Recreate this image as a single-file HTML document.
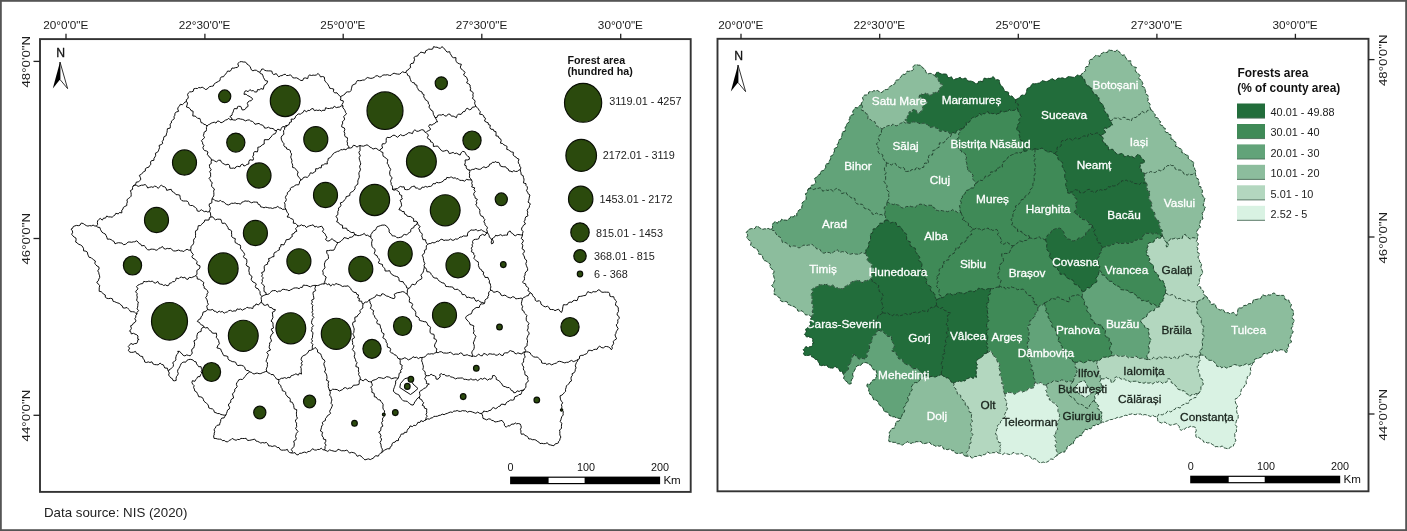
<!DOCTYPE html>
<html lang="en"><head><meta charset="utf-8"><title>Forest area in Romania by county</title>
<style>html,body{margin:0;padding:0;background:#fff}body{width:1407px;height:531px;overflow:hidden}svg{display:block;filter:blur(.45px)}text{font-family:"Liberation Sans",Arial,sans-serif}.t{font-size:11.75px;fill:#1c1c1c}.lb{font-size:11.8px;text-anchor:middle;stroke-width:.3px}.w{fill:#fff;stroke:#fff}.d{fill:#18221b;stroke:#18221b}.lg{font-size:10.85px;fill:#1c1c1c}.lt{font-size:10.7px;font-weight:bold;fill:#111}</style></head><body>
<svg width="1407" height="531" viewBox="0 0 1407 531">
<rect x="0" y="0" width="1407" height="531" fill="#fff"/>
<rect x="0.9" y="0.9" width="1405.2" height="529.2" fill="none" stroke="#555" stroke-width="1.8"/>
<rect x="40" y="39.1" width="650.7" height="452.8" fill="#fff" stroke="#333" stroke-width="1.9"/>
<rect x="717.5" y="38.8" width="651" height="452.5" fill="#fff" stroke="#333" stroke-width="1.9"/>
<line x1="66" y1="33.8" x2="66" y2="39" stroke="#222" stroke-width="1.3"/>
<text class="t" x="65.7" y="29.2" text-anchor="middle">20°0'0&quot;E</text>
<line x1="204.9" y1="33.8" x2="204.9" y2="39" stroke="#222" stroke-width="1.3"/>
<text class="t" x="204.6" y="29.2" text-anchor="middle">22°30'0&quot;E</text>
<line x1="343.2" y1="33.8" x2="343.2" y2="39" stroke="#222" stroke-width="1.3"/>
<text class="t" x="342.9" y="29.2" text-anchor="middle">25°0'0&quot;E</text>
<line x1="481.8" y1="33.8" x2="481.8" y2="39" stroke="#222" stroke-width="1.3"/>
<text class="t" x="481.5" y="29.2" text-anchor="middle">27°30'0&quot;E</text>
<line x1="620.7" y1="33.8" x2="620.7" y2="39" stroke="#222" stroke-width="1.3"/>
<text class="t" x="620.4000000000001" y="29.2" text-anchor="middle">30°0'0&quot;E</text>
<line x1="741" y1="33.8" x2="741" y2="39" stroke="#222" stroke-width="1.3"/>
<text class="t" x="740.7" y="29.2" text-anchor="middle">20°0'0&quot;E</text>
<line x1="879.7" y1="33.8" x2="879.7" y2="39" stroke="#222" stroke-width="1.3"/>
<text class="t" x="879.4000000000001" y="29.2" text-anchor="middle">22°30'0&quot;E</text>
<line x1="1018.3" y1="33.8" x2="1018.3" y2="39" stroke="#222" stroke-width="1.3"/>
<text class="t" x="1018.0" y="29.2" text-anchor="middle">25°0'0&quot;E</text>
<line x1="1156.9" y1="33.8" x2="1156.9" y2="39" stroke="#222" stroke-width="1.3"/>
<text class="t" x="1156.6000000000001" y="29.2" text-anchor="middle">27°30'0&quot;E</text>
<line x1="1295.4" y1="33.8" x2="1295.4" y2="39" stroke="#222" stroke-width="1.3"/>
<text class="t" x="1295.1000000000001" y="29.2" text-anchor="middle">30°0'0&quot;E</text>
<line x1="33.5" y1="61.4" x2="40" y2="61.4" stroke="#222" stroke-width="1.3"/>
<text class="t" transform="translate(29.8,61.699999999999996) rotate(-90) scale(1.13,1)" text-anchor="middle">48°0'0&quot;N</text>
<line x1="33.5" y1="238.5" x2="40" y2="238.5" stroke="#222" stroke-width="1.3"/>
<text class="t" transform="translate(29.8,238.8) rotate(-90) scale(1.13,1)" text-anchor="middle">46°0'0&quot;N</text>
<line x1="33.5" y1="415.3" x2="40" y2="415.3" stroke="#222" stroke-width="1.3"/>
<text class="t" transform="translate(29.8,415.6) rotate(-90) scale(1.13,1)" text-anchor="middle">44°0'0&quot;N</text>
<line x1="1368.5" y1="59.6" x2="1374.5" y2="59.6" stroke="#222" stroke-width="1.3"/>
<text class="t" transform="translate(1386.6,60.300000000000004) rotate(-90) scale(1.13,1)" text-anchor="middle">48°0'0&quot;N</text>
<line x1="1368.5" y1="237" x2="1374.5" y2="237" stroke="#222" stroke-width="1.3"/>
<text class="t" transform="translate(1386.6,237.7) rotate(-90) scale(1.13,1)" text-anchor="middle">46°0'0&quot;N</text>
<line x1="1368.5" y1="414" x2="1374.5" y2="414" stroke="#222" stroke-width="1.3"/>
<text class="t" transform="translate(1386.6,414.7) rotate(-90) scale(1.13,1)" text-anchor="middle">44°0'0&quot;N</text>
<text x="60.6" y="56.9" text-anchor="middle" style="font-size:12.2px;fill:#111;stroke:#111;stroke-width:.3px">N</text><path d="M60,62 L52.8,88.6 L60,79.5 Z" fill="#000"/><path d="M60,62 L67.6,88.6 L60,79.5 Z" fill="#fff" stroke="#000" stroke-width="0.8" stroke-linejoin="miter"/>
<text x="738.6" y="59.9" text-anchor="middle" style="font-size:12.2px;fill:#111;stroke:#111;stroke-width:.3px">N</text><path d="M738,65 L730.8,91.6 L738,82.5 Z" fill="#000"/><path d="M738,65 L745.6,91.6 L738,82.5 Z" fill="#fff" stroke="#000" stroke-width="0.8" stroke-linejoin="miter"/>
<g fill="none" stroke="#000" stroke-width="0.95" stroke-linejoin="round">
<path d="M186.5,101.5 L186.3,99.7 L188.1,98.4 L188.3,96.7 L187.5,94.7 L188.3,93.1 L189.6,91.9 L191.5,91.8 L193.2,91.3 L193.8,88.8 L195.6,88.4 L197.5,88.5 L198.7,87.5 L200.4,87.8 L202.2,87.2 L203.8,88.0 L205.3,89.5 L207.2,89.1 L208.3,87.7 L209.7,86.6 L211.5,86.3 L213.3,86.0 L214.2,84.1 L215.4,82.9 L217.0,82.2 L218.5,81.3 L220.0,80.5 L220.3,78.3 L221.3,76.9 L223.6,76.7 L224.5,75.2 L225.7,74.0 L226.7,72.6 L227.6,71.0 L230.1,71.3 L231.2,69.9 L232.0,68.0 L233.9,68.2 L235.6,67.6 L237.3,67.5 L238.6,66.0 L237.7,63.7 L239.1,62.5 L239.8,61.8 L241.6,61.6 L243.3,62.0 L245.1,62.0 L246.6,63.0 L247.2,64.3 L248.8,65.3 L250.2,66.6 L250.7,68.2 L251.4,69.9 L252.9,70.8 L254.9,70.1 L256.6,70.4 L258.0,71.6 L259.7,72.0"/>
<path d="M259.7,72.0 L261.0,70.8 L261.8,69.0 L263.4,69.1 L264.9,70.4 L266.6,70.8 L268.3,70.9 L270.1,70.9 L271.9,71.2 L272.4,73.5 L273.8,74.6 L276.3,73.6 L277.3,75.2 L278.8,76.9 L280.3,75.8 L282.0,75.6 L283.5,74.7 L285.2,74.2 L286.5,75.5 L288.3,75.5 L290.5,74.8 L291.7,76.2 L292.9,77.8 L294.7,78.0 L296.5,77.8 L298.0,78.6 L299.5,79.6 L300.9,80.5 L302.8,80.4 L303.6,78.3 L305.3,77.9 L307.7,78.6 L308.3,76.4 L309.4,74.9 L311.5,75.5 L313.1,75.1 L314.8,75.3 L316.5,74.9 L318.1,73.4 L319.6,75.2 L320.5,76.9 L322.7,76.5 L324.4,77.2 L324.6,79.4 L324.9,81.1 L326.2,82.3 L327.4,83.6 L328.2,84.9 L329.1,86.5 L329.7,88.2 L331.7,88.6 L333.7,89.0 L333.5,91.7 L334.7,92.9 L337.0,92.8 L338.0,94.3 L339.2,95.4 L340.5,96.5"/>
<path d="M340.5,96.5 L342.1,95.9 L343.6,95.0 L345.0,94.0 L346.0,92.4 L347.6,91.8 L349.6,92.0 L351.0,90.6 L351.4,88.8 L351.8,87.1 L352.2,85.4 L354.0,84.4 L355.9,83.6 L356.2,82.3 L357.4,80.5 L359.3,80.7 L361.0,80.6 L362.6,80.1 L364.4,80.0 L365.8,78.8 L367.3,77.5 L369.1,78.0 L370.9,78.4 L372.6,78.1 L374.2,77.4 L375.6,76.1 L377.3,75.6 L379.3,76.9 L380.9,76.9 L382.4,75.3 L384.1,74.9 L385.8,75.0 L387.5,74.7 L389.3,75.4 L391.0,75.4 L392.5,73.8 L394.1,73.2 L395.9,73.8 L397.7,74.1 L399.4,74.2 L401.0,73.2 L402.5,71.7 L404.3,72.5 L406.0,72.5"/>
<path d="M406.0,72.5 L406.5,70.7 L408.2,69.9 L409.2,68.5 L410.7,67.5 L410.1,65.0 L411.0,63.6 L413.5,63.1 L413.9,61.4 L414.6,59.8 L413.9,57.5 L415.4,56.4 L417.9,55.8 L418.2,54.5 L419.6,53.5 L420.8,52.1 L422.9,52.6 L425.0,53.2 L425.8,50.7 L427.3,50.0 L428.7,49.1 L430.8,49.3 L432.6,49.1 L433.6,46.6 L435.3,47.2 L437.0,47.2 L438.7,48.0 L440.4,48.4 L442.1,46.5 L443.6,48.3 L445.0,49.3 L445.9,50.9 L447.1,52.1 L449.7,51.7 L450.2,53.7 L451.2,55.1 L451.9,56.7 L453.4,57.7 L456.0,57.7 L455.8,60.1 L456.4,61.7 L457.5,63.0 L459.3,63.8 L461.4,64.3 L460.3,67.1 L460.9,68.7 L462.4,69.8 L463.8,71.0 L465.0,72.4 L463.5,75.0 L464.9,76.1 L466.6,77.3 L467.2,78.9 L467.8,80.5 L466.6,82.8 L468.6,83.8 L470.1,85.0 L470.1,86.9 L470.7,88.4 L470.1,90.5 L472.2,91.5 L473.3,93.1 L472.8,94.9 L473.2,96.6 L472.4,98.4 L474.3,99.8 L475.1,101.3 L474.6,103.2 L475.2,104.8 L475.8,106.4"/>
<path d="M475.8,106.4 L477.2,107.5 L478.3,108.8 L479.1,110.3 L480.3,111.6 L479.6,114.2 L482.1,114.5 L483.6,115.6 L484.0,117.3 L485.6,118.4 L484.5,121.0 L486.1,122.0 L488.2,122.8 L488.4,124.6 L490.3,125.2 L489.9,127.8 L490.9,129.2 L493.3,129.4 L493.9,131.1 L495.9,131.6 L496.1,133.8 L495.9,135.8 L498.4,136.3 L498.9,138.0 L500.6,138.9 L501.2,140.6 L500.4,143.1 L502.7,143.6 L503.9,144.9 L505.6,145.6 L507.1,146.5 L506.7,149.3 L508.5,149.9 L509.9,150.9 L511.4,151.9 L513.4,152.3 L513.1,155.0 L514.3,156.2 L515.9,157.0 L516.9,158.3 L519.0,159.2 L518.3,161.4 L518.4,163.2 L519.6,164.5 L519.7,166.1 L520.9,167.8 L520.3,169.5"/>
<path d="M520.3,169.5 L520.5,171.2 L521.0,172.8 L521.1,174.6 L523.2,175.7 L523.4,177.4 L524.0,179.0 L523.9,180.8 L523.4,182.9 L526.0,183.7 L526.0,185.5 L527.3,186.8 L527.4,188.7 L526.5,190.7 L527.6,192.1 L528.1,193.7 L530.0,195.0 L529.3,197.0 L529.1,198.7 L528.7,200.4 L528.0,202.1 L530.4,203.8 L529.5,205.5 L529.3,207.2 L528.2,208.7 L527.1,210.2 L527.8,212.1 L527.4,213.8 L528.0,215.8 L525.8,216.8 L525.2,218.4 L525.0,220.1 L524.1,221.6 L525.5,224.0 L523.6,225.1 L522.7,226.6 L521.7,228.0 L521.6,229.9 L523.1,231.6 L522.6,233.3 L522.5,235.0"/>
<path d="M522.5,235.0 L522.1,236.7 L521.2,238.4 L523.3,240.2 L523.0,241.9 L521.7,243.6 L522.8,245.2 L522.5,247.0 L522.0,248.7 L524.2,250.2 L524.4,251.9 L522.8,253.8 L523.7,255.4 L524.5,257.0 L524.7,258.7 L526.4,260.0 L526.6,261.7 L525.8,263.6 L526.3,265.3 L526.9,266.9 L527.6,268.5 L527.6,270.5 L526.0,271.7 L525.1,273.2 L525.1,275.0 L524.2,276.5 L524.5,278.4 L524.3,280.2 L522.4,282.0 L523.7,283.2 L525.7,283.9 L525.9,285.8 L527.3,287.0 L528.7,288.1 L527.9,290.7 L529.4,291.6 L530.5,293.0"/>
<path d="M530.5,293.0 L532.1,293.9 L532.7,295.6 L533.7,297.0 L535.1,298.1 L535.2,300.2 L536.7,301.3 L539.4,300.7 L540.6,301.9 L541.0,304.2 L542.3,305.2 L543.7,306.2 L545.4,306.9 L547.4,306.2 L548.9,307.3 L549.9,309.4 L551.7,309.5 L553.5,309.6 L555.0,310.7 L556.8,309.8 L558.6,309.2 L560.0,311.4 L561.6,312.4 L562.5,309.8 L562.7,308.0 L563.0,306.3 L563.4,304.7 L565.5,304.8 L567.3,304.7 L568.5,302.6 L570.1,302.1 L571.9,302.3 L573.0,300.8 L574.7,300.3 L577.0,300.7 L577.8,298.8 L578.5,296.5 L580.3,296.4 L582.1,296.1 L583.8,295.6 L585.6,295.5 L586.6,293.6 L587.8,291.6 L589.8,292.5 L591.6,292.8 L593.1,291.6 L594.9,291.9 L596.6,291.6 L598.2,289.8 L599.9,290.2 L601.4,292.1 L603.1,292.3 L604.8,292.1 L606.5,292.2 L608.6,292.2 L609.6,293.6 L609.9,296.2 L611.6,296.7 L613.7,296.7 L614.2,298.5 L615.2,300.0 L616.5,301.3 L615.6,303.5 L615.5,305.3 L617.5,306.4 L618.3,308.0 L618.3,309.8 L618.5,311.4 L617.3,313.3 L617.1,315.0 L619.1,316.7 L619.2,318.4 L617.7,319.9 L617.9,321.7 L617.6,323.4 L616.2,324.9 L617.0,326.7 L618.2,328.6 L617.2,330.2 L616.2,331.8 L615.9,333.4 L615.0,334.9 L615.7,336.9 L616.6,338.8 L614.7,340.1 L613.1,341.5 L613.7,343.3 L612.9,344.9 L611.8,346.2 L612.3,348.3 L611.4,349.8 L609.9,347.8 L608.4,346.9 L606.6,346.5 L605.1,346.5 L603.6,347.8 L601.9,347.8 L599.7,346.2 L598.2,347.2 L597.1,349.3 L595.3,349.3 L593.6,349.6 L592.2,350.8 L590.2,350.3 L588.4,350.3 L587.5,352.5 L586.4,353.9 L584.7,354.4 L583.2,355.3 L581.2,355.4 L579.5,356.2 L579.5,358.7 L577.9,359.5"/>
<path d="M577.9,359.5 L577.5,361.2 L576.4,362.6 L575.8,364.2 L575.3,365.8 L576.1,367.9 L575.3,369.4 L575.1,371.2 L574.2,372.7 L572.1,373.7 L572.3,375.6 L571.2,376.9 L571.0,378.7 L571.5,380.9 L569.8,381.9 L569.2,383.5 L567.6,384.7 L566.4,385.9 L566.1,387.7 L565.5,389.3 L565.6,391.3 L564.3,392.6 L563.3,393.9 L561.9,395.1 L560.0,395.9 L560.3,398.1 L560.6,399.8 L561.5,401.3 L562.7,402.8 L561.4,404.8 L561.9,406.5 L561.7,408.3 L562.0,409.9 L563.3,411.5 L563.1,413.2 L563.2,415.0 L561.9,416.5 L561.3,418.1 L560.9,419.8 L560.2,421.5 L561.8,423.3 L561.5,425.0 L561.4,426.7 L561.5,428.4 L559.5,430.0 L559.9,431.7 L559.8,433.4 L559.9,435.1 L560.9,437.0 L560.1,438.6 L559.7,440.3 L558.4,441.8 L558.6,442.7 L557.0,443.5 L555.3,443.8 L553.9,445.7 L552.1,445.4 L550.3,444.9 L548.7,444.6 L547.3,442.7 L545.4,443.6 L543.6,443.7 L541.9,443.3 L540.0,443.6 L538.8,442.0 L537.2,441.2 L535.9,440.1 L534.3,439.6 L532.3,439.7 L530.8,438.9 L528.8,439.0 L527.9,437.2 L526.6,435.9 L524.9,435.5 L523.7,433.9 L521.4,434.3 L520.8,432.6 L521.0,430.9 L520.4,429.4 L521.3,427.3 L520.9,425.7 L520.3,424.1 L518.3,423.5 L516.4,423.8 L515.3,422.8 L514.2,424.1 L512.0,424.1 L510.5,424.9 L509.6,426.1 L507.9,425.6 L506.2,427.3 L504.4,425.4 L504.3,423.4 L503.2,422.1 L502.0,420.4 L500.2,420.8 L498.5,421.4 L496.7,421.7 L495.0,422.0 L493.4,420.7 L491.7,420.3 L490.2,419.0 L488.5,418.9 L486.6,419.9 L485.0,419.1 L483.0,418.4 L482.7,416.5 L482.4,414.6 L481.0,413.5"/>
<path d="M481.0,413.5 L479.3,413.2 L477.8,412.0 L475.8,413.3 L474.2,412.7 L472.6,412.1 L470.9,411.5 L469.2,411.4 L467.4,412.2 L465.8,410.8 L464.1,410.9 L462.4,410.6 L460.7,411.4 L458.9,411.3 L457.2,410.5 L455.5,411.1 L453.8,411.1 L452.4,412.4 L450.5,412.0 L448.9,412.6 L447.3,413.4 L445.7,413.8 L444.1,414.7 L442.2,414.1 L440.7,415.2 L439.0,415.4 L437.5,416.2 L435.7,416.4 L433.9,416.3 L432.6,417.8 L430.9,418.0 L429.5,419.1 L427.5,418.8 L426.1,419.8 L424.5,420.5"/>
<path d="M424.5,420.5 L423.1,421.6 L420.9,420.6 L419.9,422.5 L417.9,422.3 L417.0,424.3 L415.7,425.5 L413.7,425.3 L412.5,426.6 L410.0,425.9 L409.4,427.9 L408.1,428.8 L407.2,430.4 L406.7,432.4 L404.4,432.3 L403.7,434.0 L401.3,434.0 L400.5,435.6 L399.8,437.3 L398.6,438.4 L398.4,440.6 L396.1,440.7 L395.1,442.1 L393.2,442.6 L392.0,443.7 L391.8,445.9 L390.3,446.8 L389.7,448.9 L387.6,448.7 L386.0,449.4 L384.5,450.2 L383.1,451.1 L382.0,452.5"/>
<path d="M382.0,452.5 L380.4,453.2 L379.2,454.5 L378.3,456.2 L375.9,455.7 L374.4,456.6 L373.4,458.2 L371.8,458.8 L370.3,459.6 L368.2,458.8 L367.2,459.2 L364.9,459.9 L363.6,458.6 L362.3,457.5 L361.1,456.1 L359.5,455.4 L357.2,456.3 L356.1,454.6 L354.9,453.1 L353.2,452.6 L351.5,452.3 L349.5,453.1 L348.2,451.5 L346.8,450.0 L344.8,450.8 L343.1,450.7 L341.6,450.8 L339.8,449.9 L338.0,449.2 L336.5,451.2 L334.8,451.4 L333.0,450.9 L331.3,450.5 L329.7,449.8 L327.8,451.4 L326.1,450.6 L324.5,450.0"/>
<path d="M324.5,450.0 L322.8,449.7 L321.3,448.2 L319.4,449.5 L317.7,449.4 L316.4,450.1 L314.6,450.0 L312.5,448.7 L311.2,450.4 L309.7,451.4 L308.0,451.5 L306.6,452.8 L304.7,452.1 L303.0,452.5 L301.5,453.3 L299.7,453.2 L298.1,454.9 L296.4,454.6 L295.0,452.6 L293.2,453.0 L291.5,453.0"/>
<path d="M291.5,453.0 L289.8,452.6 L288.4,451.6 L287.4,449.4 L285.3,450.1 L283.5,450.1 L281.7,450.2 L280.1,449.5 L279.0,447.5 L277.2,447.5 L275.8,446.2 L274.2,445.8 L272.2,446.5 L270.6,445.9 L268.7,445.9 L267.7,443.7 L266.3,442.4 L264.3,443.0 L262.7,442.5 L260.8,443.1 L259.3,442.2 L257.7,441.4 L256.1,441.1 L254.7,439.1 L252.9,439.6 L251.1,440.0 L249.3,440.4 L247.5,440.4 L246.1,438.3 L244.4,438.5 L242.7,438.5 L241.0,438.4 L239.3,439.6 L237.6,439.4 L236.1,440.3 L234.2,439.6 L232.2,438.4 L230.8,439.8 L229.2,440.4 L227.7,441.9 L225.8,441.6 L224.2,440.4 L222.4,440.7 L220.9,439.1 L219.5,439.2 L217.6,439.0 L215.9,438.5 L214.0,438.4 L213.6,435.8 L214.2,435.0 L214.2,433.2 L214.7,431.6 L214.0,429.4 L215.3,428.2 L215.9,426.6 L217.1,425.3 L219.6,424.9 L219.9,423.1 L220.6,421.6 L220.8,419.5 L221.8,418.1 L224.1,417.9 L224.9,416.3 L226.0,415.0"/>
<path d="M226.0,415.0 L224.2,415.2 L222.6,414.8 L220.9,414.5 L219.3,413.5 L217.7,413.6 L216.1,412.8 L214.4,412.3 L213.8,410.2 L212.6,409.0 L210.7,408.6 L208.8,407.9 L208.5,406.0 L207.8,404.4 L206.5,403.3 L205.1,402.2 L203.8,401.0 L203.3,399.2 L202.4,397.6 L200.8,396.9 L198.7,396.7 L198.0,394.8 L197.3,393.4 L196.5,391.9 L194.7,390.9 L194.4,389.1 L193.6,387.6 L194.1,385.6 L192.8,384.3 L191.9,382.7 L192.4,380.7 L194.9,381.3 L195.8,379.6 L196.9,378.3 L197.8,376.7 L200.0,376.6 L200.5,374.8 L201.8,373.5 L201.1,371.3 L202.2,370.0 L201.4,368.8 L201.1,366.7 L198.6,366.7 L197.7,365.3 L196.6,363.9 L196.1,361.9 L194.2,361.4 L193.1,360.1 L192.1,359.7 L190.2,359.3 L188.5,359.6 L186.9,360.4 L185.7,362.2 L183.9,362.0 L182.2,362.6 L181.0,363.9 L180.4,365.4 L179.7,366.9 L178.8,368.5 L177.8,369.9 L177.6,371.7 L178.3,373.6 L177.6,375.2 L176.4,376.7 L176.1,378.4 L176.2,380.4 L174.5,380.8 L173.0,380.5 L172.4,378.7 L170.8,377.9 L169.7,376.5 L168.6,375.0 L169.3,373.0 L168.5,371.5"/>
<path d="M168.5,371.5 L167.8,369.9 L167.4,368.2 L164.8,368.0 L164.1,366.4 L163.3,364.8 L161.6,364.4 L160.1,363.1 L158.1,364.9 L156.4,364.7 L154.7,364.6 L153.1,364.0 L151.9,361.8 L149.9,362.5 L148.3,361.9 L146.3,362.5 L144.7,362.0 L144.3,359.7 L142.9,358.5 L142.7,356.6 L140.4,356.1 L139.0,355.0 L138.4,353.8 L136.7,353.6 L135.5,351.4 L133.5,352.2 L131.7,352.4 L130.0,352.2 L128.3,350.6 L129.6,348.1 L128.4,346.8 L128.3,346.4 L129.6,345.1 L130.9,343.4 L133.0,344.5 L134.5,343.6 L136.6,343.5 L137.5,341.9 L137.9,339.6 L139.1,339.5 L137.6,338.6 L138.0,336.0 L136.8,334.8 L135.0,334.1 L133.5,333.3 L131.3,333.9 L130.6,331.5 L129.5,331.2 L130.6,329.8 L131.4,328.4 L130.6,325.8 L132.4,325.0 L133.2,323.4 L135.0,322.4 L136.0,320.9 L134.8,318.7 L135.8,317.2 L135.8,315.4 L137.0,314.0"/>
<path d="M137.0,314.0 L135.6,313.1 L134.3,311.9 L132.5,311.7 L130.5,311.7 L129.5,310.0 L128.2,308.8 L127.0,307.5 L124.7,308.1 L122.9,307.8 L122.2,305.8 L120.7,304.9 L119.6,303.5 L117.9,303.0 L116.2,302.4 L114.7,301.7 L113.1,301.3 L112.4,298.8 L110.7,298.3 L108.7,298.6 L106.9,298.3 L105.3,297.2 L105.3,295.0 L103.6,294.2 L102.5,292.8 L101.2,291.7 L99.2,291.3 L99.2,289.1 L99.3,287.3 L99.8,285.5 L98.2,284.1 L96.7,282.1 L98.4,280.7 L98.8,279.1 L99.7,277.5 L99.6,275.8 L99.0,274.1 L98.7,272.4 L97.7,270.9 L99.1,268.9 L98.8,266.9 L97.0,266.0 L95.7,264.7 L94.8,263.3 L95.4,261.0 L93.8,259.9 L92.4,258.9 L91.2,257.7 L89.2,257.4 L88.4,255.8 L87.7,254.1 L87.4,252.2 L85.9,251.2 L83.5,250.8 L83.6,248.7 L82.8,247.1 L81.8,245.7 L80.3,244.8 L78.5,244.3 L77.4,243.0 L75.6,242.0 L76.1,239.8 L75.9,238.0 L74.1,237.0 L72.8,235.8 L71.7,234.3 L72.7,232.2 L72.2,230.5 L71.0,229.1 L72.5,228.4 L73.3,226.5 L74.9,225.9 L76.6,225.4 L78.3,225.7 L80.0,225.2 L81.3,223.0 L83.3,223.6 L84.8,224.7 L86.3,225.6 L87.9,226.1 L89.7,225.6 L91.4,225.9 L93.1,225.1 L94.8,226.0 L96.5,226.0"/>
<path d="M96.5,226.0 L97.6,224.5 L97.4,222.7 L97.6,220.9 L98.7,219.6 L100.2,218.4 L102.3,220.1 L103.6,218.1 L105.4,218.2 L106.7,216.0 L108.6,216.9 L110.3,216.9 L112.2,217.2 L113.6,215.9 L115.1,214.9 L115.8,213.3 L118.3,213.9 L119.4,212.5 L121.8,212.9 L121.8,210.1 L122.9,209.2 L123.3,207.5 L124.9,206.4 L126.8,205.5 L126.8,203.5 L127.4,201.9 L126.9,199.8 L128.3,198.6 L129.8,197.5 L131.1,196.2 L131.2,194.4 L131.0,192.5 L130.4,190.6 L132.6,189.4 L132.5,187.6 L133.0,186.0"/>
<path d="M133.0,186.0 L134.7,185.4 L135.7,183.9 L136.4,182.0 L138.5,181.9 L139.7,180.7 L140.8,179.2 L140.3,177.3 L139.3,175.4 L141.3,174.3 L142.5,173.0 L143.5,171.7 L145.3,171.0 L145.4,168.7 L146.9,167.7 L148.8,167.2 L149.6,165.6 L150.9,164.4 L150.5,162.1 L151.4,160.7 L153.9,160.3 L154.0,158.3 L155.0,156.9 L155.7,155.3 L155.4,153.2 L157.4,152.3 L158.4,150.9 L158.9,149.3 L159.6,147.7 L159.0,145.5 L161.1,144.6 L162.7,143.5 L162.2,141.4 L163.4,140.0 L163.6,138.2 L164.1,136.6 L166.2,135.7 L166.4,133.9 L167.0,132.3 L167.2,130.5 L167.4,128.7 L170.1,128.1 L170.4,126.3 L170.0,124.2 L171.4,123.0 L171.4,121.1 L172.8,119.9 L174.3,118.7 L174.0,116.7 L174.9,115.2 L174.9,113.3 L176.2,112.1 L178.6,111.3 L177.7,109.0 L178.1,107.3 L179.5,106.1 L180.3,104.3 L182.4,104.7 L183.7,103.5 L184.9,102.1 L186.5,101.5"/>
<path d="M186.5,101.5 L187.5,103.0 L187.1,104.9 L186.4,107.0 L189.0,107.8 L190.3,109.0 L191.0,110.6 L193.1,111.2 L193.0,113.4 L192.8,116.0 L195.1,116.1 L196.5,117.2 L197.7,118.4 L199.8,118.4 L200.5,120.3 L201.0,122.6 L202.7,123.1 L204.0,124.3 L205.8,124.8 L207.0,126.0"/>
<path d="M207.0,126.0 L208.3,124.8 L209.8,124.2 L211.2,123.2 L212.8,122.6 L214.3,122.2 L216.0,123.1 L217.7,120.9 L219.3,121.4 L221.0,122.8 L222.8,122.1 L224.1,121.1 L225.5,120.1 L227.2,119.6 L228.8,118.3 L230.2,119.9 L232.0,119.5"/>
<path d="M259.7,72.0 L260.4,73.6 L262.4,74.2 L263.0,75.9 L263.5,77.6 L264.4,79.1 L265.2,80.6 L267.7,81.1 L267.0,83.0 L266.0,84.4 L264.3,85.2 L263.8,87.0 L263.2,89.3 L260.8,88.5 L259.7,89.9 L257.6,89.5 L256.9,91.9 L254.8,92.0 L253.3,90.6 L251.5,90.8 L249.9,89.6 L248.1,91.7 L246.4,90.8 L245.0,91.1 L244.3,92.7 L244.0,94.4 L246.0,94.1 L247.4,95.5 L249.0,96.1 L250.5,97.1 L251.6,97.6 L252.6,99.1 L251.2,100.7 L249.4,101.0 L248.0,102.0 L247.3,103.4 L248.0,105.0 L247.9,106.7 L246.5,107.1 L245.5,108.9 L244.1,109.8 L242.1,109.9 L241.5,108.0 L240.7,106.4 L238.5,106.3 L237.5,106.7 L237.1,108.8 L234.4,108.5 L233.6,110.2 L233.2,111.9 L232.3,113.4 L232.0,115.2 L229.8,116.6 L231.6,117.8 L232.0,119.5"/>
<path d="M232.0,119.5 L233.7,120.0 L235.5,120.1 L237.2,118.9 L238.9,118.6 L240.6,119.1 L242.3,119.3 L244.0,120.0 L245.4,120.9 L247.4,120.1 L249.3,119.9 L250.7,121.0 L252.4,121.4 L253.8,122.6 L255.0,124.3 L257.0,123.8 L259.0,123.4 L260.4,124.6 L262.1,125.0 L263.6,125.9 L264.6,128.1 L266.5,128.0 L268.6,127.2 L270.0,128.3 L271.8,128.4 L273.5,128.7 L274.8,130.6 L276.6,130.4"/>
<path d="M276.6,130.4 L277.9,129.1 L280.5,130.4 L281.3,128.3 L282.5,126.7 L284.4,126.6 L285.8,125.6 L287.6,125.3"/>
<path d="M287.6,125.3 L289.2,124.4 L289.5,122.4 L291.5,121.9 L291.1,119.1 L293.6,119.2 L295.0,118.2 L295.6,116.3 L296.9,115.2 L298.2,113.9 L300.3,114.2 L301.7,113.2 L303.2,112.3 L304.3,110.2 L306.6,111.9 L307.9,110.3 L309.8,110.6 L311.1,109.0 L313.1,108.5 L314.4,110.7 L316.3,110.1 L317.9,110.5 L319.8,110.0 L321.4,111.1 L322.9,110.2 L324.8,110.5 L325.6,107.7 L327.7,108.5 L329.5,108.5 L331.1,108.0 L332.9,108.2 L334.3,106.2 L336.3,107.6 L338.0,107.2 L339.7,107.0 L341.2,105.8 L343.0,106.0"/>
<path d="M340.5,96.5 L340.9,98.1 L340.3,100.0 L343.3,100.9 L343.2,102.6 L342.0,104.5 L343.0,106.0"/>
<path d="M207.0,126.0 L206.4,127.6 L206.5,129.4 L206.1,131.1 L204.1,132.2 L203.9,133.9 L203.4,135.5 L204.6,137.7 L203.1,139.0 L201.4,140.7 L202.5,142.3 L202.7,144.0 L204.0,145.6 L202.9,147.4 L203.4,149.2 L204.5,150.5 L206.5,151.0 L208.0,152.0 L207.2,154.6 L208.7,155.8 L209.4,157.3 L211.0,158.3 L211.5,160.0"/>
<path d="M276.6,130.4 L276.1,132.1 L275.3,133.7 L273.2,134.3 L272.0,135.6 L271.2,136.9 L269.9,138.0 L268.8,139.6 L266.9,139.7 L264.4,139.7 L264.2,141.8 L264.2,144.0 L262.4,144.7 L261.2,146.0 L259.7,146.9 L257.8,147.3 L257.9,149.9 L257.4,151.9 L254.6,151.5 L253.5,153.1 L253.7,155.0 L252.7,156.5 L253.5,158.6 L253.1,160.2 L249.8,159.8 L248.9,161.4 L248.8,164.0 L246.9,164.4 L245.6,165.5 L243.9,166.0 L242.6,164.0 L240.6,165.2 L240.1,166.8 L237.6,166.3 L235.9,166.9 L234.9,168.5 L233.8,168.0 L231.7,168.3 L229.9,168.1 L229.5,165.3 L228.1,164.2 L225.8,164.9 L224.2,164.1 L222.8,163.3 L221.4,162.2 L220.5,160.2 L218.4,160.3 L216.5,161.8 L214.8,161.1 L213.2,160.0 L211.5,160.0"/>
<path d="M211.5,160.0 L211.1,161.7 L211.3,163.5 L209.4,164.7 L209.5,166.5 L209.9,168.2 L211.3,169.5 L209.6,171.8 L210.6,173.1 L210.6,174.9 L210.6,176.7 L209.0,178.3 L210.1,179.7 L210.6,181.3 L212.3,182.6 L211.6,184.6 L211.7,186.4 L212.9,187.8 L214.5,189.0 L213.6,191.1 L213.8,192.4 L213.9,194.3 L213.8,196.0 L212.7,197.4 L212.0,199.0"/>
<path d="M212.0,199.0 L211.8,200.8 L211.9,202.8 L209.3,203.9 L209.2,205.9 L210.3,207.8 L210.0,209.6 L209.5,211.4"/>
<path d="M133.0,186.0 L134.6,185.1 L136.3,185.2 L138.2,186.4 L139.8,185.8 L141.5,185.2 L143.1,185.2 L145.1,184.5 L146.5,185.7 L147.7,188.0 L149.6,187.3 L151.5,186.8 L153.0,187.4 L154.6,186.1 L156.3,186.6 L158.3,188.4 L159.8,186.5 L161.3,185.0 L163.0,186.5 L164.7,186.9 L166.0,188.1 L166.7,190.4 L169.0,189.7 L171.2,189.3 L172.0,191.3 L173.4,192.2 L174.9,193.2 L176.0,194.7 L177.9,194.7 L179.9,195.3 L180.1,197.3 L180.5,199.2 L181.9,200.6 L183.5,201.0 L185.4,201.0 L187.2,201.1 L188.5,202.5 L189.0,204.7 L190.5,205.5 L192.6,205.5 L194.0,206.5 L195.4,207.5 L196.7,208.6 L197.2,210.9 L199.2,211.4 L201.3,209.7 L202.8,210.7 L204.4,211.7 L206.1,211.2 L207.8,212.1 L209.5,211.4"/>
<path d="M209.5,211.4 L210.5,213.1 L210.6,215.1 L211.0,217.0"/>
<path d="M212.0,199.0 L213.7,199.2 L215.1,200.7 L216.8,200.9 L218.5,201.4 L220.6,200.4 L221.9,201.7 L223.7,201.8 L225.0,203.3 L226.4,204.3 L228.3,205.0 L230.0,204.2 L231.7,203.2 L233.4,203.4 L235.1,202.9 L236.9,203.7 L238.6,203.5 L240.5,204.2 L241.8,202.3 L243.5,201.7 L245.0,200.9 L246.9,201.2 L248.6,201.1 L250.1,202.1 L251.7,202.8 L253.6,202.0 L255.4,202.1 L257.4,202.2 L258.2,204.3 L259.9,204.8 L260.6,206.8 L262.4,207.2 L264.0,207.8 L265.6,207.2 L267.3,207.5 L269.1,208.0 L270.8,207.9 L272.6,208.5 L274.2,207.8 L275.9,207.6 L277.8,206.4 L279.3,207.8 L281.0,208.1 L282.5,209.4 L284.3,209.2 L286.0,209.3"/>
<path d="M287.6,125.3 L286.5,126.6 L284.6,127.3 L284.6,129.5 L283.5,130.7 L283.7,132.6 L283.8,134.4 L282.1,135.7 L281.2,137.2 L281.3,139.2 L281.9,140.8 L282.8,142.3 L284.1,143.8 L283.7,145.2 L284.7,146.8 L286.4,147.4 L286.7,149.0 L288.9,149.6 L290.4,150.6 L290.6,152.6 L291.6,153.9 L291.2,155.5 L290.7,157.1 L291.4,158.9 L292.0,160.7 L291.6,162.4 L292.2,163.6 L292.7,165.3 L292.5,167.4 L294.6,168.0 L295.9,169.2 L296.8,170.7 L298.2,171.9 L297.4,174.2 L297.8,175.9 L298.9,177.2 L300.0,178.6 L301.0,180.0"/>
<path d="M301.0,180.0 L299.7,181.2 L299.4,183.1 L298.7,184.8 L296.3,184.8 L294.7,185.5 L293.5,186.9 L291.7,187.1 L290.4,188.4 L290.4,190.1 L288.9,191.3 L287.4,192.6 L287.3,194.4 L286.1,195.8 L285.4,197.4 L286.3,199.5 L285.8,201.2 L284.4,202.6 L285.0,204.2 L285.0,206.0 L285.0,207.7 L286.0,209.3"/>
<path d="M301.0,180.0 L302.5,179.2 L303.4,177.5 L305.2,177.0 L307.3,177.4 L308.6,176.2 L309.6,174.6 L310.4,172.8 L312.8,173.3 L314.1,172.2 L315.6,171.4 L315.7,168.7 L317.9,168.8 L319.2,167.7 L321.2,167.9 L321.6,165.1 L323.4,164.9 L324.8,163.8 L327.4,163.9 L327.1,161.8 L328.0,160.4 L328.2,158.5 L330.2,157.7 L331.1,156.4 L332.3,155.3 L333.2,153.7 L334.5,152.7 L336.2,152.0 L337.6,151.3 L339.3,151.1 L340.7,149.6 L342.5,149.8 L344.0,149.1 L346.0,149.9 L347.3,148.2 L349.0,148.0"/>
<path d="M343.0,106.0 L342.9,107.8 L344.2,109.2 L345.0,110.7 L345.5,112.4 L346.6,113.8 L344.9,115.3 L343.6,116.5 L344.7,119.1 L343.8,120.5 L342.3,121.7 L342.8,123.1 L341.8,125.1 L341.7,126.9 L344.4,128.0 L344.8,129.7 L344.0,131.7 L344.8,133.2 L344.6,135.1 L345.2,136.7 L347.4,137.7 L347.5,139.5 L347.0,141.4 L347.5,143.1 L347.3,144.9 L348.6,146.3 L349.0,148.0"/>
<path d="M349.0,148.0 L350.7,148.0 L352.2,147.4 L353.3,145.3 L355.1,145.6 L357.0,147.1 L358.5,146.1 L360.0,145.5"/>
<path d="M360.0,145.5 L361.7,146.0 L363.5,146.2 L365.2,145.5 L367.0,144.8 L368.7,145.9 L370.1,147.2 L371.7,147.9 L373.0,149.1 L375.3,148.3 L376.9,148.7 L378.3,150.0 L380.0,150.5"/>
<path d="M380.0,150.5 L380.7,149.0 L382.6,148.0 L381.9,145.7 L382.4,143.8 L384.7,143.7 L386.2,142.5 L386.2,140.6 L386.2,138.8 L387.1,137.3 L389.2,137.6 L390.9,137.1 L392.2,135.8 L394.0,135.1 L395.7,135.9 L397.4,137.3 L399.0,136.0 L400.4,134.6 L402.4,135.6 L404.1,135.6 L405.6,134.6 L407.2,134.0 L408.5,132.6 L410.4,132.9 L412.5,133.6 L413.3,131.2 L414.9,129.8 L416.8,131.3 L418.5,131.2 L420.1,130.4 L421.7,129.7 L423.7,130.0 L424.5,131.8 L426.0,132.5"/>
<path d="M426.0,132.5 L427.2,131.2 L428.8,130.6 L430.5,129.5 L430.0,127.9 L428.6,126.5 L429.7,124.5 L432.0,125.2 L433.2,124.1 L434.8,123.5 L436.1,121.8 L437.6,121.9 L436.7,120.4 L436.0,118.9 L435.0,117.5"/>
<path d="M406.0,72.5 L407.2,73.7 L407.7,75.4 L409.6,76.2 L409.9,78.0 L410.5,79.6 L411.1,81.3 L412.3,82.5 L414.5,82.9 L415.0,84.7 L416.9,85.2 L417.0,87.3 L417.9,88.7 L418.6,90.3 L420.2,91.2 L422.0,92.0 L422.3,93.8 L424.1,94.6 L423.7,96.9 L424.7,98.2 L425.4,99.8 L427.2,100.7 L428.2,102.0 L428.4,103.9 L429.7,105.1 L428.9,107.4 L430.3,108.6 L431.0,110.1 L432.8,111.1 L433.2,112.8 L433.4,114.5 L434.3,116.0 L435.0,117.5"/>
<path d="M435.0,117.5 L436.9,117.5 L437.8,115.3 L439.5,114.9 L441.4,115.1 L443.1,114.3 L444.7,115.7 L446.3,116.2 L448.3,114.0 L450.1,114.3 L451.4,116.2 L453.2,116.1 L454.8,116.8 L456.4,117.7 L457.2,115.4 L458.3,114.1 L461.1,114.4 L462.1,113.0 L463.1,111.7 L464.9,111.5 L465.8,109.4 L467.1,108.2 L469.7,109.8 L471.3,109.1 L472.4,107.2 L474.2,107.0 L475.8,106.4"/>
<path d="M426.0,132.5 L427.3,133.8 L428.4,135.1 L427.4,137.6 L428.3,139.0 L430.3,140.0 L430.5,141.8 L432.2,142.2 L433.3,143.6 L433.4,146.5 L435.7,146.2 L437.8,146.1 L438.8,147.7 L440.1,148.8 L441.2,150.4 L442.9,151.3 L444.7,150.9 L446.6,150.3 L448.2,151.1 L449.3,153.6 L451.2,153.1 L453.2,152.4 L454.7,153.6 L456.6,153.1 L458.0,154.0 L460.1,155.1 L461.2,152.7 L462.6,151.4 L464.5,151.7 L465.5,153.2 L466.2,154.8 L467.6,156.0 L469.1,156.9 L469.5,159.2 L467.7,159.9 L465.1,160.0 L465.3,162.4 L464.9,164.2 L464.3,165.0 L466.1,165.7 L466.3,167.9 L467.2,169.3 L469.0,170.0"/>
<path d="M469.0,170.0 L470.7,170.3 L472.3,169.4 L474.0,169.4 L475.6,168.3 L477.4,168.9 L479.2,169.4 L480.8,169.0 L482.3,167.7 L483.9,166.8 L485.9,167.8 L487.3,166.9 L488.9,166.2 L489.6,164.2 L491.3,163.8 L492.4,162.3 L494.5,162.4 L495.2,161.5 L496.7,162.4 L498.8,162.4 L499.7,163.9 L500.3,165.9 L502.0,166.6 L503.8,166.8 L505.7,166.8 L506.7,168.4 L508.3,169.1 L509.0,171.0 L511.0,171.2 L512.3,172.1 L513.5,170.6 L515.6,171.5 L517.4,171.3 L518.8,170.2 L520.3,169.5"/>
<path d="M469.0,170.0 L469.8,171.6 L469.3,173.4 L469.7,175.1 L469.3,177.1 L470.5,178.5 L471.5,180.0"/>
<path d="M471.5,180.0 L469.8,179.8 L468.1,179.8 L466.4,179.3 L464.6,181.3 L463.0,180.4 L461.3,180.4 L459.6,180.3 L458.1,178.6 L456.5,178.9 L455.2,177.8 L453.1,178.2 L451.7,177.1 L450.7,177.1 L449.2,177.8 L446.8,177.4 L446.1,179.3 L444.3,179.6 L443.2,181.2 L441.7,182.0 L440.2,182.6 L438.4,182.8 L436.4,182.3 L435.2,183.9 L433.2,183.5 L432.2,185.4 L430.7,186.4 L428.9,186.4 L427.3,187.1 L425.4,186.4 L423.9,187.4 L422.1,187.1 L420.8,189.1 L418.8,189.2 L417.4,188.0 L415.6,188.1 L414.5,186.0 L412.5,186.5 L410.9,187.2 L409.8,188.9 L408.3,189.6 L406.5,189.7 L404.7,189.4 L404.1,186.8 L402.1,187.0 L400.4,186.4 L398.9,187.4 L397.6,188.6 L395.8,188.7 L394.2,189.1 L392.5,189.5"/>
<path d="M380.0,150.5 L381.1,151.8 L383.0,152.5 L382.8,154.7 L383.3,156.4 L384.9,157.3 L386.2,158.4 L387.8,159.6 L387.5,161.5 L387.1,163.5 L388.5,164.7 L388.8,166.4 L389.8,167.9 L390.7,169.4 L389.8,171.3 L389.7,173.0 L389.8,174.6 L390.5,176.2 L392.2,177.7 L391.2,179.5 L390.5,181.3 L391.2,182.9 L391.2,184.6 L392.4,186.1 L392.6,187.8 L392.5,189.5"/>
<path d="M360.0,145.5 L360.0,147.2 L360.0,148.9 L360.1,150.6 L358.8,152.2 L359.5,154.0 L360.3,155.7 L359.2,157.4 L359.3,159.1 L359.8,160.7 L360.4,162.4 L360.8,164.0 L359.8,165.7 L359.7,167.4 L360.5,169.2 L360.0,170.9 L359.0,172.5 L358.9,174.2 L359.3,175.9 L359.2,177.6 L358.4,179.2 L357.8,180.9 L357.9,182.5 L357.7,184.4 L356.1,185.4 L355.0,186.8 L355.0,188.7 L354.1,190.2 L352.8,191.4 L351.2,192.2 L349.9,193.3 L349.8,195.5 L348.0,196.1 L346.1,196.7 L345.8,198.7 L344.5,199.8 L343.6,201.3 L342.2,202.3 L340.3,202.9 L341.0,205.3 L340.2,206.8 L338.4,208.0 L338.7,209.9 L337.8,211.4 L337.9,213.1 L337.8,214.8 L335.9,216.3 L337.3,218.2 L337.6,219.9 L336.6,221.8 L338.4,222.4 L339.3,223.9 L340.8,224.8 L342.6,225.4 L342.5,228.2 L344.5,228.2 L346.6,228.2 L347.3,230.2 L349.0,230.6 L350.2,232.0 L351.8,232.6 L353.9,232.3 L354.6,234.6 L356.3,235.0"/>
<path d="M392.5,189.5 L394.1,190.2 L396.0,189.5 L397.4,190.9 L398.9,191.7 L399.5,192.7 L399.5,194.4 L401.9,195.6 L401.6,197.4 L402.4,198.9 L400.0,200.3 L401.0,202.3 L401.4,204.1 L401.6,205.9 L400.3,207.3 L398.9,209.7 L401.1,210.2 L402.0,211.6 L404.1,211.5 L404.5,214.0 L406.2,214.5 L407.1,216.1 L408.9,216.5 L410.8,216.6 L412.1,217.8 L413.6,218.6 L413.7,221.5 L416.0,221.1 L417.4,222.0"/>
<path d="M471.5,180.0 L472.2,181.6 L471.7,183.4 L472.4,185.0 L471.7,186.9 L474.8,187.9 L473.9,189.8 L475.3,191.3 L473.8,193.3 L473.8,195.0 L474.9,196.5 L475.2,198.2 L477.4,199.3 L476.2,201.4 L476.9,203.0 L475.7,205.0 L477.1,206.4 L478.1,207.9 L479.4,209.0 L479.9,210.6 L479.7,212.6 L480.2,214.3 L480.9,215.8 L483.1,216.6 L483.6,218.2 L484.9,219.5 L483.8,221.9 L484.9,223.2 L484.9,224.7 L486.5,226.2 L487.5,227.8 L486.6,229.6 L487.2,231.1 L487.5,232.8"/>
<path d="M487.5,232.8 L488.5,234.2 L489.2,235.8 L489.3,237.2 L491.2,238.6 L491.7,240.3 L491.2,242.1 L491.5,243.8 L493.2,243.1 L493.4,241.3 L492.0,238.9 L493.6,237.6 L495.1,236.5 L495.9,235.0 L496.9,235.9 L498.8,235.4 L500.8,234.6 L502.3,235.8 L503.5,235.3 L505.4,235.1 L507.4,235.1 L507.8,232.5 L510.1,230.9 L511.1,232.7 L512.7,233.5 L513.8,235.0 L515.3,235.8 L517.3,234.5 L519.0,234.6 L520.8,234.9 L522.5,235.0"/>
<path d="M427.5,244.5 L429.0,243.6 L430.8,243.5 L432.2,242.5 L434.1,242.9 L435.7,242.2 L437.1,241.1 L438.9,241.3 L440.3,239.7 L441.9,239.2 L444.0,240.5 L445.4,240.1 L447.1,240.2 L448.8,240.1 L450.6,239.0 L452.1,240.2 L453.9,240.2 L455.3,238.9 L457.2,239.2 L458.7,238.3 L460.0,237.0 L461.8,237.0 L463.3,235.9 L465.1,236.1 L467.4,236.0 L467.5,233.9 L468.1,232.2 L469.7,231.3 L470.9,229.9 L472.9,230.2 L474.3,230.1 L476.1,229.5 L477.6,230.8 L479.4,230.5 L481.3,229.7 L482.8,230.9 L484.4,231.5 L485.8,232.5 L487.5,232.8"/>
<path d="M487.5,232.8 L486.0,233.7 L485.0,235.5 L482.5,234.3 L481.0,235.3 L479.6,236.1 L479.0,238.5 L477.5,239.2 L475.5,239.3 L473.8,239.7 L472.5,241.4 L472.9,243.5 L471.9,244.9 L472.6,246.2 L471.3,248.2 L472.0,249.8 L471.3,251.7 L473.7,252.9 L473.8,254.5 L475.0,255.8 L473.8,258.3 L475.1,259.6 L476.3,260.9 L478.2,261.8 L478.5,263.6 L478.4,265.5 L479.0,267.1 L479.6,268.7 L481.5,269.7 L482.0,271.3 L483.7,272.1 L483.2,274.7 L484.6,275.8 L485.1,277.5 L488.0,277.4 L488.5,279.2 L489.5,280.6 L489.2,283.1 L490.3,283.6 L490.5,285.4 L490.9,286.9 L490.4,288.7 L490.5,290.4"/>
<path d="M490.5,290.4 L492.2,290.4 L493.5,292.3 L495.3,292.0 L497.2,291.3 L498.8,292.2 L500.2,293.1 L501.0,295.1 L502.6,295.7 L504.9,295.1 L506.1,295.9 L507.6,297.0 L509.1,297.6 L510.8,298.0 L512.7,296.7 L514.3,297.1 L515.8,298.9 L517.5,298.6 L519.2,298.5 L520.9,298.1 L522.6,298.5"/>
<path d="M490.5,290.4 L489.3,291.6 L488.5,293.0 L488.9,295.0 L487.9,296.3 L487.9,298.0 L486.1,299.0 L484.9,300.2 L484.9,301.9 L484.4,303.5"/>
<path d="M424.4,267.0 L425.8,268.1 L426.6,269.6 L426.9,271.7 L429.1,271.9 L430.6,272.9 L431.3,274.6 L432.5,275.8 L433.3,277.4 L435.0,278.1 L437.0,278.1 L438.0,279.7 L439.2,281.1 L440.7,281.9 L442.1,282.8 L444.0,283.1 L445.1,284.6 L445.8,286.4 L447.8,286.6 L449.5,286.8 L451.3,286.9 L452.9,287.2 L454.0,289.1 L455.7,289.5 L457.8,289.2 L459.0,290.6 L460.6,291.4 L461.6,292.8 L462.2,294.6 L464.6,294.6 L465.9,295.7 L466.7,297.6 L468.6,297.2 L470.2,297.7 L471.9,298.2 L474.0,297.6 L474.9,299.6 L476.0,301.3 L478.4,300.3 L479.7,301.5 L481.2,302.3 L482.9,302.5 L484.4,303.5"/>
<path d="M427.5,244.5 L426.3,245.8 L426.3,247.7 L426.2,249.5 L424.3,250.4 L424.7,252.2 L423.9,253.8 L422.1,255.2 L423.1,257.1 L423.4,258.7 L423.6,260.3 L424.0,262.0 L424.9,263.6 L424.0,265.4 L424.4,267.0"/>
<path d="M417.4,222.0 L417.7,223.6 L418.3,225.2 L420.2,226.4 L418.6,228.6 L419.6,230.0 L419.8,231.7 L421.4,232.9 L422.3,234.3 L421.9,236.2 L422.5,237.8 L422.9,239.6 L425.6,239.8 L425.8,241.7 L426.7,243.1 L427.5,244.5"/>
<path d="M417.4,222.0 L417.0,223.7 L416.0,225.1 L414.2,225.9 L413.8,227.7 L412.0,228.3 L410.8,229.4 L410.7,231.8 L409.2,232.6 L407.8,233.6 L406.6,235.0 L404.5,234.4 L403.0,235.2 L402.0,236.9 L400.3,237.3 L398.6,237.7 L396.9,237.7 L395.4,236.2 L393.7,235.9 L392.3,235.9 L391.6,234.4 L390.1,233.3 L389.1,231.9 L389.2,229.9 L388.4,228.3 L387.3,227.1 L386.3,225.8 L384.6,225.0 L384.0,225.1 L382.1,225.1 L380.5,225.6 L378.9,226.2 L377.2,226.7 L376.3,228.4 L375.5,230.0 L373.9,230.7 L372.7,231.7 L371.9,233.2 L370.9,234.6 L370.8,236.4"/>
<path d="M370.8,236.4 L369.1,236.4 L367.7,235.2 L365.8,235.5 L364.3,233.4 L362.8,234.4 L361.2,235.0 L359.6,235.5 L357.9,235.7 L356.3,235.0"/>
<path d="M356.3,235.0 L354.3,234.6 L353.1,236.4 L351.5,237.2 L349.6,237.3 L348.3,238.9 L346.1,238.0 L344.1,237.6 L342.9,239.5 L341.4,240.5 L340.2,241.9 L338.5,242.5"/>
<path d="M298.0,226.0 L299.7,225.9 L301.4,224.8 L303.0,225.8 L304.7,225.6 L306.4,227.5 L308.1,226.4 L309.8,225.7 L311.4,225.4 L313.1,224.8 L314.8,227.0 L316.5,226.4 L317.8,227.3 L319.8,226.7 L321.7,226.2 L322.9,228.0 L323.7,229.4 L322.4,231.5 L324.0,232.8 L325.3,234.2 L325.8,235.8 L327.0,237.1 L325.5,239.5 L327.3,240.9 L329.0,241.0 L330.6,239.8 L332.2,238.6 L333.8,240.6 L335.5,241.0 L336.6,242.5 L338.5,242.5"/>
<path d="M286.0,209.3 L286.6,211.0 L287.3,212.6 L288.8,214.0 L287.1,217.0 L289.4,217.2 L290.6,218.5 L292.6,219.0 L293.5,220.6 L293.3,223.2 L295.6,223.4 L296.8,224.7 L298.0,226.0"/>
<path d="M338.5,242.5 L337.2,243.7 L336.4,245.2 L335.5,246.7 L334.9,248.3 L333.9,250.1 L332.1,250.3 L330.2,250.2 L328.6,250.6 L326.7,250.6 L326.8,253.2 L328.0,254.7 L328.4,256.4 L328.5,258.5 L327.1,259.7 L325.5,260.7 L324.9,262.4 L324.4,264.1 L324.6,265.9 L325.0,267.8 L323.7,269.3 L322.6,270.8 L323.2,272.6 L323.1,274.4 L324.5,275.8 L326.2,277.0 L325.5,279.1 L325.1,280.7 L324.4,282.3 L324.0,284.0"/>
<path d="M298.0,226.0 L296.9,227.3 L295.6,228.6 L296.9,231.2 L294.8,232.0 L294.0,233.5 L291.9,234.3 L292.3,236.6 L290.7,237.4 L289.9,239.0 L288.0,239.5 L286.1,239.8 L285.5,241.8 L284.6,243.3 L284.0,244.9 L280.9,244.5 L280.8,246.7 L279.3,247.6 L279.4,249.9 L277.6,250.7 L276.4,251.8 L274.5,252.5 L273.8,254.1 L274.0,256.6 L271.8,256.9 L270.6,258.1 L268.5,258.6 L269.2,261.2 L267.6,262.2 L267.6,264.2 L265.4,264.9 L264.3,266.2 L264.2,268.1 L264.5,269.9 L264.0,271.6 L261.5,272.7 L262.5,274.7 L261.6,276.2 L263.3,277.9 L262.1,279.7 L262.5,281.4 L261.5,283.2 L263.0,284.8 L264.5,286.0 L263.9,288.0 L264.1,289.8 L264.0,291.5 L266.1,292.7 L266.0,294.5"/>
<path d="M211.0,217.0 L212.8,216.9 L214.0,218.6 L215.4,219.8 L217.4,219.2 L219.2,219.2 L220.9,219.4 L221.6,221.7 L222.2,223.4 L224.8,223.2 L226.1,224.3 L226.9,225.9 L227.9,227.3 L228.4,229.2 L230.1,229.8 L231.7,231.0 L231.5,232.9 L231.7,234.7 L231.6,236.6 L233.1,237.8 L235.4,238.7 L235.0,240.6 L235.2,242.6 L236.9,243.4 L238.3,244.4 L240.2,245.0 L240.7,246.8 L240.4,248.8 L241.8,250.0 L242.8,251.5 L243.9,252.8 L244.7,254.4 L243.4,256.7 L244.5,258.1 L246.6,259.2 L246.9,260.9 L246.8,262.6 L246.2,264.6 L247.0,266.1 L249.3,267.2 L249.1,269.0 L248.8,270.9 L249.3,272.5 L249.3,274.3 L251.2,275.5 L252.1,277.0 L251.1,279.2 L251.8,280.7 L253.0,282.0 L254.9,282.8 L256.3,283.9 L255.3,286.6 L256.0,288.0 L258.2,288.8 L259.0,290.3 L260.0,291.6 L260.0,293.6 L260.5,295.2 L261.9,296.4"/>
<path d="M261.9,296.4 L263.2,295.7 L264.6,295.1 L266.0,294.5"/>
<path d="M211.0,217.0 L209.4,217.6 L209.0,220.0 L207.0,220.1 L204.8,220.0 L204.2,222.1 L202.8,223.0 L201.7,224.3 L200.6,225.6 L198.3,225.7 L197.9,227.7 L197.6,229.8 L195.9,230.5 L195.4,232.1 L195.6,233.9 L195.5,235.6 L195.6,237.3 L194.2,238.8 L193.5,240.2 L193.8,242.2 L193.4,243.8 L192.4,245.3 L190.9,246.5 L191.0,248.4 L190.5,250.0"/>
<path d="M96.5,226.0 L97.6,227.3 L99.8,227.4 L100.4,229.3 L101.2,230.8 L102.0,232.2 L103.5,233.2 L105.3,234.0 L106.1,235.5 L106.8,237.1 L107.4,239.2 L109.4,239.1 L111.1,239.6 L112.5,240.7 L114.0,241.4 L115.0,243.8 L116.8,243.1 L118.5,242.7 L120.2,242.9 L121.9,243.0 L123.4,244.7 L125.3,244.4 L126.8,243.4 L128.1,242.0 L129.9,242.0 L131.7,242.3 L133.3,241.8 L134.5,241.8 L136.8,240.8 L138.1,242.1 L139.2,243.6 L140.8,244.2 L141.6,245.8 L144.1,245.5 L145.3,246.7 L146.1,248.3 L147.5,249.6 L149.1,250.0 L151.0,249.1 L152.6,249.2 L154.3,249.3 L156.1,250.3 L157.7,249.7 L159.0,248.2 L160.6,247.8 L162.5,246.5 L163.8,248.5 L165.4,249.1 L167.3,248.4 L168.9,248.7 L170.8,248.3 L172.1,249.9 L173.6,250.9 L175.3,251.0 L177.0,250.6 L178.7,250.0 L180.4,250.9 L182.1,250.9 L183.8,251.6 L185.4,250.0 L187.1,249.3 L188.8,250.2 L190.5,250.0"/>
<path d="M190.5,250.0 L191.2,251.6 L192.0,253.1 L193.4,254.4 L191.9,256.7 L192.8,258.2 L194.8,259.1 L195.9,260.3 L197.1,261.6 L196.6,264.0 L198.1,265.1 L200.0,265.8 L199.8,267.9 L198.8,269.3 L196.9,270.4 L196.9,272.2 L197.0,274.1 L196.0,275.5"/>
<path d="M137.0,314.0 L137.0,312.3 L138.6,310.7 L137.1,308.8 L137.6,307.2 L137.8,305.5 L137.9,303.8 L138.4,302.0 L136.6,300.5 L137.0,298.7 L137.3,297.0 L136.8,295.3 L137.2,293.5 L135.6,291.9 L136.7,290.1 L138.1,288.9 L136.5,286.6 L137.9,285.2 L139.4,284.5 L140.9,283.8 L142.7,283.6 L143.7,281.4 L145.6,281.7 L147.1,281.7 L148.9,281.1 L150.6,281.6 L152.4,281.0 L153.9,282.7 L155.5,283.1 L157.8,281.4 L158.8,283.5 L160.4,284.2 L162.2,284.4 L163.6,285.5 L165.7,284.8 L167.0,285.8 L168.7,285.3 L169.5,283.3 L171.3,282.9 L172.6,281.7 L174.5,281.6 L175.7,280.3 L176.2,278.0 L178.8,278.7 L180.0,277.4 L181.5,277.0 L183.0,277.9 L184.9,277.2 L186.3,279.1 L188.0,279.3 L189.3,277.3 L191.3,277.7 L192.9,277.0 L194.5,276.4 L196.0,275.5"/>
<path d="M196.0,275.5 L197.1,276.9 L197.3,279.0 L199.5,279.3 L200.9,280.3 L202.3,281.3 L203.9,282.6 L203.0,285.0 L204.1,286.3 L204.2,288.2 L206.1,289.2 L207.3,290.5 L208.1,292.4 L206.9,294.1 L207.0,295.8 L205.6,297.5 L206.7,299.2 L207.4,301.0 L207.5,302.6 L208.4,304.3 L206.7,306.1 L207.1,307.8 L207.5,309.5"/>
<path d="M207.5,309.5 L206.5,310.8 L205.0,311.6 L203.1,312.1 L202.7,314.0 L202.2,315.7 L201.0,316.9 L200.7,318.7 L198.8,319.4 L197.3,321.5 L199.5,322.5 L200.2,323.7 L201.4,325.0 L203.1,325.4 L204.0,327.0"/>
<path d="M204.0,327.0 L202.3,327.7 L201.3,329.2 L201.1,331.5 L199.3,331.9 L197.7,333.0 L197.2,334.7 L196.8,336.4 L197.1,338.5 L195.9,339.7 L193.9,340.9 L194.5,342.9 L194.6,344.7 L194.2,346.4 L193.7,348.0 L191.9,349.2 L191.7,351.0 L192.3,353.0 L191.3,354.5 L190.2,355.8 L188.4,355.4 L186.6,354.9 L184.9,355.9 L183.2,355.4 L182.1,353.8 L180.7,352.8 L179.6,351.3 L177.6,351.4 L178.7,351.5 L177.8,353.6 L176.6,354.7 L176.1,356.4 L175.7,358.1 L176.0,359.9 L174.5,361.3 L172.7,362.6 L173.5,364.6 L173.2,366.4 L172.0,367.7 L170.8,368.9 L169.1,369.8 L168.5,371.5"/>
<path d="M207.5,309.5 L209.1,309.9 L210.8,310.0 L212.7,309.4 L214.0,311.1 L215.7,311.4 L217.1,312.7 L219.2,311.1 L220.7,312.1 L222.2,311.4 L224.2,313.2 L225.7,312.3 L227.4,311.9 L228.8,310.6 L230.5,310.3 L232.4,311.4 L234.0,310.8 L235.8,311.1 L237.1,308.9 L238.9,309.4 L240.5,308.9 L242.4,310.2 L244.0,309.1 L245.6,308.6 L247.0,307.2 L248.9,308.0 L250.6,307.9 L252.8,308.5 L253.4,306.1 L255.1,305.7 L256.0,303.9 L258.5,305.0 L259.6,303.4 L261.0,302.5"/>
<path d="M261.0,302.5 L261.6,301.0 L261.3,299.4 L261.1,297.8 L261.9,296.4"/>
<path d="M204.0,327.0 L205.4,327.9 L207.6,327.5 L208.6,329.3 L209.9,330.5 L211.3,331.3 L212.2,333.0 L214.1,333.3 L216.4,333.1 L216.7,335.5 L216.2,337.5 L217.6,338.8 L218.5,340.3 L218.9,342.0 L219.4,343.8 L218.0,345.3 L216.9,347.9 L219.1,348.4 L220.8,349.2 L221.3,351.0 L222.2,352.4 L222.9,354.1 L223.8,355.7 L226.0,355.9 L227.8,356.5 L228.0,358.7 L229.1,360.2 L230.7,360.8 L232.2,361.6 L234.2,361.8 L235.8,362.4 L236.5,364.5 L238.0,365.6 L240.0,365.2 L241.7,365.4 L243.3,366.0 L244.7,367.2 L245.2,369.3 L246.5,370.4 L248.6,370.6 L249.6,372.0"/>
<path d="M261.0,302.5 L262.6,303.1 L263.6,305.0 L265.3,305.4 L267.8,304.2 L268.6,306.4 L270.0,307.5 L271.8,307.7 L272.9,309.2 L275.4,309.6 L274.7,311.2 L272.3,312.3 L272.6,314.2 L272.7,316.0 L273.0,317.4 L272.2,319.2 L271.0,321.1 L272.9,322.6 L273.0,324.3 L273.0,326.0 L273.6,327.9 L271.2,329.1 L272.1,331.0 L273.4,333.0 L271.5,334.4 L270.8,336.0 L270.3,337.7 L271.1,339.5 L271.5,341.3 L269.6,342.8 L269.7,344.5 L269.3,346.2 L269.2,347.9 L270.6,350.0 L268.0,351.1 L266.8,352.5 L268.4,354.7 L267.8,356.3 L267.4,357.8 L266.5,359.6 L266.1,361.3 L267.6,363.0 L267.3,364.7 L267.4,366.4 L266.6,368.1 L266.2,369.8 L267.0,371.5"/>
<path d="M249.6,372.0 L251.2,372.2 L252.6,373.4 L254.1,374.0 L256.0,373.2 L257.3,373.1 L259.1,373.7 L260.8,373.6 L262.3,372.8 L263.8,372.3 L265.4,371.6 L267.0,371.5"/>
<path d="M267.0,371.5 L268.1,372.9 L269.9,373.3 L271.0,374.6 L273.3,374.5 L274.2,376.1 L275.4,377.2 L276.3,378.9 L278.0,379.5"/>
<path d="M249.6,372.0 L248.2,373.0 L246.8,374.1 L245.9,375.5 L244.7,376.7 L243.7,378.2 L242.4,379.5 L240.5,379.3 L238.6,379.9 L238.0,381.5 L236.7,382.7 L236.4,384.5 L237.2,386.5 L236.2,388.0 L234.7,389.3 L234.8,391.1 L233.9,392.6 L232.4,393.8 L233.1,395.9 L233.6,398.0 L231.7,399.0 L230.7,400.5 L230.8,402.3 L229.2,403.5 L228.3,405.0 L229.6,407.3 L229.3,409.0 L227.5,410.1 L227.1,411.8 L226.5,413.4 L226.0,415.0"/>
<path d="M278.0,379.5 L279.1,380.9 L278.4,383.0 L279.4,384.4 L280.9,385.6 L281.1,387.4 L282.1,388.7 L282.3,390.7 L284.3,391.3 L285.8,392.3 L285.7,394.5 L287.0,395.7 L287.8,397.1 L289.6,397.9 L290.3,399.5 L290.1,401.7 L292.3,402.3 L293.0,403.8 L293.7,405.4 L293.9,407.2 L294.3,408.9 L296.7,409.6 L296.6,411.5 L296.4,413.1 L296.5,414.8 L296.6,416.5 L297.5,418.3 L295.6,419.8 L295.5,421.5 L296.6,423.2 L296.5,424.9 L296.7,426.6 L295.6,428.4 L296.8,430.0 L298.0,431.6 L296.4,433.3 L296.0,434.9 L295.5,436.5 L296.3,438.5 L295.7,440.1 L293.6,441.3 L294.3,443.2 L294.2,445.0 L293.9,446.6 L292.6,448.0 L291.3,449.4 L292.5,451.5 L291.5,453.0"/>
<path d="M312.3,349.5 L310.8,350.3 L308.9,350.5 L308.1,352.5 L306.8,353.4 L305.7,354.8 L303.9,355.4 L302.4,356.3 L301.4,358.0 L301.1,359.7 L302.4,361.6 L301.2,363.2 L302.3,365.1 L300.5,366.7 L301.2,368.4 L301.2,370.1 L301.2,371.9 L301.5,374.1 L299.4,373.1 L298.3,375.2 L295.9,373.8 L294.4,374.6 L292.8,375.3 L291.2,375.7 L290.0,377.8 L288.1,377.3 L286.6,378.4 L284.6,377.6 L283.0,378.3 L281.3,378.3 L279.7,379.4 L278.0,379.5"/>
<path d="M315.5,285.4 L315.4,287.1 L314.8,288.7 L315.7,290.6 L313.3,291.9 L313.0,293.6 L313.4,295.4 L313.7,297.1 L314.0,298.9 L311.6,300.2 L312.4,302.1 L311.4,303.7 L312.9,305.4 L312.3,307.1 L312.4,308.8 L312.8,310.5 L311.9,312.3 L313.1,313.9 L312.3,315.6 L313.9,317.4 L312.4,319.0 L311.9,320.6 L311.5,322.3 L311.9,324.1 L313.5,325.7 L311.8,327.5 L312.2,329.1 L311.1,330.9 L313.0,332.5 L312.8,334.2 L312.5,335.9 L312.5,337.6 L311.5,339.3 L312.6,341.0 L311.2,342.7 L312.9,344.4 L312.3,346.1 L312.3,347.8 L312.3,349.5"/>
<path d="M266.0,294.5 L267.8,294.4 L269.3,293.7 L270.6,292.4 L271.8,290.9 L273.7,290.6 L275.4,290.5 L277.2,292.0 L278.8,291.0 L280.6,291.3 L282.1,289.5 L283.8,289.3 L285.5,289.7 L287.2,289.9 L289.0,290.8 L290.6,289.8 L292.2,289.1 L293.8,288.1 L295.4,287.9 L297.2,287.9 L299.1,288.7 L300.5,287.4 L302.3,287.4 L303.4,285.0 L305.3,285.4 L307.0,285.4 L308.8,286.3 L310.5,286.8 L312.1,285.8 L313.8,285.4 L315.5,285.4"/>
<path d="M315.5,285.4 L317.3,285.6 L319.0,285.2 L320.6,284.4 L322.2,283.9 L324.0,284.0"/>
<path d="M324.0,284.0 L325.7,283.2 L327.4,284.6 L329.1,283.8 L330.7,286.1 L332.5,284.3 L334.2,285.1 L336.0,283.5 L337.6,284.2 L339.3,284.6 L340.9,285.4 L342.4,286.5 L344.3,286.1 L346.0,286.2 L348.2,285.8 L349.4,287.1 L350.6,288.3 L351.4,290.1 L352.7,291.0 L353.7,292.3 L356.1,292.5 L356.7,294.3 L358.7,295.0 L357.6,297.8 L359.6,298.5 L358.8,301.0 L361.7,301.2 L362.0,303.0 L363.0,304.4"/>
<path d="M363.0,304.4 L362.7,306.1 L362.9,308.0 L361.2,309.2 L359.9,310.6 L360.4,312.7 L359.2,313.9 L357.8,315.0 L357.2,316.6 L354.9,317.2 L354.8,319.2 L355.3,321.5 L353.1,322.2 L352.5,323.9 L353.0,325.6 L353.6,327.3 L354.2,328.9 L354.0,330.7 L353.8,332.4 L352.8,333.9 L353.9,335.9 L354.6,337.7 L352.2,339.1 L352.3,340.8 L352.7,342.6 L352.5,344.3 L354.0,345.8 L353.4,347.7 L352.3,349.5 L353.8,351.1 L354.8,352.6 L354.8,354.4 L354.2,356.2 L354.7,357.9 L355.5,359.5 L355.8,361.2 L357.1,362.6 L356.2,364.6 L355.8,366.5 L358.5,367.5 L358.6,369.3 L358.3,371.1 L359.1,372.7 L358.5,374.5 L359.6,376.1 L360.3,377.7 L360.0,379.5"/>
<path d="M360.0,379.5 L359.1,380.9 L359.3,382.8 L358.9,384.5 L356.8,385.0 L355.2,385.2 L353.4,385.2 L352.3,387.0 L350.9,388.1 L349.1,388.0 L347.6,388.9 L345.5,387.6 L343.9,388.0 L342.6,389.6 L341.0,390.2 L339.3,391.1 L337.6,389.8 L336.0,389.4 L334.3,389.4 L332.6,389.2 L331.0,390.7 L329.3,390.0"/>
<path d="M312.3,349.5 L313.9,348.8 L315.3,347.3 L316.2,348.7 L317.6,349.8 L317.5,352.1 L319.1,353.0 L320.7,353.9 L321.3,355.6 L321.9,357.2 L322.5,358.9 L324.2,359.8 L324.9,361.5 L323.9,363.3 L324.0,365.0 L324.7,366.7 L325.3,368.3 L325.5,370.0 L324.4,372.0 L326.0,373.3 L326.6,374.9 L326.9,376.6 L327.0,378.3 L326.4,380.2 L328.9,381.4 L328.1,383.3 L328.4,385.0 L328.2,386.7 L328.8,388.4 L329.3,390.0"/>
<path d="M329.3,390.0 L330.1,391.6 L330.3,393.2 L329.6,395.1 L330.8,396.6 L331.3,398.3 L331.9,399.9 L331.4,401.7 L331.0,403.4 L332.5,404.9 L331.9,406.7 L331.2,408.3 L330.3,409.8 L329.6,411.4 L330.6,413.4 L329.1,414.7 L327.5,415.6 L326.7,417.2 L325.5,418.4 L325.4,420.5 L323.7,421.3 L322.3,422.5 L322.9,424.6 L321.7,426.0 L321.4,427.7 L321.0,429.2 L320.4,431.0 L322.7,432.4 L322.0,434.2 L322.1,436.0 L323.3,437.3 L323.4,439.1 L325.8,439.7 L325.7,441.7 L324.7,443.1 L326.1,445.1 L325.0,446.6 L325.1,448.4 L324.5,450.0"/>
<path d="M363.0,304.4 L364.0,303.1 L365.2,302.1 L367.1,302.1 L368.4,301.1 L369.3,299.7"/>
<path d="M369.3,299.7 L369.9,301.3 L370.1,303.0 L371.1,304.5 L371.3,306.2 L370.3,308.3 L371.9,309.5 L373.7,310.7 L373.1,312.7 L373.3,314.5 L374.5,315.8 L374.8,317.5 L376.2,318.8 L377.5,320.1 L376.7,322.4 L377.4,323.9 L379.8,324.4 L380.3,326.1 L380.6,327.9 L381.5,329.3 L381.4,331.1 L382.2,332.7 L384.1,333.8 L383.6,335.8 L382.8,337.8 L384.8,338.9 L385.9,340.3 L386.1,342.1 L387.2,343.4 L387.2,345.3 L387.5,347.1 L389.8,347.8 L390.7,349.3 L389.9,351.5 L391.4,352.8 L393.1,353.3 L394.2,354.7 L396.0,355.2 L397.1,356.5 L397.9,358.3 L399.6,358.8"/>
<path d="M369.3,299.7 L370.9,299.1 L372.5,298.3 L373.9,297.5 L375.4,296.7 L376.5,294.7 L378.7,295.6 L380.7,296.0 L381.9,293.8 L383.6,294.0 L385.1,295.1 L386.7,296.1 L388.2,296.3 L389.7,297.2 L391.4,297.9 L393.1,298.5 L394.3,298.5 L395.1,296.9 L394.2,294.3 L395.9,293.4 L397.3,292.7 L399.0,292.5 L400.7,292.2 L402.4,291.6 L404.2,292.0 L405.5,293.2 L407.0,294.0"/>
<path d="M407.0,294.0 L407.4,292.1 L407.3,290.0 L408.6,288.3"/>
<path d="M370.8,236.4 L370.8,238.1 L372.5,239.6 L371.9,241.4 L371.6,243.2 L371.8,245.0 L372.0,246.7 L373.4,248.0 L375.0,249.3 L375.1,251.1 L374.2,253.3 L375.2,254.8 L377.1,255.7 L377.6,257.4 L378.9,258.7 L379.5,260.3 L378.3,262.8 L380.1,263.8 L382.5,264.5 L382.6,266.3 L383.8,267.5 L384.9,268.8 L385.1,271.0 L387.5,271.0 L389.7,270.7 L390.5,272.7 L391.5,274.2 L393.0,275.1 L394.5,275.9 L396.3,276.4 L398.0,277.0 L398.9,278.6 L399.1,280.8 L400.8,281.5 L403.1,281.7 L403.8,283.4 L405.1,284.5 L406.2,285.9 L406.7,287.9 L408.6,288.3"/>
<path d="M408.6,288.3 L410.2,287.5 L411.1,285.8 L412.1,284.2 L414.7,284.7 L416.1,283.7 L416.8,281.7 L418.3,280.8 L419.7,279.8 L421.6,278.9 L421.9,277.2 L420.8,275.1 L422.1,273.6 L423.2,272.1 L423.6,270.4 L424.0,268.7 L424.4,267.0"/>
<path d="M407.0,294.0 L407.9,295.5 L409.0,296.8 L409.7,298.4 L409.3,300.4 L409.4,302.2 L411.8,303.1 L412.7,304.6 L411.6,306.9 L412.3,308.5 L414.0,309.5 L415.0,310.9 L415.8,312.4 L415.7,314.4 L415.9,316.2 L418.0,317.0 L419.2,318.3 L419.3,320.2 L420.9,320.8 L422.6,321.2 L424.2,321.7 L426.1,321.8 L427.2,323.3 L427.9,325.4 L429.1,325.8 L430.5,327.3 L430.2,329.1 L430.0,330.9 L430.2,332.8 L431.7,333.9 L433.9,334.3 L434.3,336.2 L433.9,338.6 L435.7,339.1 L436.7,340.9 L435.8,342.5 L434.9,344.1 L434.5,346.0 L435.2,347.6 L436.9,348.9 L436.4,350.8 L436.5,352.5"/>
<path d="M484.4,303.5 L482.7,304.0 L480.9,303.8 L479.8,305.5 L479.2,307.5 L476.9,307.4 L475.2,308.0 L474.1,309.4 L472.5,310.2 L472.0,312.1 L471.3,313.8 L469.4,314.4 L467.9,315.3 L466.4,316.3 L465.6,317.8 L465.9,318.7 L467.0,320.0 L468.2,321.3 L469.4,322.5 L470.0,324.5 L471.8,325.0 L473.9,325.9 L473.5,327.7 L473.6,329.5 L474.1,331.1 L473.3,333.1 L474.5,334.5 L475.9,336.3 L475.2,337.9 L474.6,339.6 L474.0,341.2 L473.3,342.9 L474.0,344.7 L474.3,346.5 L474.1,348.2 L473.6,349.8 L472.0,351.3 L471.8,353.0 L472.5,354.9 L472.0,356.5"/>
<path d="M436.5,352.5 L438.2,352.7 L439.9,351.7 L441.6,351.8 L443.3,353.0 L445.0,353.0 L446.7,353.2 L448.5,352.9 L450.3,352.2 L451.9,353.3 L453.4,354.6 L455.2,354.1 L456.9,354.1 L458.6,354.3 L460.3,352.9 L462.1,353.4 L463.4,355.5 L465.2,355.3 L467.2,354.7 L468.7,355.5 L470.4,355.8 L472.0,356.5"/>
<path d="M472.0,356.5 L473.7,356.0 L475.5,356.5 L477.1,355.7 L478.6,354.0 L480.5,355.6 L482.3,355.8 L483.8,353.4 L485.6,354.1 L487.4,355.3 L489.0,353.8 L490.8,353.9 L492.5,354.3 L494.2,354.0 L495.9,355.3 L497.6,355.0 L499.5,353.7 L501.1,355.2 L503.0,355.5 L504.2,353.1 L505.7,352.8 L507.8,352.9 L508.9,351.4 L510.4,350.6 L512.0,351.3 L513.7,351.6 L514.8,353.4 L516.5,353.8 L517.9,352.8 L520.0,353.6 L521.9,354.0 L523.2,352.2 L524.9,352.0"/>
<path d="M522.6,298.5 L523.8,297.4 L525.4,296.8 L526.7,295.9 L528.4,295.6 L529.1,293.8 L530.5,293.0"/>
<path d="M522.6,298.5 L522.1,300.1 L521.7,301.8 L521.4,303.4 L521.8,305.2 L522.7,306.2 L522.0,308.4 L522.2,310.2 L523.9,311.2 L524.3,312.9 L525.6,314.1 L526.9,315.5 L526.3,317.4 L526.2,319.1 L526.5,320.8 L527.9,322.2 L529.0,323.6 L527.9,325.5 L528.2,327.2 L528.0,328.9 L527.1,330.5 L528.8,332.2 L529.2,334.0 L527.9,335.6 L527.4,337.2 L526.8,338.8 L527.5,340.6 L527.5,342.3 L527.0,343.9 L527.2,345.7 L525.3,346.9 L524.6,348.5 L525.7,350.5 L524.9,352.0"/>
<path d="M524.9,352.0 L526.7,351.8 L528.4,352.0 L530.1,352.8 L531.0,354.5 L532.2,355.8 L533.6,356.8 L535.4,357.2 L537.5,357.0 L538.7,358.4 L539.9,359.5 L541.3,360.5 L541.8,363.0 L543.5,363.4 L545.7,363.3 L546.7,364.7 L547.8,364.0 L549.5,363.6 L551.7,364.9 L553.2,364.1 L554.7,363.5 L556.4,363.1 L557.9,361.7 L559.6,361.3 L561.3,361.7 L563.1,362.4 L564.8,362.9 L566.5,362.3 L568.2,362.3 L569.9,361.2 L571.6,360.4 L573.3,361.6 L574.9,361.1 L576.4,360.4 L577.9,359.5"/>
<path d="M524.9,352.0 L524.1,353.6 L524.6,355.4 L525.2,357.1 L523.8,358.6 L523.6,360.3 L523.6,362.0 L522.1,363.5 L522.4,365.2 L523.8,367.1 L523.4,368.3 L523.6,370.1 L524.9,371.3 L524.8,373.3 L525.0,374.8 L527.1,375.9 L527.9,377.5 L527.6,379.3 L528.4,380.8 L527.4,382.3 L525.9,383.4 L525.9,385.4 L525.9,387.2 L524.8,388.5 L524.0,390.0"/>
<path d="M524.0,390.0 L522.3,390.6 L521.6,392.5 L521.0,394.3 L518.9,394.6 L517.7,395.8 L516.0,396.3 L514.5,397.1 L514.1,399.6 L512.5,400.2 L510.3,399.9 L509.1,401.2 L507.4,401.7 L506.2,403.0 L505.2,404.9 L503.0,404.2 L501.1,404.3 L500.1,406.1 L498.4,406.5 L497.1,407.9 L495.6,408.7 L493.3,407.5 L491.9,408.6 L490.8,410.3 L489.0,410.6 L487.6,411.6 L485.7,411.5 L483.7,411.0 L482.6,413.0 L481.0,413.5"/>
<path d="M426.0,375.5 L427.7,375.7 L429.4,375.6 L431.1,374.2 L432.7,375.3 L434.4,375.7 L435.8,376.6 L436.1,379.1 L438.1,379.2 L438.9,378.0 L440.3,376.8 L439.7,374.6 L441.4,373.6 L442.6,374.6 L444.5,374.4 L445.7,375.8 L447.5,376.0 L449.3,375.6 L450.7,376.9 L452.4,377.2 L454.0,377.9 L455.6,378.9 L457.4,378.1 L459.1,378.1 L460.8,378.0 L462.5,378.0 L464.0,379.4 L465.7,379.3 L467.4,379.7 L469.1,380.0 L470.9,378.8 L472.5,379.8 L474.2,379.9 L475.8,379.3 L477.6,380.7 L479.2,379.6 L480.8,378.4 L482.6,379.3 L484.3,378.1 L485.9,378.8 L487.6,380.2 L489.3,378.9 L491.2,379.2 L492.3,377.9 L492.5,375.7 L494.6,375.5 L495.1,376.2 L496.2,377.5 L496.2,379.4 L498.1,380.3 L499.6,381.2 L500.5,382.7 L501.8,383.7 L502.5,385.6 L504.0,386.4 L505.7,386.8 L507.2,387.6 L509.1,387.5 L510.4,388.8 L511.3,390.5 L513.0,391.0 L513.8,392.8 L515.9,392.5 L517.2,390.8 L519.2,391.5 L520.6,390.5 L522.3,390.3 L524.0,390.0"/>
<path d="M436.5,352.5 L434.8,353.0 L433.3,354.0 L431.5,353.7 L429.8,354.1 L427.7,353.8 L426.5,355.2 L425.2,356.7 L423.6,357.3 L421.8,357.5"/>
<path d="M399.6,358.8 L401.3,359.2 L403.0,358.7 L404.8,357.7 L406.5,358.5 L408.4,359.9 L410.0,359.1 L411.6,358.4 L413.0,356.7 L414.9,357.6 L416.6,357.2 L418.4,358.6 L420.1,357.5 L421.8,357.5"/>
<path d="M421.8,357.5 L422.0,359.2 L421.6,360.9 L422.4,362.5 L422.7,364.2 L423.3,365.8 L423.3,367.6 L422.8,369.4 L424.1,370.8 L425.2,372.1 L425.1,374.1 L426.0,375.5"/>
<path d="M426.0,375.5 L425.6,377.1 L424.6,378.7 L426.1,380.5 L426.6,382.3 L426.1,383.2 L427.6,383.8 L429.3,384.1 L428.8,384.1 L427.4,385.0 L426.6,387.1 L425.4,387.9 L423.7,388.5 L422.6,389.8 L421.0,390.5 L419.4,391.9 L419.7,393.7 L420.1,395.4 L419.4,397.0"/>
<path d="M419.4,397.0 L418.0,398.0 L416.7,399.2 L416.0,400.7 L414.7,401.8 L414.1,403.7 L413.1,405.1 L411.0,404.7 L409.7,403.6 L408.4,402.6 L407.2,401.3 L405.3,401.1 L403.4,400.9 L402.2,399.6 L400.9,398.4 L400.0,397.0 L399.2,395.2 L397.8,394.4 L396.1,393.7 L394.7,392.7 L393.4,391.1 L393.6,389.3 L394.3,387.5 L394.7,386.3 L395.3,384.7 L395.7,383.0 L395.6,381.0 L396.8,379.8 L398.0,378.5"/>
<path d="M398.0,378.5 L398.7,376.9 L399.0,375.2 L399.1,373.4 L401.1,372.3 L400.3,370.4 L402.1,368.9 L401.7,367.1 L402.3,365.4 L400.1,364.1 L400.2,362.2 L400.2,360.4 L399.6,358.8"/>
<path d="M398.0,378.5 L396.4,377.9 L394.8,377.8 L393.0,378.3 L391.3,378.7 L389.8,377.4 L388.2,376.9 L386.4,376.7 L384.9,377.9 L383.3,378.5 L381.6,378.0 L379.9,377.7 L378.2,377.6 L376.8,379.1 L375.2,379.7 L374.0,380.0 L372.3,380.6 L371.3,382.0"/>
<path d="M371.3,382.0 L369.7,381.7 L368.0,381.4 L366.8,379.8 L365.1,379.1 L363.2,381.0 L361.6,379.9 L360.0,379.5"/>
<path d="M371.3,382.0 L371.9,383.6 L372.4,385.3 L370.7,387.1 L371.8,388.7 L372.0,390.4 L371.8,392.3 L374.1,393.3 L374.3,395.0 L374.3,396.8 L376.1,397.0 L377.1,398.7 L378.5,399.7 L380.2,400.0 L381.0,401.5 L382.1,402.8 L383.1,404.3 L383.0,406.1 L382.9,407.9 L383.4,409.5 L384.6,410.9 L384.4,412.6 L384.3,414.3 L384.6,416.1 L383.0,417.5 L382.4,419.1 L382.9,420.9 L381.6,422.4 L382.1,424.2 L382.9,426.1 L380.9,427.4 L380.9,429.1 L380.6,430.8 L378.6,432.0 L380.2,434.0 L381.0,435.7 L380.3,437.4 L381.6,439.0 L381.1,440.7 L380.0,442.5 L380.9,444.1 L381.1,445.8 L381.4,447.5 L382.4,449.1 L382.2,450.8 L382.0,452.5"/>
<path d="M419.4,397.0 L419.7,398.8 L421.7,399.7 L422.3,401.3 L423.7,402.6 L422.2,405.3 L424.2,406.2 L424.4,408.1 L426.8,408.9 L426.6,410.9 L426.8,412.7 L426.0,414.7 L427.3,416.1 L426.2,417.5 L425.9,419.3 L424.5,420.5"/>
<path d="M400.5,383.5 L404.7,378.7 L409.5,377.5 L413.0,384.0 L418.0,388.5 L414.0,392.0 L410.5,394.5 L405.0,391.0 L399.8,387.5Z"/>
</g>
<g fill="#2b4a0d" stroke="#0a0f05" stroke-width="1.2">
<ellipse cx="224.7" cy="96.3" rx="6.1" ry="6.37"/>
<ellipse cx="285.2" cy="101" rx="14.9" ry="15.57"/>
<ellipse cx="235.8" cy="142.6" rx="9.1" ry="9.51"/>
<ellipse cx="184.5" cy="162.5" rx="12.0" ry="12.54"/>
<ellipse cx="315.8" cy="139.2" rx="12.0" ry="12.54"/>
<ellipse cx="259" cy="175.5" rx="12.0" ry="12.54"/>
<ellipse cx="385" cy="110.7" rx="18.0" ry="18.81"/>
<ellipse cx="441.3" cy="83.2" rx="6.1" ry="6.37"/>
<ellipse cx="472" cy="140.5" rx="9.1" ry="9.51"/>
<ellipse cx="421.4" cy="161.5" rx="14.9" ry="15.57"/>
<ellipse cx="156.5" cy="220" rx="12.0" ry="12.54"/>
<ellipse cx="132.5" cy="265.5" rx="9.1" ry="9.51"/>
<ellipse cx="223.2" cy="268.5" rx="14.9" ry="15.57"/>
<ellipse cx="255.4" cy="233" rx="12.0" ry="12.54"/>
<ellipse cx="298.9" cy="261.3" rx="12.0" ry="12.54"/>
<ellipse cx="360.8" cy="269" rx="12.0" ry="12.54"/>
<ellipse cx="325.5" cy="195" rx="12.0" ry="12.54"/>
<ellipse cx="374.7" cy="200" rx="14.9" ry="15.57"/>
<ellipse cx="400.2" cy="253.8" rx="12.0" ry="12.54"/>
<ellipse cx="445.2" cy="210.3" rx="14.9" ry="15.57"/>
<ellipse cx="501.3" cy="199.3" rx="6.1" ry="6.37"/>
<ellipse cx="503.3" cy="264.6" rx="2.8" ry="2.93"/>
<ellipse cx="458" cy="265.3" rx="12.0" ry="12.54"/>
<ellipse cx="570" cy="327" rx="9.1" ry="9.51"/>
<ellipse cx="499.5" cy="327" rx="2.8" ry="2.93"/>
<ellipse cx="444.5" cy="315" rx="12.0" ry="12.54"/>
<ellipse cx="402.6" cy="326" rx="9.1" ry="9.51"/>
<ellipse cx="372" cy="348.8" rx="9.1" ry="9.51"/>
<ellipse cx="336.2" cy="333.8" rx="14.9" ry="15.57"/>
<ellipse cx="476.3" cy="368.3" rx="2.8" ry="2.93"/>
<ellipse cx="463.2" cy="396.6" rx="2.8" ry="2.93"/>
<ellipse cx="536.8" cy="400" rx="2.8" ry="2.93"/>
<ellipse cx="410.9" cy="379.3" rx="2.8" ry="2.93"/>
<ellipse cx="407.3" cy="386.4" rx="2.8" ry="2.93"/>
<ellipse cx="395.3" cy="412.6" rx="2.8" ry="2.93"/>
<ellipse cx="354.5" cy="423.3" rx="2.8" ry="2.93"/>
<ellipse cx="169.5" cy="321.3" rx="18.0" ry="18.81"/>
<ellipse cx="243.3" cy="335.8" rx="14.9" ry="15.57"/>
<ellipse cx="290.8" cy="328.3" rx="14.9" ry="15.57"/>
<ellipse cx="211.5" cy="372" rx="9.1" ry="9.51"/>
<ellipse cx="259.8" cy="412.5" rx="6.1" ry="6.37"/>
<ellipse cx="309.6" cy="401.5" rx="6.1" ry="6.37"/>
<circle cx="383.8" cy="414.5" r="1.4"/><circle cx="561.6" cy="410" r="1.2"/>
</g>
<text class="lt" x="567.5" y="63.6">Forest area</text><text class="lt" x="567.5" y="75.4">(hundred ha)</text>
<ellipse cx="583.1" cy="102.8" rx="18.6" ry="19.44" fill="#2b4a0d" stroke="#0a0f05" stroke-width="1.2"/>
<text class="lg" x="609.3" y="104.9">3119.01 - 4257</text>
<ellipse cx="581.2" cy="155.4" rx="15.3" ry="15.99" fill="#2b4a0d" stroke="#0a0f05" stroke-width="1.2"/>
<text class="lg" x="602.7" y="159.4">2172.01 - 3119</text>
<ellipse cx="580.7" cy="198.9" rx="12.2" ry="12.75" fill="#2b4a0d" stroke="#0a0f05" stroke-width="1.2"/>
<text class="lg" x="599.5" y="203">1453.01 - 2172</text>
<ellipse cx="580" cy="232.4" rx="9.2" ry="9.61" fill="#2b4a0d" stroke="#0a0f05" stroke-width="1.2"/>
<text class="lg" x="596" y="236.6">815.01 - 1453</text>
<ellipse cx="580" cy="256.1" rx="6.2" ry="6.48" fill="#2b4a0d" stroke="#0a0f05" stroke-width="1.2"/>
<text class="lg" x="594" y="260">368.01 - 815</text>
<ellipse cx="580" cy="274" rx="2.7" ry="2.82" fill="#2b4a0d" stroke="#0a0f05" stroke-width="1.2"/>
<text class="lg" x="594" y="277.8">6 - 368</text>
<path d="M861.5,104.7 L861.3,102.9 L863.1,101.6 L863.3,99.9 L862.5,97.9 L863.3,96.3 L864.6,95.1 L866.5,95.0 L868.2,94.5 L868.8,92.0 L870.6,91.6 L872.5,91.7 L873.7,90.7 L875.4,91.0 L877.2,90.4 L878.8,91.2 L880.3,92.7 L882.2,92.3 L883.3,90.9 L884.7,89.8 L886.5,89.5 L888.3,89.2 L889.2,87.3 L890.4,86.1 L892.0,85.4 L893.5,84.5 L895.0,83.7 L895.3,81.5 L896.3,80.1 L898.6,79.9 L899.5,78.4 L900.7,77.2 L901.7,75.8 L902.6,74.2 L905.1,74.5 L906.2,73.1 L907.0,71.2 L908.9,71.4 L910.6,70.8 L912.3,70.7 L913.6,69.2 L912.7,66.9 L914.1,65.7 L914.8,65.0 L916.6,64.8 L918.3,65.2 L920.1,65.2 L921.6,66.2 L922.2,67.5 L923.8,68.5 L925.2,69.8 L925.7,71.4 L926.4,73.1 L927.9,74.0 L929.9,73.3 L931.6,73.6 L933.0,74.8 L934.7,75.2 L936.0,74.0 L936.8,72.2 L938.4,72.3 L939.9,73.6 L941.6,74.0 L943.3,74.1 L945.1,74.1 L946.9,74.4 L947.4,76.7 L948.8,77.8 L951.3,76.8 L952.3,78.4 L953.8,80.1 L955.3,79.0 L957.0,78.8 L958.5,77.9 L960.2,77.4 L961.5,78.7 L963.3,78.7 L965.5,78.0 L966.7,79.4 L967.9,81.0 L969.7,81.2 L971.5,81.0 L973.0,81.8 L974.5,82.8 L975.9,83.7 L977.8,83.6 L978.6,81.5 L980.3,81.1 L982.7,81.8 L983.3,79.6 L984.4,78.1 L986.5,78.7 L988.1,78.3 L989.8,78.5 L991.5,78.1 L993.1,76.6 L994.6,78.4 L995.5,80.1 L997.7,79.7 L999.4,80.4 L999.6,82.6 L999.9,84.3 L1001.2,85.5 L1002.4,86.8 L1003.2,88.1 L1004.1,89.7 L1004.7,91.4 L1006.7,91.8 L1008.7,92.2 L1008.5,94.9 L1009.7,96.1 L1012.0,96.0 L1013.0,97.5 L1014.2,98.6 L1015.5,99.7 L1017.1,99.1 L1018.6,98.2 L1020.0,97.2 L1021.0,95.6 L1022.6,95.0 L1024.6,95.2 L1026.0,93.8 L1026.4,92.0 L1026.8,90.3 L1027.2,88.6 L1029.0,87.6 L1030.9,86.8 L1031.2,85.5 L1032.4,83.7 L1034.3,83.9 L1036.0,83.8 L1037.6,83.3 L1039.4,83.2 L1040.8,82.0 L1042.3,80.7 L1044.1,81.2 L1045.9,81.6 L1047.6,81.3 L1049.2,80.6 L1050.6,79.3 L1052.3,78.8 L1054.3,80.1 L1055.9,80.1 L1057.4,78.5 L1059.1,78.1 L1060.8,78.2 L1062.5,77.9 L1064.3,78.6 L1066.0,78.6 L1067.5,77.0 L1069.1,76.4 L1070.9,77.0 L1072.7,77.3 L1074.4,77.4 L1076.0,76.4 L1077.5,74.9 L1079.3,75.7 L1081.0,75.7 L1081.5,73.9 L1083.2,73.1 L1084.2,71.7 L1085.7,70.7 L1085.1,68.2 L1086.0,66.8 L1088.5,66.3 L1088.9,64.6 L1089.6,63.0 L1088.9,60.7 L1090.4,59.6 L1092.9,59.0 L1093.2,57.7 L1094.6,56.7 L1095.8,55.3 L1097.9,55.8 L1100.0,56.4 L1100.8,53.9 L1102.3,53.2 L1103.7,52.3 L1105.8,52.5 L1107.6,52.3 L1108.6,49.8 L1110.3,50.4 L1112.0,50.4 L1113.7,51.2 L1115.4,51.6 L1117.1,49.7 L1118.6,51.5 L1120.0,52.5 L1120.9,54.1 L1122.1,55.3 L1124.7,54.9 L1125.2,56.9 L1126.2,58.3 L1126.9,59.9 L1128.4,60.9 L1131.0,60.9 L1130.8,63.3 L1131.4,64.9 L1132.5,66.2 L1134.3,67.0 L1136.4,67.5 L1135.3,70.3 L1135.9,71.9 L1137.4,73.0 L1138.8,74.2 L1140.0,75.6 L1138.5,78.2 L1139.9,79.3 L1141.6,80.5 L1142.2,82.1 L1142.8,83.7 L1141.6,86.0 L1143.6,87.0 L1145.1,88.2 L1145.1,90.1 L1145.7,91.6 L1145.1,93.7 L1147.2,94.7 L1148.3,96.3 L1147.8,98.1 L1148.2,99.8 L1147.4,101.6 L1149.3,103.0 L1150.1,104.5 L1149.6,106.4 L1150.2,108.0 L1150.8,109.6 L1152.2,110.7 L1153.3,112.0 L1154.1,113.5 L1155.3,114.8 L1154.6,117.4 L1157.1,117.7 L1158.6,118.8 L1159.0,120.5 L1160.6,121.6 L1159.5,124.2 L1161.1,125.2 L1163.2,126.0 L1163.4,127.8 L1165.3,128.4 L1164.9,131.0 L1165.9,132.4 L1168.3,132.6 L1168.9,134.3 L1170.9,134.8 L1171.1,137.0 L1170.9,139.0 L1173.4,139.5 L1173.9,141.2 L1175.6,142.1 L1176.2,143.8 L1175.4,146.3 L1177.7,146.8 L1178.9,148.1 L1180.6,148.8 L1182.1,149.7 L1181.7,152.5 L1183.5,153.1 L1184.9,154.1 L1186.4,155.1 L1188.4,155.5 L1188.1,158.2 L1189.3,159.4 L1190.9,160.2 L1191.9,161.5 L1194.0,162.4 L1193.3,164.6 L1193.4,166.4 L1194.6,167.7 L1194.7,169.3 L1195.9,171.0 L1195.3,172.7 L1195.5,174.4 L1196.0,176.0 L1196.1,177.8 L1198.2,178.9 L1198.4,180.6 L1199.0,182.2 L1198.9,184.0 L1198.4,186.1 L1201.0,186.9 L1201.0,188.7 L1202.3,190.0 L1202.4,191.9 L1201.5,193.9 L1202.6,195.3 L1203.1,196.9 L1205.0,198.2 L1204.3,200.2 L1204.1,201.9 L1203.7,203.6 L1203.0,205.3 L1205.4,207.0 L1204.5,208.7 L1204.3,210.4 L1203.2,211.9 L1202.1,213.4 L1202.8,215.3 L1202.4,217.0 L1203.0,219.0 L1200.8,220.0 L1200.2,221.6 L1200.0,223.3 L1199.1,224.8 L1200.5,227.2 L1198.6,228.3 L1197.7,229.8 L1196.7,231.2 L1196.6,233.1 L1198.1,234.8 L1197.6,236.5 L1197.5,238.2 L1197.1,239.9 L1196.2,241.6 L1198.3,243.4 L1198.0,245.1 L1196.7,246.8 L1197.8,248.4 L1197.5,250.2 L1197.0,251.9 L1199.2,253.4 L1199.4,255.1 L1197.8,257.0 L1198.7,258.6 L1199.5,260.2 L1199.7,261.9 L1201.4,263.2 L1201.6,264.9 L1200.8,266.8 L1201.3,268.5 L1201.9,270.1 L1202.6,271.7 L1202.6,273.7 L1201.0,274.9 L1200.1,276.4 L1200.1,278.2 L1199.2,279.7 L1199.5,281.6 L1199.3,283.4 L1197.4,285.2 L1198.7,286.4 L1200.7,287.1 L1200.9,289.0 L1202.3,290.2 L1203.7,291.3 L1202.9,293.9 L1204.4,294.8 L1205.5,296.2 L1207.1,297.1 L1207.7,298.8 L1208.7,300.2 L1210.1,301.3 L1210.2,303.4 L1211.7,304.5 L1214.4,303.9 L1215.6,305.1 L1216.0,307.4 L1217.3,308.4 L1218.7,309.4 L1220.4,310.1 L1222.4,309.4 L1223.9,310.5 L1224.9,312.6 L1226.7,312.7 L1228.5,312.8 L1230.0,313.9 L1231.8,313.0 L1233.6,312.4 L1235.0,314.6 L1236.6,315.6 L1237.5,313.0 L1237.7,311.2 L1238.0,309.5 L1238.4,307.9 L1240.5,308.0 L1242.3,307.9 L1243.5,305.8 L1245.1,305.3 L1246.9,305.5 L1248.0,304.0 L1249.7,303.5 L1252.0,303.9 L1252.8,302.0 L1253.5,299.7 L1255.3,299.6 L1257.1,299.3 L1258.8,298.8 L1260.6,298.7 L1261.6,296.8 L1262.8,294.8 L1264.8,295.7 L1266.6,296.0 L1268.1,294.8 L1269.9,295.1 L1271.6,294.8 L1273.2,293.0 L1274.9,293.4 L1276.4,295.3 L1278.1,295.5 L1279.8,295.3 L1281.5,295.4 L1283.6,295.4 L1284.6,296.8 L1284.9,299.4 L1286.6,299.9 L1288.7,299.9 L1289.2,301.7 L1290.2,303.2 L1291.5,304.5 L1290.6,306.7 L1290.5,308.5 L1292.5,309.6 L1293.3,311.2 L1293.3,313.0 L1293.5,314.6 L1292.3,316.5 L1292.1,318.2 L1294.1,319.9 L1294.2,321.6 L1292.7,323.1 L1292.9,324.9 L1292.6,326.6 L1291.2,328.1 L1292.0,329.9 L1293.2,331.8 L1292.2,333.4 L1291.2,335.0 L1290.9,336.6 L1290.0,338.1 L1290.7,340.1 L1291.6,342.0 L1289.7,343.3 L1288.1,344.7 L1288.7,346.5 L1287.9,348.1 L1286.8,349.4 L1287.3,351.5 L1286.4,353.0 L1284.9,351.0 L1283.4,350.1 L1281.6,349.7 L1280.1,349.7 L1278.6,351.0 L1276.9,351.0 L1274.7,349.4 L1273.2,350.4 L1272.1,352.5 L1270.3,352.5 L1268.6,352.8 L1267.2,354.0 L1265.2,353.5 L1263.4,353.5 L1262.5,355.7 L1261.4,357.1 L1259.7,357.6 L1258.2,358.5 L1256.2,358.6 L1254.5,359.4 L1254.5,361.9 L1252.9,362.7 L1252.5,364.4 L1251.4,365.8 L1250.8,367.4 L1250.3,369.0 L1251.1,371.1 L1250.3,372.6 L1250.1,374.4 L1249.2,375.9 L1247.1,376.9 L1247.3,378.8 L1246.2,380.1 L1246.0,381.9 L1246.5,384.1 L1244.8,385.1 L1244.2,386.7 L1242.6,387.9 L1241.4,389.1 L1241.1,390.9 L1240.5,392.5 L1240.6,394.5 L1239.3,395.8 L1238.3,397.1 L1236.9,398.3 L1235.0,399.1 L1235.3,401.3 L1235.6,403.0 L1236.5,404.5 L1237.7,406.0 L1236.4,408.0 L1236.9,409.7 L1236.7,411.5 L1237.0,413.1 L1238.3,414.7 L1238.1,416.4 L1238.2,418.2 L1236.9,419.7 L1236.3,421.3 L1235.9,423.0 L1235.2,424.7 L1236.8,426.5 L1236.5,428.2 L1236.4,429.9 L1236.5,431.6 L1234.5,433.2 L1234.9,434.9 L1234.8,436.6 L1234.9,438.3 L1235.9,440.2 L1235.1,441.8 L1234.7,443.5 L1233.4,445.0 L1233.6,445.9 L1232.0,446.7 L1230.3,447.0 L1228.9,448.9 L1227.1,448.6 L1225.3,448.1 L1223.7,447.8 L1222.3,445.9 L1220.4,446.8 L1218.6,446.9 L1216.9,446.5 L1215.0,446.8 L1213.8,445.2 L1212.2,444.4 L1210.9,443.3 L1209.3,442.8 L1207.3,442.9 L1205.8,442.1 L1203.8,442.2 L1202.9,440.4 L1201.6,439.1 L1199.9,438.7 L1198.7,437.1 L1196.4,437.5 L1195.8,435.8 L1196.0,434.1 L1195.4,432.6 L1196.3,430.5 L1195.9,428.9 L1195.3,427.3 L1193.3,426.7 L1191.4,427.0 L1190.3,426.0 L1189.2,427.3 L1187.0,427.3 L1185.5,428.1 L1184.6,429.3 L1182.9,428.8 L1181.2,430.5 L1179.4,428.6 L1179.3,426.6 L1178.2,425.3 L1177.0,423.6 L1175.2,424.0 L1173.5,424.6 L1171.7,424.9 L1170.0,425.2 L1168.4,423.9 L1166.7,423.5 L1165.2,422.2 L1163.5,422.1 L1161.6,423.1 L1160.0,422.3 L1158.0,421.6 L1157.7,419.7 L1157.4,417.8 L1156.0,416.7 L1154.3,416.4 L1152.8,415.2 L1150.8,416.5 L1149.2,415.9 L1147.6,415.3 L1145.9,414.7 L1144.2,414.6 L1142.4,415.4 L1140.8,414.0 L1139.1,414.1 L1137.4,413.8 L1135.7,414.6 L1133.9,414.5 L1132.2,413.7 L1130.5,414.3 L1128.8,414.3 L1127.4,415.6 L1125.5,415.2 L1123.9,415.8 L1122.3,416.6 L1120.7,417.0 L1119.1,417.9 L1117.2,417.3 L1115.7,418.4 L1114.0,418.6 L1112.5,419.4 L1110.7,419.6 L1108.9,419.5 L1107.6,421.0 L1105.9,421.2 L1104.5,422.3 L1102.5,422.0 L1101.1,423.0 L1099.5,423.7 L1098.1,424.8 L1095.9,423.8 L1094.9,425.7 L1092.9,425.5 L1092.0,427.5 L1090.7,428.7 L1088.7,428.5 L1087.5,429.8 L1085.0,429.1 L1084.4,431.1 L1083.1,432.0 L1082.2,433.6 L1081.7,435.6 L1079.4,435.5 L1078.7,437.2 L1076.3,437.2 L1075.5,438.8 L1074.8,440.5 L1073.6,441.6 L1073.4,443.8 L1071.1,443.9 L1070.1,445.3 L1068.2,445.8 L1067.0,446.9 L1066.8,449.1 L1065.3,450.0 L1064.7,452.1 L1062.6,451.9 L1061.0,452.6 L1059.5,453.4 L1058.1,454.3 L1057.0,455.7 L1055.4,456.4 L1054.2,457.7 L1053.3,459.4 L1050.9,458.9 L1049.4,459.8 L1048.4,461.4 L1046.8,462.0 L1045.3,462.8 L1043.2,462.0 L1042.2,462.4 L1039.9,463.1 L1038.6,461.8 L1037.3,460.7 L1036.1,459.3 L1034.5,458.6 L1032.2,459.5 L1031.1,457.8 L1029.9,456.3 L1028.2,455.8 L1026.5,455.5 L1024.5,456.3 L1023.2,454.7 L1021.8,453.2 L1019.8,454.0 L1018.1,453.9 L1016.6,454.0 L1014.8,453.1 L1013.0,452.4 L1011.5,454.4 L1009.8,454.6 L1008.0,454.1 L1006.3,453.7 L1004.7,453.0 L1002.8,454.6 L1001.1,453.8 L999.5,453.2 L997.8,452.9 L996.3,451.4 L994.4,452.7 L992.7,452.6 L991.4,453.3 L989.6,453.2 L987.5,451.9 L986.2,453.6 L984.7,454.6 L983.0,454.7 L981.6,456.0 L979.7,455.3 L978.0,455.7 L976.5,456.5 L974.7,456.4 L973.1,458.1 L971.4,457.8 L970.0,455.8 L968.2,456.2 L966.5,456.2 L964.8,455.8 L963.4,454.8 L962.4,452.6 L960.3,453.3 L958.5,453.3 L956.7,453.4 L955.1,452.7 L954.0,450.7 L952.2,450.7 L950.8,449.4 L949.2,449.0 L947.2,449.7 L945.6,449.1 L943.7,449.1 L942.7,446.9 L941.3,445.6 L939.3,446.2 L937.7,445.7 L935.8,446.3 L934.3,445.4 L932.7,444.6 L931.1,444.3 L929.7,442.3 L927.9,442.8 L926.1,443.2 L924.3,443.6 L922.5,443.6 L921.1,441.5 L919.4,441.7 L917.7,441.7 L916.0,441.6 L914.3,442.8 L912.6,442.6 L911.1,443.5 L909.2,442.8 L907.2,441.6 L905.8,443.0 L904.2,443.6 L902.7,445.1 L900.8,444.8 L899.2,443.6 L897.4,443.9 L895.9,442.3 L894.5,442.4 L892.6,442.2 L890.9,441.7 L889.0,441.6 L888.6,439.0 L889.2,438.2 L889.2,436.4 L889.7,434.8 L889.0,432.6 L890.3,431.4 L890.9,429.8 L892.1,428.5 L894.6,428.1 L894.9,426.3 L895.6,424.8 L895.8,422.7 L896.8,421.3 L899.1,421.1 L899.9,419.5 L901.0,418.2 L899.2,418.4 L897.6,418.0 L895.9,417.7 L894.3,416.7 L892.7,416.8 L891.1,416.0 L889.4,415.5 L888.8,413.4 L887.6,412.2 L885.7,411.8 L883.8,411.1 L883.5,409.2 L882.8,407.6 L881.5,406.5 L880.1,405.4 L878.8,404.2 L878.3,402.4 L877.4,400.8 L875.8,400.1 L873.7,399.9 L873.0,398.0 L872.3,396.6 L871.5,395.1 L869.7,394.1 L869.4,392.3 L868.6,390.8 L869.1,388.8 L867.8,387.5 L866.9,385.9 L867.4,383.9 L869.9,384.5 L870.8,382.8 L871.9,381.5 L872.8,379.9 L875.0,379.8 L875.5,378.0 L876.8,376.7 L876.1,374.5 L877.2,373.2 L876.4,372.0 L876.1,369.9 L873.6,369.9 L872.7,368.5 L871.6,367.1 L871.1,365.1 L869.2,364.6 L868.1,363.3 L867.1,362.9 L865.2,362.5 L863.5,362.8 L861.9,363.6 L860.7,365.4 L858.9,365.2 L857.2,365.8 L856.0,367.1 L855.4,368.6 L854.7,370.1 L853.8,371.7 L852.8,373.1 L852.6,374.9 L853.3,376.8 L852.6,378.4 L851.4,379.9 L851.1,381.6 L851.2,383.6 L849.5,384.0 L848.0,383.7 L847.4,381.9 L845.8,381.1 L844.7,379.7 L843.6,378.2 L844.3,376.2 L843.5,374.7 L842.8,373.1 L842.4,371.4 L839.8,371.2 L839.1,369.6 L838.3,368.0 L836.6,367.6 L835.1,366.3 L833.1,368.1 L831.4,367.9 L829.7,367.8 L828.1,367.2 L826.9,365.0 L824.9,365.7 L823.3,365.1 L821.3,365.7 L819.7,365.2 L819.3,362.9 L817.9,361.7 L817.7,359.8 L815.4,359.3 L814.0,358.2 L813.4,357.0 L811.7,356.8 L810.5,354.6 L808.5,355.4 L806.7,355.6 L805.0,355.4 L803.3,353.8 L804.6,351.3 L803.4,350.0 L803.3,349.6 L804.6,348.3 L805.9,346.6 L808.0,347.7 L809.5,346.8 L811.6,346.7 L812.5,345.1 L812.9,342.8 L814.1,342.7 L812.6,341.8 L813.0,339.2 L811.8,338.0 L810.0,337.3 L808.5,336.5 L806.3,337.1 L805.6,334.7 L804.5,334.4 L805.6,333.0 L806.4,331.6 L805.6,329.0 L807.4,328.2 L808.2,326.6 L810.0,325.6 L811.0,324.1 L809.8,321.9 L810.8,320.4 L810.8,318.6 L812.0,317.2 L810.6,316.3 L809.3,315.1 L807.5,314.9 L805.5,314.9 L804.5,313.2 L803.2,312.0 L802.0,310.7 L799.7,311.3 L797.9,311.0 L797.2,309.0 L795.7,308.1 L794.6,306.7 L792.9,306.2 L791.2,305.6 L789.7,304.9 L788.1,304.5 L787.4,302.0 L785.7,301.5 L783.7,301.8 L781.9,301.5 L780.3,300.4 L780.3,298.2 L778.6,297.4 L777.5,296.0 L776.2,294.9 L774.2,294.5 L774.2,292.3 L774.3,290.5 L774.8,288.7 L773.2,287.3 L771.7,285.3 L773.4,283.9 L773.8,282.3 L774.7,280.7 L774.6,279.0 L774.0,277.3 L773.7,275.6 L772.7,274.1 L774.1,272.1 L773.8,270.1 L772.0,269.2 L770.7,267.9 L769.8,266.5 L770.4,264.2 L768.8,263.1 L767.4,262.1 L766.2,260.9 L764.2,260.6 L763.4,259.0 L762.7,257.3 L762.4,255.4 L760.9,254.4 L758.5,254.0 L758.6,251.9 L757.8,250.3 L756.8,248.9 L755.3,248.0 L753.5,247.5 L752.4,246.2 L750.6,245.2 L751.1,243.0 L750.9,241.2 L749.1,240.2 L747.8,239.0 L746.7,237.5 L747.7,235.4 L747.2,233.7 L746.0,232.3 L747.5,231.6 L748.3,229.7 L749.9,229.1 L751.6,228.6 L753.3,228.9 L755.0,228.4 L756.3,226.2 L758.3,226.8 L759.8,227.9 L761.3,228.8 L762.9,229.3 L764.7,228.8 L766.4,229.1 L768.1,228.3 L769.8,229.2 L771.5,229.2 L772.6,227.7 L772.4,225.9 L772.6,224.1 L773.7,222.8 L775.2,221.6 L777.3,223.3 L778.6,221.3 L780.4,221.4 L781.7,219.2 L783.6,220.1 L785.3,220.1 L787.2,220.4 L788.6,219.1 L790.1,218.1 L790.8,216.5 L793.3,217.1 L794.4,215.7 L796.8,216.1 L796.8,213.3 L797.9,212.4 L798.3,210.7 L799.9,209.6 L801.8,208.7 L801.8,206.7 L802.4,205.1 L801.9,203.0 L803.3,201.8 L804.8,200.7 L806.1,199.4 L806.2,197.6 L806.0,195.7 L805.4,193.8 L807.6,192.6 L807.5,190.8 L808.0,189.2 L809.7,188.6 L810.7,187.1 L811.4,185.2 L813.5,185.1 L814.7,183.9 L815.8,182.4 L815.3,180.5 L814.3,178.6 L816.3,177.5 L817.5,176.2 L818.5,174.9 L820.3,174.2 L820.4,171.9 L821.9,170.9 L823.8,170.4 L824.6,168.8 L825.9,167.6 L825.5,165.3 L826.4,163.9 L828.9,163.5 L829.0,161.5 L830.0,160.1 L830.7,158.5 L830.4,156.4 L832.4,155.5 L833.4,154.1 L833.9,152.5 L834.6,150.9 L834.0,148.7 L836.1,147.8 L837.7,146.7 L837.2,144.6 L838.4,143.2 L838.6,141.4 L839.1,139.8 L841.2,138.9 L841.4,137.1 L842.0,135.5 L842.2,133.7 L842.4,131.9 L845.1,131.3 L845.4,129.5 L845.0,127.4 L846.4,126.2 L846.4,124.3 L847.8,123.1 L849.3,121.9 L849.0,119.9 L849.9,118.4 L849.9,116.5 L851.2,115.3 L853.6,114.5 L852.7,112.2 L853.1,110.5 L854.5,109.3 L855.3,107.5 L857.4,107.9 L858.7,106.7 L859.9,105.3 L861.5,104.7Z" fill="#3f8a57" stroke="none"/>
<g stroke="none">
<path d="M887.0,202.2 L886.8,204.0 L886.9,206.0 L884.3,207.1 L884.2,209.1 L885.3,211.0 L885.0,212.8 L884.5,214.6 L885.5,216.3 L885.6,218.3 L886.0,220.2 L887.8,220.1 L889.0,221.8 L890.4,223.0 L892.4,222.4 L894.2,222.4 L895.9,222.6 L896.6,224.9 L897.2,226.6 L899.8,226.4 L901.1,227.5 L901.9,229.1 L902.9,230.5 L903.4,232.4 L905.1,233.0 L906.7,234.2 L906.5,236.1 L906.7,237.9 L906.6,239.8 L908.1,241.0 L910.4,241.9 L910.0,243.8 L910.2,245.8 L911.9,246.6 L913.3,247.6 L915.2,248.2 L915.7,250.0 L915.4,252.0 L916.8,253.2 L917.8,254.7 L918.9,256.0 L919.7,257.6 L918.4,259.9 L919.5,261.3 L921.6,262.4 L921.9,264.1 L921.8,265.8 L921.2,267.8 L922.0,269.3 L924.3,270.4 L924.1,272.2 L923.8,274.1 L924.3,275.7 L924.3,277.5 L926.2,278.7 L927.1,280.2 L926.1,282.4 L926.8,283.9 L928.0,285.2 L929.9,286.0 L931.3,287.1 L930.3,289.8 L931.0,291.2 L933.2,292.0 L934.0,293.5 L935.0,294.8 L935.0,296.8 L935.5,298.4 L936.9,299.6 L938.2,298.9 L939.6,298.3 L941.0,297.7 L941.1,295.9 L939.0,294.7 L939.1,293.0 L938.9,291.2 L939.5,289.2 L938.0,288.0 L936.5,286.4 L937.5,284.6 L937.1,282.9 L938.3,281.1 L936.6,279.4 L937.5,277.9 L936.5,275.9 L939.0,274.8 L939.5,273.1 L939.2,271.3 L939.3,269.4 L940.4,268.1 L942.6,267.4 L942.6,265.4 L944.2,264.4 L943.5,261.8 L945.6,261.3 L946.8,260.1 L949.0,259.8 L948.8,257.3 L949.5,255.7 L951.4,255.0 L952.6,253.9 L954.4,253.1 L954.3,250.8 L955.8,249.9 L955.9,247.7 L959.0,248.1 L959.6,246.5 L960.5,245.0 L961.1,243.0 L963.0,242.7 L964.9,242.2 L965.7,240.6 L967.3,239.8 L966.9,237.5 L969.0,236.7 L969.8,235.2 L971.9,234.4 L970.6,231.8 L971.9,230.5 L973.0,229.2 L971.8,227.9 L970.6,226.6 L968.3,226.4 L968.5,223.8 L967.6,222.2 L965.6,221.7 L964.4,220.4 L962.1,220.2 L963.8,217.2 L962.3,215.8 L961.6,214.2 L961.0,212.5 L959.3,212.4 L957.5,212.6 L956.0,211.3 L954.3,211.0 L952.8,209.6 L950.9,210.8 L949.2,211.0 L947.6,211.7 L945.8,211.1 L944.1,211.2 L942.3,210.7 L940.6,210.4 L939.0,211.0 L937.4,210.4 L935.6,210.0 L934.9,208.0 L933.2,207.5 L932.4,205.4 L930.4,205.3 L928.6,205.2 L926.7,206.0 L925.1,205.3 L923.6,204.3 L921.9,204.4 L920.0,204.1 L918.5,204.9 L916.8,205.5 L915.5,207.4 L913.6,206.7 L911.9,206.9 L910.1,206.1 L908.4,206.6 L906.7,206.4 L905.0,207.4 L903.3,208.2 L901.4,207.5 L900.0,206.5 L898.7,205.0 L896.9,204.9 L895.6,203.6 L893.5,204.6 L891.8,204.1 L890.1,203.9 L888.7,202.4 L887.0,202.2Z" fill="#3f8a57" stroke="#3f8a57" stroke-width="0.6"/>
<path d="M990.5,288.6 L990.4,290.3 L989.8,291.9 L990.7,293.8 L988.3,295.1 L988.0,296.8 L988.4,298.6 L988.7,300.3 L989.0,302.1 L986.6,303.4 L987.4,305.3 L986.4,306.9 L987.9,308.6 L987.3,310.3 L987.4,312.0 L987.8,313.7 L986.9,315.5 L988.1,317.1 L987.3,318.8 L988.9,320.6 L987.4,322.2 L986.9,323.8 L986.5,325.5 L986.9,327.3 L988.5,328.9 L986.8,330.7 L987.2,332.3 L986.1,334.1 L988.0,335.7 L987.8,337.4 L987.5,339.1 L987.5,340.8 L986.5,342.5 L987.6,344.2 L986.2,345.9 L987.9,347.6 L987.3,349.3 L987.3,351.0 L987.3,352.7 L988.9,352.0 L990.3,350.5 L991.2,351.9 L992.6,353.0 L992.5,355.3 L994.1,356.2 L995.7,357.1 L996.3,358.8 L996.9,360.4 L997.5,362.1 L999.2,363.0 L999.9,364.7 L998.9,366.5 L999.0,368.2 L999.7,369.9 L1000.3,371.5 L1000.5,373.2 L999.4,375.2 L1001.0,376.5 L1001.6,378.1 L1001.9,379.8 L1002.0,381.5 L1001.4,383.4 L1003.9,384.6 L1003.1,386.5 L1003.4,388.2 L1003.2,389.9 L1003.8,391.6 L1004.3,393.2 L1006.0,393.9 L1007.6,392.4 L1009.3,392.6 L1011.0,392.6 L1012.6,393.0 L1014.3,394.3 L1016.0,393.4 L1017.6,392.8 L1018.9,391.2 L1020.5,390.8 L1022.6,392.1 L1024.1,391.2 L1025.9,391.3 L1027.3,390.2 L1028.4,388.4 L1030.2,388.4 L1031.8,388.2 L1033.9,387.7 L1034.3,386.0 L1034.1,384.1 L1035.0,382.7 L1035.3,380.9 L1034.6,379.3 L1033.5,377.7 L1034.1,375.9 L1033.3,374.3 L1033.6,372.5 L1033.5,370.7 L1030.8,369.7 L1031.2,367.8 L1032.1,365.8 L1030.8,364.4 L1030.5,362.7 L1029.7,361.1 L1029.2,359.4 L1029.8,357.6 L1029.8,355.8 L1028.8,354.3 L1027.3,352.7 L1028.4,350.9 L1029.0,349.0 L1027.5,347.5 L1027.7,345.8 L1027.3,344.0 L1027.2,342.3 L1029.6,340.9 L1028.9,339.1 L1027.8,337.1 L1028.8,335.6 L1029.0,333.9 L1029.2,332.1 L1028.6,330.5 L1028.0,328.8 L1027.5,327.1 L1028.1,325.4 L1030.3,324.7 L1029.8,322.4 L1029.9,320.4 L1032.2,319.8 L1032.8,318.2 L1034.2,317.1 L1035.4,315.9 L1034.9,313.8 L1036.2,312.4 L1037.9,311.2 L1037.7,309.3 L1038.0,307.6 L1037.0,306.2 L1036.7,304.4 L1033.8,304.2 L1034.6,301.7 L1032.6,301.0 L1033.7,298.2 L1031.7,297.5 L1031.1,295.7 L1028.7,295.5 L1027.7,294.2 L1026.4,293.3 L1025.6,291.5 L1024.4,290.3 L1023.2,289.0 L1021.0,289.4 L1019.3,289.3 L1017.4,289.7 L1015.9,288.6 L1014.3,287.8 L1012.6,287.4 L1011.0,286.7 L1009.2,288.3 L1007.5,287.5 L1005.7,289.3 L1004.1,287.0 L1002.4,287.8 L1000.7,286.4 L999.0,287.2 L997.2,287.1 L995.6,287.6 L994.0,288.4 L992.3,288.8 L990.5,288.6Z" fill="#3f8a57" stroke="#3f8a57" stroke-width="0.6"/>
<path d="M771.5,229.2 L772.6,227.7 L772.4,225.9 L772.6,224.1 L773.7,222.8 L775.2,221.6 L777.3,223.3 L778.6,221.3 L780.4,221.4 L781.7,219.2 L783.6,220.1 L785.3,220.1 L787.2,220.4 L788.6,219.1 L790.1,218.1 L790.8,216.5 L793.3,217.1 L794.4,215.7 L796.8,216.1 L796.8,213.3 L797.9,212.4 L798.3,210.7 L799.9,209.6 L801.8,208.7 L801.8,206.7 L802.4,205.1 L801.9,203.0 L803.3,201.8 L804.8,200.7 L806.1,199.4 L806.2,197.6 L806.0,195.7 L805.4,193.8 L807.6,192.6 L807.5,190.8 L808.0,189.2 L809.6,188.3 L811.3,188.4 L813.2,189.6 L814.8,189.0 L816.5,188.4 L818.1,188.4 L820.1,187.7 L821.5,188.9 L822.7,191.2 L824.6,190.5 L826.5,190.0 L828.0,190.6 L829.6,189.3 L831.3,189.8 L833.3,191.6 L834.8,189.7 L836.3,188.2 L838.0,189.7 L839.7,190.1 L841.0,191.3 L841.7,193.6 L844.0,192.9 L846.2,192.5 L847.0,194.5 L848.4,195.4 L849.9,196.4 L851.0,197.9 L852.9,197.9 L854.9,198.5 L855.1,200.5 L855.5,202.4 L856.9,203.8 L858.5,204.2 L860.4,204.2 L862.2,204.3 L863.5,205.7 L864.0,207.9 L865.5,208.7 L867.6,208.7 L869.0,209.7 L870.4,210.7 L871.7,211.8 L872.2,214.1 L874.2,214.6 L876.3,212.9 L877.8,213.9 L879.4,214.9 L881.1,214.4 L882.8,215.3 L884.5,214.6 L885.5,216.3 L885.6,218.3 L886.0,220.2 L884.4,220.8 L884.0,223.2 L882.0,223.3 L879.8,223.2 L879.2,225.3 L877.8,226.2 L876.7,227.5 L875.6,228.8 L873.3,228.9 L872.9,230.9 L872.6,233.0 L870.9,233.7 L870.4,235.3 L870.6,237.1 L870.5,238.8 L870.6,240.5 L869.2,242.0 L868.5,243.4 L868.8,245.4 L868.4,247.0 L867.4,248.5 L865.9,249.7 L866.0,251.6 L865.5,253.2 L863.8,253.4 L862.1,252.5 L860.4,253.2 L858.8,254.8 L857.1,254.1 L855.4,254.1 L853.7,253.2 L852.0,253.8 L850.3,254.2 L848.6,254.1 L847.1,253.1 L845.8,251.5 L843.9,251.9 L842.3,251.6 L840.4,252.3 L838.8,251.7 L837.5,249.7 L835.6,251.0 L834.0,251.4 L832.7,252.9 L831.1,253.5 L829.3,252.5 L827.6,252.4 L826.0,252.3 L824.1,253.2 L822.5,252.8 L821.1,251.5 L820.3,249.9 L819.1,248.7 L816.6,249.0 L815.8,247.4 L814.2,246.8 L813.1,245.3 L811.8,244.0 L809.5,245.0 L808.3,245.0 L806.7,245.5 L804.9,245.2 L803.1,245.2 L801.8,246.6 L800.3,247.6 L798.4,247.9 L796.9,246.2 L795.2,246.1 L793.5,245.9 L791.8,246.3 L790.0,247.0 L789.0,244.6 L787.5,243.9 L786.1,242.8 L784.4,242.3 L782.4,242.4 L781.8,240.3 L781.1,238.7 L780.3,237.2 L778.5,236.4 L777.0,235.4 L776.2,234.0 L775.4,232.5 L774.8,230.6 L772.6,230.5 L771.5,229.2Z" fill="#62a379" stroke="#62a379" stroke-width="0.6"/>
<path d="M1146.5,183.2 L1144.8,183.0 L1143.1,183.0 L1141.4,182.5 L1139.6,184.5 L1138.0,183.6 L1136.3,183.6 L1134.6,183.5 L1133.1,181.8 L1131.5,182.1 L1130.2,181.0 L1128.1,181.4 L1126.7,180.3 L1125.7,180.3 L1124.2,181.0 L1121.8,180.6 L1121.1,182.5 L1119.3,182.8 L1118.2,184.4 L1116.7,185.2 L1115.2,185.8 L1113.4,186.0 L1111.4,185.5 L1110.2,187.1 L1108.2,186.7 L1107.2,188.6 L1105.7,189.6 L1103.9,189.6 L1102.3,190.3 L1100.4,189.6 L1098.9,190.6 L1097.1,190.3 L1095.8,192.3 L1093.8,192.4 L1092.4,191.2 L1090.6,191.3 L1089.5,189.2 L1087.5,189.7 L1085.9,190.4 L1084.8,192.1 L1083.3,192.8 L1081.5,192.9 L1079.7,192.6 L1079.1,190.0 L1077.1,190.2 L1075.4,189.6 L1073.9,190.6 L1072.6,191.8 L1070.8,191.9 L1069.2,192.3 L1067.5,192.7 L1069.1,193.4 L1071.0,192.7 L1072.4,194.1 L1073.9,194.9 L1074.5,195.9 L1074.5,197.6 L1076.9,198.8 L1076.6,200.6 L1077.4,202.1 L1075.0,203.5 L1076.0,205.5 L1076.4,207.3 L1076.6,209.1 L1075.3,210.5 L1073.9,212.9 L1076.1,213.4 L1077.0,214.8 L1079.1,214.7 L1079.5,217.2 L1081.2,217.7 L1082.1,219.3 L1083.9,219.7 L1085.8,219.8 L1087.1,221.0 L1088.6,221.8 L1088.7,224.7 L1091.0,224.3 L1092.4,225.2 L1092.7,226.8 L1093.3,228.4 L1095.2,229.6 L1093.6,231.8 L1094.6,233.2 L1094.8,234.9 L1096.4,236.1 L1097.3,237.5 L1096.9,239.4 L1097.5,241.0 L1097.9,242.8 L1100.6,243.0 L1100.8,244.9 L1101.7,246.3 L1102.5,247.7 L1104.0,246.8 L1105.8,246.7 L1107.2,245.7 L1109.1,246.1 L1110.7,245.4 L1112.1,244.3 L1113.9,244.5 L1115.3,242.9 L1116.9,242.4 L1119.0,243.7 L1120.4,243.3 L1122.1,243.4 L1123.8,243.3 L1125.6,242.2 L1127.1,243.4 L1128.9,243.4 L1130.3,242.1 L1132.2,242.4 L1133.7,241.5 L1135.0,240.2 L1136.8,240.2 L1138.3,239.1 L1140.1,239.3 L1142.4,239.2 L1142.5,237.1 L1143.1,235.4 L1144.7,234.5 L1145.9,233.1 L1147.9,233.4 L1149.3,233.3 L1151.1,232.7 L1152.6,234.0 L1154.4,233.7 L1156.3,232.9 L1157.8,234.1 L1159.4,234.7 L1160.8,235.7 L1162.5,236.0 L1162.2,234.3 L1161.6,232.8 L1162.5,231.0 L1161.5,229.4 L1159.9,227.9 L1159.9,226.4 L1158.8,225.1 L1159.9,222.7 L1158.6,221.4 L1158.1,219.8 L1155.9,219.0 L1155.2,217.5 L1154.7,215.8 L1154.9,213.8 L1154.4,212.2 L1153.1,211.1 L1152.1,209.6 L1150.7,208.2 L1151.9,206.2 L1151.2,204.6 L1152.4,202.5 L1150.2,201.4 L1149.9,199.7 L1148.8,198.2 L1148.8,196.5 L1150.3,194.5 L1148.9,193.0 L1149.8,191.1 L1146.7,190.1 L1147.4,188.2 L1146.7,186.6 L1147.2,184.8 L1146.5,183.2Z" fill="#226d3b" stroke="#226d3b" stroke-width="0.6"/>
<path d="M808.0,189.2 L809.7,188.6 L810.7,187.1 L811.4,185.2 L813.5,185.1 L814.7,183.9 L815.8,182.4 L815.3,180.5 L814.3,178.6 L816.3,177.5 L817.5,176.2 L818.5,174.9 L820.3,174.2 L820.4,171.9 L821.9,170.9 L823.8,170.4 L824.6,168.8 L825.9,167.6 L825.5,165.3 L826.4,163.9 L828.9,163.5 L829.0,161.5 L830.0,160.1 L830.7,158.5 L830.4,156.4 L832.4,155.5 L833.4,154.1 L833.9,152.5 L834.6,150.9 L834.0,148.7 L836.1,147.8 L837.7,146.7 L837.2,144.6 L838.4,143.2 L838.6,141.4 L839.1,139.8 L841.2,138.9 L841.4,137.1 L842.0,135.5 L842.2,133.7 L842.4,131.9 L845.1,131.3 L845.4,129.5 L845.0,127.4 L846.4,126.2 L846.4,124.3 L847.8,123.1 L849.3,121.9 L849.0,119.9 L849.9,118.4 L849.9,116.5 L851.2,115.3 L853.6,114.5 L852.7,112.2 L853.1,110.5 L854.5,109.3 L855.3,107.5 L857.4,107.9 L858.7,106.7 L859.9,105.3 L861.5,104.7 L862.5,106.2 L862.1,108.1 L861.4,110.2 L864.0,111.0 L865.3,112.2 L866.0,113.8 L868.1,114.4 L868.0,116.6 L867.8,119.2 L870.1,119.3 L871.5,120.4 L872.7,121.6 L874.8,121.6 L875.5,123.5 L876.0,125.8 L877.7,126.3 L879.0,127.5 L880.8,128.0 L882.0,129.2 L881.4,130.8 L881.5,132.6 L881.1,134.3 L879.1,135.4 L878.9,137.1 L878.4,138.7 L879.6,140.9 L878.1,142.2 L876.4,143.9 L877.5,145.5 L877.7,147.2 L879.0,148.8 L877.9,150.6 L878.4,152.4 L879.5,153.7 L881.5,154.2 L883.0,155.2 L882.2,157.8 L883.7,159.0 L884.4,160.5 L886.0,161.5 L886.5,163.2 L886.1,164.9 L886.3,166.7 L884.4,167.9 L884.5,169.7 L884.9,171.4 L886.3,172.7 L884.6,175.0 L885.6,176.3 L885.6,178.1 L885.6,179.9 L884.0,181.5 L885.1,182.9 L885.6,184.5 L887.3,185.8 L886.6,187.8 L886.7,189.6 L887.9,191.0 L889.5,192.2 L888.6,194.3 L888.8,195.6 L888.9,197.5 L888.8,199.2 L887.7,200.6 L887.0,202.2 L886.8,204.0 L886.9,206.0 L884.3,207.1 L884.2,209.1 L885.3,211.0 L885.0,212.8 L884.5,214.6 L882.8,215.3 L881.1,214.4 L879.4,214.9 L877.8,213.9 L876.3,212.9 L874.2,214.6 L872.2,214.1 L871.7,211.8 L870.4,210.7 L869.0,209.7 L867.6,208.7 L865.5,208.7 L864.0,207.9 L863.5,205.7 L862.2,204.3 L860.4,204.2 L858.5,204.2 L856.9,203.8 L855.5,202.4 L855.1,200.5 L854.9,198.5 L852.9,197.9 L851.0,197.9 L849.9,196.4 L848.4,195.4 L847.0,194.5 L846.2,192.5 L844.0,192.9 L841.7,193.6 L841.0,191.3 L839.7,190.1 L838.0,189.7 L836.3,188.2 L834.8,189.7 L833.3,191.6 L831.3,189.8 L829.6,189.3 L828.0,190.6 L826.5,190.0 L824.6,190.5 L822.7,191.2 L821.5,188.9 L820.1,187.7 L818.1,188.4 L816.5,188.4 L814.8,189.0 L813.2,189.6 L811.3,188.4 L809.6,188.3 L808.0,189.2Z" fill="#62a379" stroke="#62a379" stroke-width="0.6"/>
<path d="M962.6,128.5 L964.2,127.6 L964.5,125.6 L966.5,125.1 L966.1,122.3 L968.6,122.4 L970.0,121.4 L970.6,119.5 L971.9,118.4 L973.2,117.1 L975.3,117.4 L976.7,116.4 L978.2,115.5 L979.3,113.4 L981.6,115.1 L982.9,113.5 L984.8,113.8 L986.1,112.2 L988.1,111.7 L989.4,113.9 L991.3,113.3 L992.9,113.7 L994.8,113.2 L996.4,114.3 L997.9,113.4 L999.8,113.7 L1000.6,110.9 L1002.7,111.7 L1004.5,111.7 L1006.1,111.2 L1007.9,111.4 L1009.3,109.4 L1011.3,110.8 L1013.0,110.4 L1014.7,110.2 L1016.2,109.0 L1018.0,109.2 L1017.9,111.0 L1019.2,112.4 L1020.0,113.9 L1020.5,115.6 L1021.6,117.0 L1019.9,118.5 L1018.6,119.7 L1019.7,122.3 L1018.8,123.7 L1017.3,124.9 L1017.8,126.3 L1016.8,128.3 L1016.7,130.1 L1019.4,131.2 L1019.8,132.9 L1019.0,134.9 L1019.8,136.4 L1019.6,138.3 L1020.2,139.9 L1022.4,140.9 L1022.5,142.7 L1022.0,144.6 L1022.5,146.3 L1022.3,148.1 L1023.6,149.5 L1024.0,151.2 L1022.3,151.4 L1021.0,153.1 L1019.0,152.3 L1017.5,153.0 L1015.7,152.8 L1014.3,154.3 L1012.6,154.5 L1011.2,155.2 L1009.5,155.9 L1008.2,156.9 L1007.3,158.5 L1006.1,159.6 L1005.2,160.9 L1003.2,161.7 L1003.0,163.6 L1002.1,165.0 L1002.4,167.1 L999.8,167.0 L998.4,168.1 L996.6,168.3 L996.2,171.1 L994.2,170.9 L992.9,172.0 L990.7,171.9 L990.6,174.6 L989.1,175.4 L987.8,176.5 L985.4,176.0 L984.6,177.8 L983.6,179.4 L982.3,180.6 L980.2,180.2 L978.4,180.7 L977.5,182.4 L976.0,183.2 L975.0,181.8 L973.9,180.4 L972.8,179.1 L972.4,177.4 L973.2,175.1 L971.8,173.9 L970.9,172.4 L969.6,171.2 L967.5,170.6 L967.7,168.5 L967.2,166.8 L966.6,165.6 L967.0,163.9 L966.4,162.1 L965.7,160.3 L966.2,158.7 L966.6,157.1 L965.6,155.8 L965.4,153.8 L963.9,152.8 L961.7,152.2 L961.4,150.6 L959.7,150.0 L958.7,148.4 L959.1,147.0 L957.8,145.5 L956.9,144.0 L956.3,142.4 L956.2,140.4 L957.1,138.9 L958.8,137.6 L958.7,135.8 L958.5,133.9 L959.6,132.7 L959.6,130.5 L961.5,129.8 L962.6,128.5Z" fill="#3f8a57" stroke="#3f8a57" stroke-width="0.6"/>
<path d="M1165.5,293.6 L1167.2,293.6 L1168.5,295.5 L1170.3,295.2 L1172.2,294.5 L1173.8,295.4 L1175.2,296.3 L1176.0,298.3 L1177.6,298.9 L1179.9,298.3 L1181.1,299.1 L1182.6,300.2 L1184.1,300.8 L1185.8,301.2 L1187.7,299.9 L1189.3,300.3 L1190.8,302.1 L1192.5,301.8 L1194.2,301.7 L1195.9,301.3 L1197.6,301.7 L1197.1,303.3 L1196.7,305.0 L1196.4,306.6 L1196.8,308.4 L1197.7,309.4 L1197.0,311.6 L1197.2,313.4 L1198.9,314.4 L1199.3,316.1 L1200.6,317.3 L1201.9,318.7 L1201.3,320.6 L1201.2,322.3 L1201.5,324.0 L1202.9,325.4 L1204.0,326.8 L1202.9,328.7 L1203.2,330.4 L1203.0,332.1 L1202.1,333.7 L1203.8,335.4 L1204.2,337.2 L1202.9,338.8 L1202.4,340.4 L1201.8,342.0 L1202.5,343.8 L1202.5,345.5 L1202.0,347.1 L1202.2,348.9 L1200.3,350.1 L1199.6,351.7 L1200.7,353.7 L1199.9,355.2 L1198.2,355.4 L1196.9,357.2 L1195.0,356.8 L1192.9,356.0 L1191.5,357.0 L1189.8,356.6 L1188.7,354.8 L1187.0,354.5 L1185.4,353.8 L1183.9,354.6 L1182.8,356.1 L1180.7,356.0 L1179.2,356.3 L1178.0,358.7 L1176.1,358.4 L1174.5,356.9 L1172.6,358.2 L1170.9,358.5 L1169.2,357.2 L1167.5,357.5 L1165.8,357.1 L1164.0,357.0 L1162.4,358.5 L1160.6,357.3 L1158.8,356.6 L1157.3,359.0 L1155.5,358.8 L1153.6,357.2 L1152.1,358.9 L1150.5,359.7 L1148.7,359.2 L1147.0,359.7 L1147.5,358.1 L1146.8,356.2 L1147.0,354.5 L1148.6,353.0 L1149.1,351.4 L1149.3,349.7 L1149.0,347.9 L1148.3,346.1 L1149.0,344.4 L1149.6,342.8 L1150.2,341.1 L1150.9,339.5 L1149.5,337.7 L1148.3,336.3 L1149.1,334.3 L1148.6,332.7 L1148.5,330.9 L1148.9,329.1 L1146.8,328.2 L1145.0,327.7 L1144.4,325.7 L1143.2,324.5 L1142.0,323.2 L1140.9,321.9 L1140.6,321.0 L1141.4,319.5 L1142.9,318.5 L1144.4,317.6 L1146.3,317.0 L1147.0,315.3 L1147.5,313.4 L1149.1,312.6 L1150.2,311.2 L1151.9,310.6 L1154.2,310.7 L1154.8,308.7 L1155.9,307.0 L1157.7,307.2 L1159.4,306.7 L1159.9,305.1 L1159.9,303.4 L1161.1,302.2 L1162.9,301.2 L1162.9,299.5 L1163.9,298.2 L1163.5,296.2 L1164.3,294.8 L1165.5,293.6Z" fill="#b3d7bf" stroke="#b3d7bf" stroke-width="0.6"/>
<path d="M1081.0,75.7 L1081.5,73.9 L1083.2,73.1 L1084.2,71.7 L1085.7,70.7 L1085.1,68.2 L1086.0,66.8 L1088.5,66.3 L1088.9,64.6 L1089.6,63.0 L1088.9,60.7 L1090.4,59.6 L1092.9,59.0 L1093.2,57.7 L1094.6,56.7 L1095.8,55.3 L1097.9,55.8 L1100.0,56.4 L1100.8,53.9 L1102.3,53.2 L1103.7,52.3 L1105.8,52.5 L1107.6,52.3 L1108.6,49.8 L1110.3,50.4 L1112.0,50.4 L1113.7,51.2 L1115.4,51.6 L1117.1,49.7 L1118.6,51.5 L1120.0,52.5 L1120.9,54.1 L1122.1,55.3 L1124.7,54.9 L1125.2,56.9 L1126.2,58.3 L1126.9,59.9 L1128.4,60.9 L1131.0,60.9 L1130.8,63.3 L1131.4,64.9 L1132.5,66.2 L1134.3,67.0 L1136.4,67.5 L1135.3,70.3 L1135.9,71.9 L1137.4,73.0 L1138.8,74.2 L1140.0,75.6 L1138.5,78.2 L1139.9,79.3 L1141.6,80.5 L1142.2,82.1 L1142.8,83.7 L1141.6,86.0 L1143.6,87.0 L1145.1,88.2 L1145.1,90.1 L1145.7,91.6 L1145.1,93.7 L1147.2,94.7 L1148.3,96.3 L1147.8,98.1 L1148.2,99.8 L1147.4,101.6 L1149.3,103.0 L1150.1,104.5 L1149.6,106.4 L1150.2,108.0 L1150.8,109.6 L1149.2,110.2 L1147.4,110.4 L1146.3,112.3 L1144.7,113.0 L1142.1,111.4 L1140.8,112.6 L1139.9,114.7 L1138.1,114.9 L1137.1,116.2 L1136.1,117.6 L1133.3,117.3 L1132.2,118.6 L1131.4,120.9 L1129.8,120.0 L1128.2,119.3 L1126.4,119.4 L1125.1,117.5 L1123.3,117.2 L1121.3,119.4 L1119.7,118.9 L1118.1,117.5 L1116.4,118.3 L1114.5,118.1 L1112.8,118.5 L1111.9,120.7 L1110.0,120.7 L1109.3,119.2 L1108.4,117.7 L1108.2,116.0 L1107.8,114.3 L1106.0,113.3 L1105.3,111.8 L1103.9,110.6 L1104.7,108.3 L1103.4,107.1 L1103.2,105.2 L1102.2,103.9 L1100.4,103.0 L1099.7,101.4 L1098.7,100.1 L1099.1,97.8 L1097.3,97.0 L1097.0,95.2 L1095.2,94.4 L1093.6,93.5 L1092.9,91.9 L1092.0,90.5 L1091.9,88.4 L1090.0,87.9 L1089.5,86.1 L1087.3,85.7 L1086.1,84.5 L1085.5,82.8 L1084.9,81.2 L1084.6,79.4 L1082.7,78.6 L1082.2,76.9 L1081.0,75.7Z" fill="#8cbd9d" stroke="#8cbd9d" stroke-width="0.6"/>
<path d="M1045.8,239.6 L1044.1,239.6 L1042.7,238.4 L1040.8,238.7 L1039.3,236.6 L1037.8,237.6 L1036.2,238.2 L1034.6,238.7 L1032.9,238.9 L1031.3,238.2 L1029.3,237.8 L1028.1,239.6 L1026.5,240.4 L1024.6,240.5 L1023.3,242.1 L1021.1,241.2 L1019.1,240.8 L1017.9,242.7 L1016.4,243.7 L1015.2,245.1 L1013.5,245.7 L1012.2,246.9 L1011.4,248.4 L1010.5,249.9 L1009.9,251.5 L1008.9,253.3 L1007.1,253.5 L1005.2,253.4 L1003.6,253.8 L1001.7,253.8 L1001.8,256.4 L1003.0,257.9 L1003.4,259.6 L1003.5,261.7 L1002.1,262.9 L1000.5,263.9 L999.9,265.6 L999.4,267.3 L999.6,269.1 L1000.0,271.0 L998.7,272.5 L997.6,274.0 L998.2,275.8 L998.1,277.6 L999.5,279.0 L1001.2,280.2 L1000.5,282.3 L1000.1,283.9 L999.4,285.5 L999.0,287.2 L1000.7,286.4 L1002.4,287.8 L1004.1,287.0 L1005.7,289.3 L1007.5,287.5 L1009.2,288.3 L1011.0,286.7 L1012.6,287.4 L1014.3,287.8 L1015.9,288.6 L1017.4,289.7 L1019.3,289.3 L1021.0,289.4 L1023.2,289.0 L1024.4,290.3 L1025.6,291.5 L1026.4,293.3 L1027.7,294.2 L1028.7,295.5 L1031.1,295.7 L1031.7,297.5 L1033.7,298.2 L1032.6,301.0 L1034.6,301.7 L1033.8,304.2 L1036.7,304.4 L1037.0,306.2 L1038.0,307.6 L1039.0,306.3 L1040.2,305.3 L1042.1,305.3 L1043.4,304.3 L1044.3,302.9 L1045.9,302.3 L1047.5,301.5 L1048.9,300.7 L1050.4,299.9 L1051.5,297.9 L1053.7,298.8 L1055.7,299.2 L1056.9,297.0 L1058.6,297.2 L1060.1,298.3 L1061.7,299.3 L1063.2,299.5 L1064.7,300.4 L1066.4,301.1 L1068.1,301.7 L1069.3,301.7 L1070.1,300.1 L1069.2,297.5 L1070.9,296.6 L1072.3,295.9 L1074.0,295.7 L1075.7,295.4 L1077.4,294.8 L1079.2,295.2 L1080.5,296.4 L1082.0,297.2 L1082.4,295.3 L1082.3,293.2 L1083.6,291.5 L1081.7,291.1 L1081.2,289.1 L1080.1,287.7 L1078.8,286.6 L1078.1,284.9 L1075.8,284.7 L1074.1,284.0 L1073.9,281.8 L1073.0,280.2 L1071.3,279.6 L1069.5,279.1 L1068.0,278.3 L1066.5,277.4 L1065.5,275.9 L1064.7,273.9 L1062.5,274.2 L1060.1,274.2 L1059.9,272.0 L1058.8,270.7 L1057.6,269.5 L1057.5,267.7 L1055.1,267.0 L1053.3,266.0 L1054.5,263.5 L1053.9,261.9 L1052.6,260.6 L1052.1,258.9 L1050.2,258.0 L1049.2,256.5 L1050.1,254.3 L1050.0,252.5 L1048.4,251.2 L1047.0,249.9 L1046.8,248.2 L1046.6,246.4 L1046.9,244.6 L1047.5,242.8 L1045.8,241.3 L1045.8,239.6Z" fill="#3f8a57" stroke="#3f8a57" stroke-width="0.6"/>
<path d="M1099.4,270.2 L1100.8,271.3 L1101.6,272.8 L1101.9,274.9 L1104.1,275.1 L1105.6,276.1 L1106.3,277.8 L1107.5,279.0 L1108.3,280.6 L1110.0,281.3 L1112.0,281.3 L1113.0,282.9 L1114.2,284.3 L1115.7,285.1 L1117.1,286.0 L1119.0,286.3 L1120.1,287.8 L1120.8,289.6 L1122.8,289.8 L1124.5,290.0 L1126.3,290.1 L1127.9,290.4 L1129.0,292.3 L1130.7,292.7 L1132.8,292.4 L1134.0,293.8 L1135.6,294.6 L1136.6,296.0 L1137.2,297.8 L1139.6,297.8 L1140.9,298.9 L1141.7,300.8 L1143.6,300.4 L1145.2,300.9 L1146.9,301.4 L1149.0,300.8 L1149.9,302.8 L1151.0,304.5 L1153.4,303.5 L1154.7,304.7 L1156.2,305.5 L1157.9,305.7 L1159.4,306.7 L1157.7,307.2 L1155.9,307.0 L1154.8,308.7 L1154.2,310.7 L1151.9,310.6 L1150.2,311.2 L1149.1,312.6 L1147.5,313.4 L1147.0,315.3 L1146.3,317.0 L1144.4,317.6 L1142.9,318.5 L1141.4,319.5 L1140.6,321.0 L1140.9,321.9 L1142.0,323.2 L1143.2,324.5 L1144.4,325.7 L1145.0,327.7 L1146.8,328.2 L1148.9,329.1 L1148.5,330.9 L1148.6,332.7 L1149.1,334.3 L1148.3,336.3 L1149.5,337.7 L1150.9,339.5 L1150.2,341.1 L1149.6,342.8 L1149.0,344.4 L1148.3,346.1 L1149.0,347.9 L1149.3,349.7 L1149.1,351.4 L1148.6,353.0 L1147.0,354.5 L1146.8,356.2 L1147.5,358.1 L1147.0,359.7 L1145.4,359.0 L1143.7,358.7 L1142.2,357.9 L1140.2,358.5 L1138.4,358.7 L1137.1,356.6 L1135.3,356.1 L1133.6,357.5 L1131.9,357.3 L1130.2,357.3 L1128.4,357.8 L1126.9,356.5 L1125.3,355.4 L1123.5,356.1 L1121.7,356.4 L1120.0,356.2 L1118.3,356.2 L1116.6,355.0 L1114.9,354.9 L1113.2,355.9 L1111.5,355.7 L1111.4,354.0 L1111.9,352.1 L1110.2,350.8 L1109.5,349.2 L1109.9,347.3 L1110.8,345.7 L1111.7,344.1 L1110.7,342.3 L1108.9,341.8 L1109.3,339.4 L1108.9,337.5 L1106.7,337.1 L1105.2,336.0 L1105.0,334.1 L1105.2,332.3 L1105.5,330.5 L1104.1,329.0 L1102.9,328.6 L1102.2,326.5 L1101.1,325.0 L1099.2,324.9 L1097.6,324.4 L1095.9,324.0 L1094.3,323.4 L1094.2,321.5 L1093.0,320.2 L1090.9,319.4 L1090.7,317.6 L1090.8,315.6 L1090.0,314.1 L1089.0,312.7 L1087.3,311.7 L1086.6,310.1 L1087.7,307.8 L1086.8,306.3 L1084.4,305.4 L1084.3,303.6 L1084.7,301.6 L1084.0,300.0 L1082.9,298.7 L1082.0,297.2 L1082.4,295.3 L1082.3,293.2 L1083.6,291.5 L1085.2,290.7 L1086.1,289.0 L1087.1,287.4 L1089.7,287.9 L1091.1,286.9 L1091.8,284.9 L1093.3,284.0 L1094.7,283.0 L1096.6,282.1 L1096.9,280.4 L1095.8,278.3 L1097.1,276.8 L1098.2,275.3 L1098.6,273.6 L1099.0,271.9 L1099.4,270.2Z" fill="#62a379" stroke="#62a379" stroke-width="0.6"/>
<path d="M951.6,133.6 L952.9,132.3 L955.5,133.6 L956.3,131.5 L957.5,129.9 L959.4,129.8 L960.8,128.8 L962.6,128.5 L961.5,129.8 L959.6,130.5 L959.6,132.7 L958.5,133.9 L958.7,135.8 L958.8,137.6 L957.1,138.9 L956.2,140.4 L956.3,142.4 L956.9,144.0 L957.8,145.5 L959.1,147.0 L958.7,148.4 L959.7,150.0 L961.4,150.6 L961.7,152.2 L963.9,152.8 L965.4,153.8 L965.6,155.8 L966.6,157.1 L966.2,158.7 L965.7,160.3 L966.4,162.1 L967.0,163.9 L966.6,165.6 L967.2,166.8 L967.7,168.5 L967.5,170.6 L969.6,171.2 L970.9,172.4 L971.8,173.9 L973.2,175.1 L972.4,177.4 L972.8,179.1 L973.9,180.4 L975.0,181.8 L976.0,183.2 L974.7,184.4 L974.4,186.3 L973.7,188.0 L971.3,188.0 L969.7,188.7 L968.5,190.1 L966.7,190.3 L965.4,191.6 L965.4,193.3 L963.9,194.5 L962.4,195.8 L962.3,197.6 L961.1,199.0 L960.4,200.6 L961.3,202.7 L960.8,204.4 L959.4,205.8 L960.0,207.4 L960.0,209.2 L960.0,210.9 L961.0,212.5 L959.3,212.4 L957.5,212.6 L956.0,211.3 L954.3,211.0 L952.8,209.6 L950.9,210.8 L949.2,211.0 L947.6,211.7 L945.8,211.1 L944.1,211.2 L942.3,210.7 L940.6,210.4 L939.0,211.0 L937.4,210.4 L935.6,210.0 L934.9,208.0 L933.2,207.5 L932.4,205.4 L930.4,205.3 L928.6,205.2 L926.7,206.0 L925.1,205.3 L923.6,204.3 L921.9,204.4 L920.0,204.1 L918.5,204.9 L916.8,205.5 L915.5,207.4 L913.6,206.7 L911.9,206.9 L910.1,206.1 L908.4,206.6 L906.7,206.4 L905.0,207.4 L903.3,208.2 L901.4,207.5 L900.0,206.5 L898.7,205.0 L896.9,204.9 L895.6,203.6 L893.5,204.6 L891.8,204.1 L890.1,203.9 L888.7,202.4 L887.0,202.2 L887.7,200.6 L888.8,199.2 L888.9,197.5 L888.8,195.6 L888.6,194.3 L889.5,192.2 L887.9,191.0 L886.7,189.6 L886.6,187.8 L887.3,185.8 L885.6,184.5 L885.1,182.9 L884.0,181.5 L885.6,179.9 L885.6,178.1 L885.6,176.3 L884.6,175.0 L886.3,172.7 L884.9,171.4 L884.5,169.7 L884.4,167.9 L886.3,166.7 L886.1,164.9 L886.5,163.2 L888.2,163.2 L889.8,164.3 L891.5,165.0 L893.4,163.5 L895.5,163.4 L896.4,165.4 L897.8,166.5 L899.2,167.3 L900.8,168.1 L903.1,167.4 L904.5,168.5 L904.9,171.3 L906.7,171.5 L908.8,171.2 L909.9,171.7 L910.9,170.1 L912.6,169.5 L915.1,170.0 L915.6,168.4 L917.6,167.2 L918.9,169.2 L920.6,168.7 L921.9,167.6 L923.8,167.2 L923.9,164.6 L924.8,163.0 L928.1,163.4 L928.5,161.8 L927.7,159.7 L928.7,158.2 L928.5,156.3 L929.6,154.7 L932.4,155.1 L932.9,153.1 L932.8,150.5 L934.7,150.1 L936.2,149.2 L937.4,147.9 L939.2,147.2 L939.2,145.0 L939.4,142.9 L941.9,142.9 L943.8,142.8 L944.9,141.2 L946.2,140.1 L947.0,138.8 L948.2,137.5 L950.3,136.9 L951.1,135.3 L951.6,133.6Z" fill="#62a379" stroke="#62a379" stroke-width="0.6"/>
<path d="M1156.0,416.7 L1154.3,416.4 L1152.8,415.2 L1150.8,416.5 L1149.2,415.9 L1147.6,415.3 L1145.9,414.7 L1144.2,414.6 L1142.4,415.4 L1140.8,414.0 L1139.1,414.1 L1137.4,413.8 L1135.7,414.6 L1133.9,414.5 L1132.2,413.7 L1130.5,414.3 L1128.8,414.3 L1127.4,415.6 L1125.5,415.2 L1123.9,415.8 L1122.3,416.6 L1120.7,417.0 L1119.1,417.9 L1117.2,417.3 L1115.7,418.4 L1114.0,418.6 L1112.5,419.4 L1110.7,419.6 L1108.9,419.5 L1107.6,421.0 L1105.9,421.2 L1104.5,422.3 L1102.5,422.0 L1101.1,423.0 L1099.5,423.7 L1100.9,422.5 L1101.2,420.7 L1102.3,419.3 L1101.0,417.9 L1101.8,415.9 L1101.6,414.1 L1101.8,412.1 L1099.4,411.3 L1099.2,409.4 L1097.2,408.5 L1098.7,405.8 L1097.3,404.5 L1096.7,402.9 L1094.7,402.0 L1094.4,400.2 L1095.1,398.6 L1094.7,396.9 L1094.4,395.1 L1096.0,393.7 L1097.6,393.0 L1098.7,391.7 L1100.4,391.1 L1101.6,390.3 L1102.4,388.2 L1103.8,387.3 L1104.3,387.3 L1102.6,387.0 L1101.1,386.4 L1101.6,385.5 L1101.1,383.7 L1099.6,381.9 L1100.6,380.3 L1101.0,378.7 L1102.7,378.9 L1104.4,378.8 L1106.1,377.4 L1107.7,378.5 L1109.4,378.9 L1110.8,379.8 L1111.1,382.3 L1113.1,382.4 L1113.9,381.2 L1115.3,380.0 L1114.7,377.8 L1116.4,376.8 L1117.6,377.8 L1119.5,377.6 L1120.7,379.0 L1122.5,379.2 L1124.3,378.8 L1125.7,380.1 L1127.4,380.4 L1129.0,381.1 L1130.6,382.1 L1132.4,381.3 L1134.1,381.3 L1135.8,381.2 L1137.5,381.2 L1139.0,382.6 L1140.7,382.5 L1142.4,382.9 L1144.1,383.2 L1145.9,382.0 L1147.5,383.0 L1149.2,383.1 L1150.8,382.5 L1152.6,383.9 L1154.2,382.8 L1155.8,381.6 L1157.6,382.5 L1159.3,381.3 L1160.9,382.0 L1162.6,383.4 L1164.3,382.1 L1166.2,382.4 L1167.3,381.1 L1167.5,378.9 L1169.6,378.7 L1170.1,379.4 L1171.2,380.7 L1171.2,382.6 L1173.1,383.5 L1174.6,384.4 L1175.5,385.9 L1176.8,386.9 L1177.5,388.8 L1179.0,389.6 L1180.7,390.0 L1182.2,390.8 L1184.1,390.7 L1185.4,392.0 L1186.3,393.7 L1188.0,394.2 L1188.8,396.0 L1190.9,395.7 L1192.2,394.0 L1194.2,394.7 L1195.6,393.7 L1197.3,393.5 L1199.0,393.2 L1197.3,393.8 L1196.6,395.7 L1196.0,397.5 L1193.9,397.8 L1192.7,399.0 L1191.0,399.5 L1189.5,400.3 L1189.1,402.8 L1187.5,403.4 L1185.3,403.1 L1184.1,404.4 L1182.4,404.9 L1181.2,406.2 L1180.2,408.1 L1178.0,407.4 L1176.1,407.5 L1175.1,409.3 L1173.4,409.7 L1172.1,411.1 L1170.6,411.9 L1168.3,410.7 L1166.9,411.8 L1165.8,413.5 L1164.0,413.8 L1162.6,414.8 L1160.7,414.7 L1158.7,414.2 L1157.6,416.2 L1156.0,416.7Z" fill="#d9f2e3" stroke="#d9f2e3" stroke-width="0.6"/>
<path d="M843.5,374.7 L842.8,373.1 L842.4,371.4 L839.8,371.2 L839.1,369.6 L838.3,368.0 L836.6,367.6 L835.1,366.3 L833.1,368.1 L831.4,367.9 L829.7,367.8 L828.1,367.2 L826.9,365.0 L824.9,365.7 L823.3,365.1 L821.3,365.7 L819.7,365.2 L819.3,362.9 L817.9,361.7 L817.7,359.8 L815.4,359.3 L814.0,358.2 L813.4,357.0 L811.7,356.8 L810.5,354.6 L808.5,355.4 L806.7,355.6 L805.0,355.4 L803.3,353.8 L804.6,351.3 L803.4,350.0 L803.3,349.6 L804.6,348.3 L805.9,346.6 L808.0,347.7 L809.5,346.8 L811.6,346.7 L812.5,345.1 L812.9,342.8 L814.1,342.7 L812.6,341.8 L813.0,339.2 L811.8,338.0 L810.0,337.3 L808.5,336.5 L806.3,337.1 L805.6,334.7 L804.5,334.4 L805.6,333.0 L806.4,331.6 L805.6,329.0 L807.4,328.2 L808.2,326.6 L810.0,325.6 L811.0,324.1 L809.8,321.9 L810.8,320.4 L810.8,318.6 L812.0,317.2 L812.0,315.5 L813.6,313.9 L812.1,312.0 L812.6,310.4 L812.8,308.7 L812.9,307.0 L813.4,305.2 L811.6,303.7 L812.0,301.9 L812.3,300.2 L811.8,298.5 L812.2,296.7 L810.6,295.1 L811.7,293.3 L813.1,292.1 L811.5,289.8 L812.9,288.4 L814.4,287.7 L815.9,287.0 L817.7,286.8 L818.7,284.6 L820.6,284.9 L822.1,284.9 L823.9,284.3 L825.6,284.8 L827.4,284.2 L828.9,285.9 L830.5,286.3 L832.8,284.6 L833.8,286.7 L835.4,287.4 L837.2,287.6 L838.6,288.7 L840.7,288.0 L842.0,289.0 L843.7,288.5 L844.5,286.5 L846.3,286.1 L847.6,284.9 L849.5,284.8 L850.7,283.5 L851.2,281.2 L853.8,281.9 L855.0,280.6 L856.5,280.2 L858.0,281.1 L859.9,280.4 L861.3,282.3 L863.0,282.5 L864.3,280.5 L866.3,280.9 L867.9,280.2 L869.5,279.6 L871.0,278.7 L872.1,280.1 L872.3,282.2 L874.5,282.5 L875.9,283.5 L877.3,284.5 L878.9,285.8 L878.0,288.2 L879.1,289.5 L879.2,291.4 L881.1,292.4 L882.3,293.7 L883.1,295.6 L881.9,297.3 L882.0,299.0 L880.6,300.7 L881.7,302.4 L882.4,304.2 L882.5,305.8 L883.4,307.5 L881.7,309.3 L882.1,311.0 L882.5,312.7 L881.5,314.0 L880.0,314.8 L878.1,315.3 L877.7,317.2 L877.2,318.9 L876.0,320.1 L875.7,321.9 L873.8,322.6 L872.3,324.7 L874.5,325.7 L875.2,326.9 L876.4,328.2 L878.1,328.6 L879.0,330.2 L877.3,330.9 L876.3,332.4 L876.1,334.7 L874.3,335.1 L872.7,336.2 L872.2,337.9 L871.8,339.6 L872.1,341.7 L870.9,342.9 L868.9,344.1 L869.5,346.1 L869.6,347.9 L869.2,349.6 L868.7,351.2 L866.9,352.4 L866.7,354.2 L867.3,356.2 L866.3,357.7 L865.2,359.0 L863.4,358.6 L861.6,358.1 L859.9,359.1 L858.2,358.6 L857.1,357.0 L855.7,356.0 L854.6,354.5 L852.6,354.6 L853.7,354.7 L852.8,356.8 L851.6,357.9 L851.1,359.6 L850.7,361.3 L851.0,363.1 L849.5,364.5 L847.7,365.8 L848.5,367.8 L848.2,369.6 L847.0,370.9 L845.8,372.1 L844.1,373.0 L843.5,374.7Z" fill="#226d3b" stroke="#226d3b" stroke-width="0.6"/>
<path d="M1252.9,362.7 L1252.5,364.4 L1251.4,365.8 L1250.8,367.4 L1250.3,369.0 L1251.1,371.1 L1250.3,372.6 L1250.1,374.4 L1249.2,375.9 L1247.1,376.9 L1247.3,378.8 L1246.2,380.1 L1246.0,381.9 L1246.5,384.1 L1244.8,385.1 L1244.2,386.7 L1242.6,387.9 L1241.4,389.1 L1241.1,390.9 L1240.5,392.5 L1240.6,394.5 L1239.3,395.8 L1238.3,397.1 L1236.9,398.3 L1235.0,399.1 L1235.3,401.3 L1235.6,403.0 L1236.5,404.5 L1237.7,406.0 L1236.4,408.0 L1236.9,409.7 L1236.7,411.5 L1237.0,413.1 L1238.3,414.7 L1238.1,416.4 L1238.2,418.2 L1236.9,419.7 L1236.3,421.3 L1235.9,423.0 L1235.2,424.7 L1236.8,426.5 L1236.5,428.2 L1236.4,429.9 L1236.5,431.6 L1234.5,433.2 L1234.9,434.9 L1234.8,436.6 L1234.9,438.3 L1235.9,440.2 L1235.1,441.8 L1234.7,443.5 L1233.4,445.0 L1233.6,445.9 L1232.0,446.7 L1230.3,447.0 L1228.9,448.9 L1227.1,448.6 L1225.3,448.1 L1223.7,447.8 L1222.3,445.9 L1220.4,446.8 L1218.6,446.9 L1216.9,446.5 L1215.0,446.8 L1213.8,445.2 L1212.2,444.4 L1210.9,443.3 L1209.3,442.8 L1207.3,442.9 L1205.8,442.1 L1203.8,442.2 L1202.9,440.4 L1201.6,439.1 L1199.9,438.7 L1198.7,437.1 L1196.4,437.5 L1195.8,435.8 L1196.0,434.1 L1195.4,432.6 L1196.3,430.5 L1195.9,428.9 L1195.3,427.3 L1193.3,426.7 L1191.4,427.0 L1190.3,426.0 L1189.2,427.3 L1187.0,427.3 L1185.5,428.1 L1184.6,429.3 L1182.9,428.8 L1181.2,430.5 L1179.4,428.6 L1179.3,426.6 L1178.2,425.3 L1177.0,423.6 L1175.2,424.0 L1173.5,424.6 L1171.7,424.9 L1170.0,425.2 L1168.4,423.9 L1166.7,423.5 L1165.2,422.2 L1163.5,422.1 L1161.6,423.1 L1160.0,422.3 L1158.0,421.6 L1157.7,419.7 L1157.4,417.8 L1156.0,416.7 L1157.6,416.2 L1158.7,414.2 L1160.7,414.7 L1162.6,414.8 L1164.0,413.8 L1165.8,413.5 L1166.9,411.8 L1168.3,410.7 L1170.6,411.9 L1172.1,411.1 L1173.4,409.7 L1175.1,409.3 L1176.1,407.5 L1178.0,407.4 L1180.2,408.1 L1181.2,406.2 L1182.4,404.9 L1184.1,404.4 L1185.3,403.1 L1187.5,403.4 L1189.1,402.8 L1189.5,400.3 L1191.0,399.5 L1192.7,399.0 L1193.9,397.8 L1196.0,397.5 L1196.6,395.7 L1197.3,393.8 L1199.0,393.2 L1199.8,391.7 L1200.9,390.4 L1200.9,388.6 L1200.9,386.6 L1202.4,385.5 L1203.4,384.0 L1202.6,382.5 L1202.9,380.7 L1202.1,379.1 L1200.0,378.0 L1199.8,376.5 L1199.9,374.5 L1198.6,373.3 L1198.4,371.5 L1198.8,370.3 L1197.4,368.4 L1197.1,366.7 L1198.6,365.2 L1198.6,363.5 L1198.8,361.8 L1200.2,360.3 L1199.6,358.6 L1199.1,356.8 L1199.9,355.2 L1201.7,355.0 L1203.4,355.2 L1205.1,356.0 L1206.0,357.7 L1207.2,359.0 L1208.6,360.0 L1210.4,360.4 L1212.5,360.2 L1213.7,361.6 L1214.9,362.7 L1216.3,363.7 L1216.8,366.2 L1218.5,366.6 L1220.7,366.5 L1221.7,367.9 L1222.8,367.2 L1224.5,366.8 L1226.7,368.1 L1228.2,367.3 L1229.7,366.7 L1231.4,366.3 L1232.9,364.9 L1234.6,364.5 L1236.3,364.9 L1238.1,365.6 L1239.8,366.1 L1241.5,365.5 L1243.2,365.5 L1244.9,364.4 L1246.6,363.6 L1248.3,364.8 L1249.9,364.3 L1251.4,363.6 L1252.9,362.7Z" fill="#d9f2e3" stroke="#d9f2e3" stroke-width="0.6"/>
<path d="M1102.5,247.7 L1101.3,249.0 L1101.3,250.9 L1101.2,252.7 L1099.3,253.6 L1099.7,255.4 L1098.9,257.0 L1097.1,258.4 L1098.1,260.3 L1098.4,261.9 L1098.6,263.5 L1099.0,265.2 L1099.9,266.8 L1099.0,268.6 L1099.4,270.2 L1099.0,271.9 L1098.6,273.6 L1098.2,275.3 L1097.1,276.8 L1095.8,278.3 L1096.9,280.4 L1096.6,282.1 L1094.7,283.0 L1093.3,284.0 L1091.8,284.9 L1091.1,286.9 L1089.7,287.9 L1087.1,287.4 L1086.1,289.0 L1085.2,290.7 L1083.6,291.5 L1081.7,291.1 L1081.2,289.1 L1080.1,287.7 L1078.8,286.6 L1078.1,284.9 L1075.8,284.7 L1074.1,284.0 L1073.9,281.8 L1073.0,280.2 L1071.3,279.6 L1069.5,279.1 L1068.0,278.3 L1066.5,277.4 L1065.5,275.9 L1064.7,273.9 L1062.5,274.2 L1060.1,274.2 L1059.9,272.0 L1058.8,270.7 L1057.6,269.5 L1057.5,267.7 L1055.1,267.0 L1053.3,266.0 L1054.5,263.5 L1053.9,261.9 L1052.6,260.6 L1052.1,258.9 L1050.2,258.0 L1049.2,256.5 L1050.1,254.3 L1050.0,252.5 L1048.4,251.2 L1047.0,249.9 L1046.8,248.2 L1046.6,246.4 L1046.9,244.6 L1047.5,242.8 L1045.8,241.3 L1045.8,239.6 L1045.9,237.8 L1046.9,236.4 L1047.7,234.9 L1048.9,233.9 L1050.5,233.2 L1051.3,231.6 L1052.2,229.9 L1053.9,229.4 L1055.5,228.8 L1057.1,228.3 L1059.0,228.3 L1059.6,228.2 L1061.3,229.0 L1062.3,230.3 L1063.4,231.5 L1064.2,233.1 L1064.1,235.1 L1065.1,236.5 L1066.6,237.6 L1067.3,239.1 L1068.7,239.1 L1070.4,239.4 L1071.9,240.9 L1073.6,240.9 L1075.3,240.5 L1077.0,240.1 L1078.0,238.4 L1079.5,237.6 L1081.6,238.2 L1082.8,236.8 L1084.2,235.8 L1085.7,235.0 L1085.8,232.6 L1087.0,231.5 L1088.8,230.9 L1089.2,229.1 L1091.0,228.3 L1092.0,226.9 L1092.4,225.2 L1092.7,226.8 L1093.3,228.4 L1095.2,229.6 L1093.6,231.8 L1094.6,233.2 L1094.8,234.9 L1096.4,236.1 L1097.3,237.5 L1096.9,239.4 L1097.5,241.0 L1097.9,242.8 L1100.6,243.0 L1100.8,244.9 L1101.7,246.3 L1102.5,247.7Z" fill="#226d3b" stroke="#226d3b" stroke-width="0.6"/>
<path d="M1038.0,307.6 L1037.7,309.3 L1037.9,311.2 L1036.2,312.4 L1034.9,313.8 L1035.4,315.9 L1034.2,317.1 L1032.8,318.2 L1032.2,319.8 L1029.9,320.4 L1029.8,322.4 L1030.3,324.7 L1028.1,325.4 L1027.5,327.1 L1028.0,328.8 L1028.6,330.5 L1029.2,332.1 L1029.0,333.9 L1028.8,335.6 L1027.8,337.1 L1028.9,339.1 L1029.6,340.9 L1027.2,342.3 L1027.3,344.0 L1027.7,345.8 L1027.5,347.5 L1029.0,349.0 L1028.4,350.9 L1027.3,352.7 L1028.8,354.3 L1029.8,355.8 L1029.8,357.6 L1029.2,359.4 L1029.7,361.1 L1030.5,362.7 L1030.8,364.4 L1032.1,365.8 L1031.2,367.8 L1030.8,369.7 L1033.5,370.7 L1033.6,372.5 L1033.3,374.3 L1034.1,375.9 L1033.5,377.7 L1034.6,379.3 L1035.3,380.9 L1035.0,382.7 L1036.6,383.1 L1038.2,384.2 L1040.1,382.3 L1041.8,383.0 L1043.0,384.6 L1044.7,384.9 L1046.3,385.2 L1047.3,383.8 L1049.0,383.2 L1050.2,382.9 L1051.8,382.3 L1053.2,380.8 L1054.9,380.9 L1056.6,381.2 L1058.3,381.7 L1059.9,381.1 L1061.4,379.9 L1063.2,380.1 L1064.8,380.6 L1066.3,381.9 L1068.0,381.5 L1069.8,381.0 L1071.4,381.1 L1073.0,381.7 L1073.7,380.1 L1074.0,378.4 L1074.1,376.6 L1076.1,375.5 L1075.3,373.6 L1077.1,372.1 L1076.7,370.3 L1077.3,368.6 L1075.1,367.3 L1075.2,365.4 L1075.2,363.6 L1074.6,362.0 L1072.9,361.5 L1072.1,359.7 L1071.0,358.4 L1069.2,357.9 L1068.1,356.5 L1066.4,356.0 L1064.9,354.7 L1065.7,352.5 L1064.8,351.0 L1062.5,350.3 L1062.2,348.5 L1062.2,346.6 L1061.1,345.3 L1060.9,343.5 L1059.8,342.1 L1057.8,341.0 L1058.6,339.0 L1059.1,337.0 L1057.2,335.9 L1056.4,334.3 L1056.5,332.5 L1055.6,331.1 L1055.3,329.3 L1054.8,327.6 L1052.4,327.1 L1051.7,325.6 L1052.5,323.3 L1051.2,322.0 L1049.8,320.7 L1049.5,319.0 L1048.3,317.7 L1048.1,315.9 L1048.7,313.9 L1046.9,312.7 L1045.3,311.5 L1046.3,309.4 L1046.1,307.7 L1045.1,306.2 L1044.9,304.5 L1044.3,302.9 L1043.4,304.3 L1042.1,305.3 L1040.2,305.3 L1039.0,306.3 L1038.0,307.6Z" fill="#62a379" stroke="#62a379" stroke-width="0.6"/>
<path d="M966.5,456.2 L964.8,455.8 L963.4,454.8 L962.4,452.6 L960.3,453.3 L958.5,453.3 L956.7,453.4 L955.1,452.7 L954.0,450.7 L952.2,450.7 L950.8,449.4 L949.2,449.0 L947.2,449.7 L945.6,449.1 L943.7,449.1 L942.7,446.9 L941.3,445.6 L939.3,446.2 L937.7,445.7 L935.8,446.3 L934.3,445.4 L932.7,444.6 L931.1,444.3 L929.7,442.3 L927.9,442.8 L926.1,443.2 L924.3,443.6 L922.5,443.6 L921.1,441.5 L919.4,441.7 L917.7,441.7 L916.0,441.6 L914.3,442.8 L912.6,442.6 L911.1,443.5 L909.2,442.8 L907.2,441.6 L905.8,443.0 L904.2,443.6 L902.7,445.1 L900.8,444.8 L899.2,443.6 L897.4,443.9 L895.9,442.3 L894.5,442.4 L892.6,442.2 L890.9,441.7 L889.0,441.6 L888.6,439.0 L889.2,438.2 L889.2,436.4 L889.7,434.8 L889.0,432.6 L890.3,431.4 L890.9,429.8 L892.1,428.5 L894.6,428.1 L894.9,426.3 L895.6,424.8 L895.8,422.7 L896.8,421.3 L899.1,421.1 L899.9,419.5 L901.0,418.2 L901.5,416.6 L902.1,415.0 L902.5,413.3 L904.3,412.2 L904.6,410.5 L903.3,408.2 L904.2,406.7 L905.8,405.5 L905.7,403.7 L906.7,402.2 L908.6,401.2 L908.1,399.1 L907.4,397.0 L908.9,395.8 L909.8,394.3 L909.7,392.5 L911.2,391.2 L912.2,389.7 L911.4,387.7 L911.7,385.9 L913.0,384.7 L913.6,383.1 L915.5,382.5 L917.4,382.7 L918.7,381.4 L919.7,379.9 L920.9,378.7 L921.8,377.3 L923.2,376.2 L924.6,375.2 L926.2,375.4 L927.6,376.6 L929.1,377.2 L931.0,376.4 L932.3,376.3 L934.1,376.9 L935.8,376.8 L937.3,376.0 L938.8,375.5 L940.4,374.8 L942.0,374.7 L943.1,376.1 L944.9,376.5 L946.0,377.8 L948.3,377.7 L949.2,379.3 L950.4,380.4 L951.3,382.1 L953.0,382.7 L954.1,384.1 L953.4,386.2 L954.4,387.6 L955.9,388.8 L956.1,390.6 L957.1,391.9 L957.3,393.9 L959.3,394.5 L960.8,395.5 L960.7,397.7 L962.0,398.9 L962.8,400.3 L964.6,401.1 L965.3,402.7 L965.1,404.9 L967.3,405.5 L968.0,407.0 L968.7,408.6 L968.9,410.4 L969.3,412.1 L971.7,412.8 L971.6,414.7 L971.4,416.3 L971.5,418.0 L971.6,419.7 L972.5,421.5 L970.6,423.0 L970.5,424.7 L971.6,426.4 L971.5,428.1 L971.7,429.8 L970.6,431.6 L971.8,433.2 L973.0,434.8 L971.4,436.5 L971.0,438.1 L970.5,439.7 L971.3,441.7 L970.7,443.3 L968.6,444.5 L969.3,446.4 L969.2,448.2 L968.9,449.8 L967.6,451.2 L966.3,452.6 L967.5,454.7 L966.5,456.2Z" fill="#8cbd9d" stroke="#8cbd9d" stroke-width="0.6"/>
<path d="M882.5,312.7 L881.5,314.0 L880.0,314.8 L878.1,315.3 L877.7,317.2 L877.2,318.9 L876.0,320.1 L875.7,321.9 L873.8,322.6 L872.3,324.7 L874.5,325.7 L875.2,326.9 L876.4,328.2 L878.1,328.6 L879.0,330.2 L880.4,331.1 L882.6,330.7 L883.6,332.5 L884.9,333.7 L886.3,334.5 L887.2,336.2 L889.1,336.5 L891.4,336.3 L891.7,338.7 L891.2,340.7 L892.6,342.0 L893.5,343.5 L893.9,345.2 L894.4,347.0 L893.0,348.5 L891.9,351.1 L894.1,351.6 L895.8,352.4 L896.3,354.2 L897.2,355.6 L897.9,357.3 L898.8,358.9 L901.0,359.1 L902.8,359.7 L903.0,361.9 L904.1,363.4 L905.7,364.0 L907.2,364.8 L909.2,365.0 L910.8,365.6 L911.5,367.7 L913.0,368.8 L915.0,368.4 L916.7,368.6 L918.3,369.2 L919.7,370.4 L920.2,372.5 L921.5,373.6 L923.6,373.8 L924.6,375.2 L926.2,375.4 L927.6,376.6 L929.1,377.2 L931.0,376.4 L932.3,376.3 L934.1,376.9 L935.8,376.8 L937.3,376.0 L938.8,375.5 L940.4,374.8 L942.0,374.7 L941.2,373.0 L941.6,371.3 L942.4,369.6 L942.3,367.9 L942.6,366.2 L941.1,364.5 L941.5,362.8 L942.4,361.0 L942.8,359.5 L943.4,357.9 L941.8,355.7 L943.0,354.3 L945.6,353.2 L944.2,351.1 L944.3,349.4 L944.7,347.7 L944.6,346.0 L946.5,344.5 L946.1,342.7 L945.3,340.9 L945.8,339.2 L946.5,337.6 L948.4,336.2 L947.1,334.2 L946.2,332.3 L948.6,331.1 L948.0,329.2 L948.0,327.5 L947.9,325.8 L946.0,324.3 L947.2,322.4 L948.0,320.6 L947.7,319.2 L947.6,317.4 L947.3,315.5 L949.7,314.4 L950.4,312.8 L947.9,312.4 L946.8,310.9 L945.0,310.7 L943.6,309.6 L942.8,307.4 L940.3,308.6 L938.6,308.2 L937.6,306.3 L936.0,305.7 L934.6,306.6 L933.5,308.2 L931.0,307.1 L930.1,308.9 L928.4,309.3 L927.8,311.7 L925.6,311.1 L923.9,311.2 L922.0,310.4 L920.6,311.8 L919.0,312.3 L917.4,313.4 L915.5,312.1 L913.9,312.6 L912.1,312.1 L910.8,314.3 L909.0,314.0 L907.4,314.6 L905.5,313.5 L903.8,313.8 L902.4,315.1 L900.7,315.5 L899.2,316.4 L897.2,314.6 L895.7,315.3 L894.2,314.3 L892.1,315.9 L890.7,314.6 L889.0,314.3 L887.7,312.6 L885.8,313.2 L884.1,313.1 L882.5,312.7Z" fill="#226d3b" stroke="#226d3b" stroke-width="0.6"/>
<path d="M1197.5,238.2 L1197.1,239.9 L1196.2,241.6 L1198.3,243.4 L1198.0,245.1 L1196.7,246.8 L1197.8,248.4 L1197.5,250.2 L1197.0,251.9 L1199.2,253.4 L1199.4,255.1 L1197.8,257.0 L1198.7,258.6 L1199.5,260.2 L1199.7,261.9 L1201.4,263.2 L1201.6,264.9 L1200.8,266.8 L1201.3,268.5 L1201.9,270.1 L1202.6,271.7 L1202.6,273.7 L1201.0,274.9 L1200.1,276.4 L1200.1,278.2 L1199.2,279.7 L1199.5,281.6 L1199.3,283.4 L1197.4,285.2 L1198.7,286.4 L1200.7,287.1 L1200.9,289.0 L1202.3,290.2 L1203.7,291.3 L1202.9,293.9 L1204.4,294.8 L1205.5,296.2 L1204.1,297.0 L1203.4,298.8 L1201.7,299.1 L1200.4,300.0 L1198.8,300.6 L1197.6,301.7 L1195.9,301.3 L1194.2,301.7 L1192.5,301.8 L1190.8,302.1 L1189.3,300.3 L1187.7,299.9 L1185.8,301.2 L1184.1,300.8 L1182.6,300.2 L1181.1,299.1 L1179.9,298.3 L1177.6,298.9 L1176.0,298.3 L1175.2,296.3 L1173.8,295.4 L1172.2,294.5 L1170.3,295.2 L1168.5,295.5 L1167.2,293.6 L1165.5,293.6 L1165.4,291.9 L1165.9,290.1 L1165.5,288.6 L1165.3,286.8 L1164.2,286.3 L1164.5,283.8 L1163.5,282.4 L1163.0,280.6 L1160.1,280.7 L1159.6,279.0 L1158.2,277.9 L1158.7,275.3 L1157.0,274.5 L1156.5,272.9 L1154.6,271.9 L1154.0,270.3 L1153.4,268.7 L1153.5,266.8 L1153.2,265.0 L1151.3,264.1 L1150.1,262.8 L1148.8,261.5 L1150.0,259.0 L1148.8,257.7 L1148.7,256.1 L1146.3,254.9 L1147.0,253.0 L1146.3,251.4 L1147.6,249.4 L1146.9,248.1 L1147.9,246.7 L1147.5,244.6 L1148.8,242.9 L1150.5,242.5 L1152.5,242.4 L1154.0,241.7 L1154.6,239.3 L1156.0,238.5 L1157.5,237.5 L1160.0,238.7 L1161.0,236.9 L1162.5,236.0 L1163.5,237.4 L1164.2,239.0 L1164.3,240.4 L1166.2,241.8 L1166.7,243.5 L1166.2,245.3 L1166.5,247.0 L1168.2,246.3 L1168.4,244.5 L1167.0,242.1 L1168.6,240.8 L1170.1,239.7 L1170.9,238.2 L1171.9,239.1 L1173.8,238.6 L1175.8,237.8 L1177.3,239.0 L1178.5,238.5 L1180.4,238.3 L1182.4,238.3 L1182.8,235.7 L1185.1,234.1 L1186.1,235.9 L1187.7,236.7 L1188.8,238.2 L1190.3,239.0 L1192.3,237.7 L1194.0,237.8 L1195.8,238.1 L1197.5,238.2Z" fill="#b3d7bf" stroke="#b3d7bf" stroke-width="0.6"/>
<path d="M1099.5,423.7 L1098.1,424.8 L1095.9,423.8 L1094.9,425.7 L1092.9,425.5 L1092.0,427.5 L1090.7,428.7 L1088.7,428.5 L1087.5,429.8 L1085.0,429.1 L1084.4,431.1 L1083.1,432.0 L1082.2,433.6 L1081.7,435.6 L1079.4,435.5 L1078.7,437.2 L1076.3,437.2 L1075.5,438.8 L1074.8,440.5 L1073.6,441.6 L1073.4,443.8 L1071.1,443.9 L1070.1,445.3 L1068.2,445.8 L1067.0,446.9 L1066.8,449.1 L1065.3,450.0 L1064.7,452.1 L1062.6,451.9 L1061.0,452.6 L1059.5,453.4 L1058.1,454.3 L1057.0,455.7 L1057.2,454.0 L1057.4,452.3 L1056.4,450.7 L1056.1,449.0 L1055.9,447.3 L1055.0,445.7 L1056.1,443.9 L1056.6,442.2 L1055.3,440.6 L1056.0,438.9 L1055.2,437.2 L1053.6,435.2 L1055.6,434.0 L1055.9,432.3 L1055.9,430.6 L1057.9,429.3 L1057.1,427.4 L1056.6,425.6 L1057.9,424.1 L1057.4,422.3 L1058.0,420.7 L1059.6,419.3 L1059.3,417.5 L1059.4,415.8 L1059.6,414.1 L1058.4,412.7 L1057.9,411.1 L1058.0,409.3 L1058.1,407.5 L1057.1,406.0 L1056.0,404.7 L1055.2,403.2 L1053.5,402.9 L1052.1,401.9 L1051.1,400.2 L1049.3,400.0 L1049.3,398.2 L1049.1,396.5 L1046.8,395.5 L1047.0,393.6 L1046.8,391.9 L1045.7,390.3 L1047.4,388.5 L1046.9,386.8 L1046.3,385.2 L1047.3,383.8 L1049.0,383.2 L1050.2,382.9 L1051.8,382.3 L1053.2,380.8 L1054.9,380.9 L1056.6,381.2 L1058.3,381.7 L1059.9,381.1 L1061.4,379.9 L1063.2,380.1 L1064.8,380.6 L1066.3,381.9 L1068.0,381.5 L1069.8,381.0 L1071.4,381.1 L1073.0,381.7 L1071.8,383.0 L1070.6,384.2 L1070.7,386.2 L1070.3,387.9 L1069.7,389.5 L1069.3,390.7 L1068.6,392.5 L1068.4,394.3 L1069.7,395.9 L1071.1,396.9 L1072.8,397.6 L1074.2,398.4 L1075.0,400.2 L1075.9,401.6 L1077.2,402.8 L1078.4,404.1 L1080.3,404.3 L1082.2,404.5 L1083.4,405.8 L1084.7,406.8 L1086.0,407.9 L1088.1,408.3 L1089.1,406.9 L1089.7,405.0 L1091.0,403.9 L1091.7,402.4 L1093.0,401.2 L1094.4,400.2 L1094.7,402.0 L1096.7,402.9 L1097.3,404.5 L1098.7,405.8 L1097.2,408.5 L1099.2,409.4 L1099.4,411.3 L1101.8,412.1 L1101.6,414.1 L1101.8,415.9 L1101.0,417.9 L1102.3,419.3 L1101.2,420.7 L1100.9,422.5 L1099.5,423.7Z" fill="#8cbd9d" stroke="#8cbd9d" stroke-width="0.6"/>
<path d="M886.0,220.2 L887.8,220.1 L889.0,221.8 L890.4,223.0 L892.4,222.4 L894.2,222.4 L895.9,222.6 L896.6,224.9 L897.2,226.6 L899.8,226.4 L901.1,227.5 L901.9,229.1 L902.9,230.5 L903.4,232.4 L905.1,233.0 L906.7,234.2 L906.5,236.1 L906.7,237.9 L906.6,239.8 L908.1,241.0 L910.4,241.9 L910.0,243.8 L910.2,245.8 L911.9,246.6 L913.3,247.6 L915.2,248.2 L915.7,250.0 L915.4,252.0 L916.8,253.2 L917.8,254.7 L918.9,256.0 L919.7,257.6 L918.4,259.9 L919.5,261.3 L921.6,262.4 L921.9,264.1 L921.8,265.8 L921.2,267.8 L922.0,269.3 L924.3,270.4 L924.1,272.2 L923.8,274.1 L924.3,275.7 L924.3,277.5 L926.2,278.7 L927.1,280.2 L926.1,282.4 L926.8,283.9 L928.0,285.2 L929.9,286.0 L931.3,287.1 L930.3,289.8 L931.0,291.2 L933.2,292.0 L934.0,293.5 L935.0,294.8 L935.0,296.8 L935.5,298.4 L936.9,299.6 L936.1,301.0 L936.3,302.6 L936.6,304.2 L936.0,305.7 L934.6,306.6 L933.5,308.2 L931.0,307.1 L930.1,308.9 L928.4,309.3 L927.8,311.7 L925.6,311.1 L923.9,311.2 L922.0,310.4 L920.6,311.8 L919.0,312.3 L917.4,313.4 L915.5,312.1 L913.9,312.6 L912.1,312.1 L910.8,314.3 L909.0,314.0 L907.4,314.6 L905.5,313.5 L903.8,313.8 L902.4,315.1 L900.7,315.5 L899.2,316.4 L897.2,314.6 L895.7,315.3 L894.2,314.3 L892.1,315.9 L890.7,314.6 L889.0,314.3 L887.7,312.6 L885.8,313.2 L884.1,313.1 L882.5,312.7 L882.1,311.0 L881.7,309.3 L883.4,307.5 L882.5,305.8 L882.4,304.2 L881.7,302.4 L880.6,300.7 L882.0,299.0 L881.9,297.3 L883.1,295.6 L882.3,293.7 L881.1,292.4 L879.2,291.4 L879.1,289.5 L878.0,288.2 L878.9,285.8 L877.3,284.5 L875.9,283.5 L874.5,282.5 L872.3,282.2 L872.1,280.1 L871.0,278.7 L872.0,277.3 L871.9,275.4 L871.9,273.6 L873.8,272.5 L874.8,271.1 L875.0,269.0 L873.1,268.3 L871.6,267.2 L872.1,264.8 L870.9,263.5 L869.8,262.3 L867.8,261.4 L866.9,259.9 L868.4,257.6 L867.0,256.3 L866.2,254.8 L865.5,253.2 L866.0,251.6 L865.9,249.7 L867.4,248.5 L868.4,247.0 L868.8,245.4 L868.5,243.4 L869.2,242.0 L870.6,240.5 L870.5,238.8 L870.6,237.1 L870.4,235.3 L870.9,233.7 L872.6,233.0 L872.9,230.9 L873.3,228.9 L875.6,228.8 L876.7,227.5 L877.8,226.2 L879.2,225.3 L879.8,223.2 L882.0,223.3 L884.0,223.2 L884.4,220.8 L886.0,220.2Z" fill="#226d3b" stroke="#226d3b" stroke-width="0.6"/>
<path d="M1035.0,148.7 L1036.7,149.2 L1038.5,149.4 L1040.2,148.7 L1042.0,148.0 L1043.7,149.1 L1045.1,150.4 L1046.7,151.1 L1048.0,152.3 L1050.3,151.5 L1051.9,151.9 L1053.3,153.2 L1055.0,153.7 L1056.1,155.0 L1058.0,155.7 L1057.8,157.9 L1058.3,159.6 L1059.9,160.5 L1061.2,161.6 L1062.8,162.8 L1062.5,164.7 L1062.1,166.7 L1063.5,167.9 L1063.8,169.6 L1064.8,171.1 L1065.7,172.6 L1064.8,174.5 L1064.7,176.2 L1064.8,177.8 L1065.5,179.4 L1067.2,180.9 L1066.2,182.7 L1065.5,184.5 L1066.2,186.1 L1066.2,187.8 L1067.4,189.3 L1067.6,191.0 L1067.5,192.7 L1069.1,193.4 L1071.0,192.7 L1072.4,194.1 L1073.9,194.9 L1074.5,195.9 L1074.5,197.6 L1076.9,198.8 L1076.6,200.6 L1077.4,202.1 L1075.0,203.5 L1076.0,205.5 L1076.4,207.3 L1076.6,209.1 L1075.3,210.5 L1073.9,212.9 L1076.1,213.4 L1077.0,214.8 L1079.1,214.7 L1079.5,217.2 L1081.2,217.7 L1082.1,219.3 L1083.9,219.7 L1085.8,219.8 L1087.1,221.0 L1088.6,221.8 L1088.7,224.7 L1091.0,224.3 L1092.4,225.2 L1092.0,226.9 L1091.0,228.3 L1089.2,229.1 L1088.8,230.9 L1087.0,231.5 L1085.8,232.6 L1085.7,235.0 L1084.2,235.8 L1082.8,236.8 L1081.6,238.2 L1079.5,237.6 L1078.0,238.4 L1077.0,240.1 L1075.3,240.5 L1073.6,240.9 L1071.9,240.9 L1070.4,239.4 L1068.7,239.1 L1067.3,239.1 L1066.6,237.6 L1065.1,236.5 L1064.1,235.1 L1064.2,233.1 L1063.4,231.5 L1062.3,230.3 L1061.3,229.0 L1059.6,228.2 L1059.0,228.3 L1057.1,228.3 L1055.5,228.8 L1053.9,229.4 L1052.2,229.9 L1051.3,231.6 L1050.5,233.2 L1048.9,233.9 L1047.7,234.9 L1046.9,236.4 L1045.9,237.8 L1045.8,239.6 L1044.1,239.6 L1042.7,238.4 L1040.8,238.7 L1039.3,236.6 L1037.8,237.6 L1036.2,238.2 L1034.6,238.7 L1032.9,238.9 L1031.3,238.2 L1029.6,237.8 L1028.9,235.5 L1026.8,235.8 L1025.2,235.2 L1024.0,233.8 L1022.3,233.4 L1021.6,231.4 L1019.5,231.4 L1017.5,231.4 L1017.6,228.6 L1015.8,228.0 L1014.3,227.1 L1013.4,225.6 L1011.6,225.0 L1012.6,223.1 L1012.3,221.4 L1010.9,219.5 L1012.8,218.0 L1012.9,216.3 L1012.8,214.6 L1013.7,213.1 L1013.4,211.2 L1015.2,210.0 L1016.0,208.5 L1015.3,206.1 L1017.2,205.5 L1018.6,204.5 L1019.5,203.0 L1020.8,201.9 L1021.1,199.9 L1023.0,199.3 L1024.8,198.7 L1024.9,196.5 L1026.2,195.4 L1027.8,194.6 L1029.1,193.4 L1030.0,191.9 L1030.0,190.0 L1031.1,188.6 L1032.7,187.6 L1032.9,185.7 L1032.8,184.1 L1033.4,182.4 L1034.2,180.8 L1034.3,179.1 L1033.9,177.4 L1034.0,175.7 L1035.0,174.1 L1035.5,172.4 L1034.7,170.6 L1034.8,168.9 L1035.8,167.2 L1035.4,165.6 L1034.8,163.9 L1034.3,162.3 L1034.2,160.6 L1035.3,158.9 L1034.5,157.2 L1033.8,155.4 L1035.1,153.8 L1035.0,152.1 L1035.0,150.4 L1035.0,148.7Z" fill="#3f8a57" stroke="#3f8a57" stroke-width="0.6"/>
<path d="M1074.6,362.0 L1076.3,362.4 L1078.0,361.9 L1079.8,360.9 L1081.5,361.7 L1083.4,363.1 L1085.0,362.3 L1086.6,361.6 L1088.0,359.9 L1089.9,360.8 L1091.6,360.4 L1093.4,361.8 L1095.1,360.7 L1096.8,360.7 L1097.0,362.4 L1096.6,364.1 L1097.4,365.7 L1097.7,367.4 L1098.3,369.0 L1098.3,370.8 L1097.8,372.6 L1099.1,374.0 L1100.2,375.3 L1100.1,377.3 L1101.0,378.7 L1100.6,380.3 L1099.6,381.9 L1101.1,383.7 L1101.6,385.5 L1101.1,386.4 L1102.6,387.0 L1104.3,387.3 L1103.8,387.3 L1102.4,388.2 L1101.6,390.3 L1100.4,391.1 L1098.7,391.7 L1097.6,393.0 L1096.0,393.7 L1094.4,395.1 L1094.7,396.9 L1095.1,398.6 L1094.4,400.2 L1093.0,401.2 L1091.7,402.4 L1091.0,403.9 L1089.7,405.0 L1089.1,406.9 L1088.1,408.3 L1086.0,407.9 L1084.7,406.8 L1083.4,405.8 L1082.2,404.5 L1080.3,404.3 L1078.4,404.1 L1077.2,402.8 L1075.9,401.6 L1075.0,400.2 L1074.2,398.4 L1072.8,397.6 L1071.1,396.9 L1069.7,395.9 L1068.4,394.3 L1068.6,392.5 L1069.3,390.7 L1069.7,389.5 L1070.3,387.9 L1070.7,386.2 L1070.6,384.2 L1071.8,383.0 L1073.0,381.7 L1073.7,380.1 L1074.0,378.4 L1074.1,376.6 L1076.1,375.5 L1075.3,373.6 L1077.1,372.1 L1076.7,370.3 L1077.3,368.6 L1075.1,367.3 L1075.2,365.4 L1075.2,363.6 L1074.6,362.0Z" fill="#8cbd9d" stroke="#8cbd9d" stroke-width="0.6"/>
<path d="M1111.5,355.7 L1113.2,355.9 L1114.9,354.9 L1116.6,355.0 L1118.3,356.2 L1120.0,356.2 L1121.7,356.4 L1123.5,356.1 L1125.3,355.4 L1126.9,356.5 L1128.4,357.8 L1130.2,357.3 L1131.9,357.3 L1133.6,357.5 L1135.3,356.1 L1137.1,356.6 L1138.4,358.7 L1140.2,358.5 L1142.2,357.9 L1143.7,358.7 L1145.4,359.0 L1147.0,359.7 L1148.7,359.2 L1150.5,359.7 L1152.1,358.9 L1153.6,357.2 L1155.5,358.8 L1157.3,359.0 L1158.8,356.6 L1160.6,357.3 L1162.4,358.5 L1164.0,357.0 L1165.8,357.1 L1167.5,357.5 L1169.2,357.2 L1170.9,358.5 L1172.6,358.2 L1174.5,356.9 L1176.1,358.4 L1178.0,358.7 L1179.2,356.3 L1180.7,356.0 L1182.8,356.1 L1183.9,354.6 L1185.4,353.8 L1187.0,354.5 L1188.7,354.8 L1189.8,356.6 L1191.5,357.0 L1192.9,356.0 L1195.0,356.8 L1196.9,357.2 L1198.2,355.4 L1199.9,355.2 L1199.1,356.8 L1199.6,358.6 L1200.2,360.3 L1198.8,361.8 L1198.6,363.5 L1198.6,365.2 L1197.1,366.7 L1197.4,368.4 L1198.8,370.3 L1198.4,371.5 L1198.6,373.3 L1199.9,374.5 L1199.8,376.5 L1200.0,378.0 L1202.1,379.1 L1202.9,380.7 L1202.6,382.5 L1203.4,384.0 L1202.4,385.5 L1200.9,386.6 L1200.9,388.6 L1200.9,390.4 L1199.8,391.7 L1199.0,393.2 L1197.3,393.5 L1195.6,393.7 L1194.2,394.7 L1192.2,394.0 L1190.9,395.7 L1188.8,396.0 L1188.0,394.2 L1186.3,393.7 L1185.4,392.0 L1184.1,390.7 L1182.2,390.8 L1180.7,390.0 L1179.0,389.6 L1177.5,388.8 L1176.8,386.9 L1175.5,385.9 L1174.6,384.4 L1173.1,383.5 L1171.2,382.6 L1171.2,380.7 L1170.1,379.4 L1169.6,378.7 L1167.5,378.9 L1167.3,381.1 L1166.2,382.4 L1164.3,382.1 L1162.6,383.4 L1160.9,382.0 L1159.3,381.3 L1157.6,382.5 L1155.8,381.6 L1154.2,382.8 L1152.6,383.9 L1150.8,382.5 L1149.2,383.1 L1147.5,383.0 L1145.9,382.0 L1144.1,383.2 L1142.4,382.9 L1140.7,382.5 L1139.0,382.6 L1137.5,381.2 L1135.8,381.2 L1134.1,381.3 L1132.4,381.3 L1130.6,382.1 L1129.0,381.1 L1127.4,380.4 L1125.7,380.1 L1124.3,378.8 L1122.5,379.2 L1120.7,379.0 L1119.5,377.6 L1117.6,377.8 L1116.4,376.8 L1114.7,377.8 L1115.3,380.0 L1113.9,381.2 L1113.1,382.4 L1111.1,382.3 L1110.8,379.8 L1109.4,378.9 L1107.7,378.5 L1106.1,377.4 L1104.4,378.8 L1102.7,378.9 L1101.0,378.7 L1100.1,377.3 L1100.2,375.3 L1099.1,374.0 L1097.8,372.6 L1098.3,370.8 L1098.3,369.0 L1097.7,367.4 L1097.4,365.7 L1096.6,364.1 L1097.0,362.4 L1096.8,360.7 L1098.6,360.5 L1100.2,359.9 L1101.5,358.4 L1102.7,357.0 L1104.8,357.3 L1106.5,356.9 L1108.3,357.2 L1109.8,356.2 L1111.5,355.7Z" fill="#b3d7bf" stroke="#b3d7bf" stroke-width="0.6"/>
<path d="M1150.8,109.6 L1152.2,110.7 L1153.3,112.0 L1154.1,113.5 L1155.3,114.8 L1154.6,117.4 L1157.1,117.7 L1158.6,118.8 L1159.0,120.5 L1160.6,121.6 L1159.5,124.2 L1161.1,125.2 L1163.2,126.0 L1163.4,127.8 L1165.3,128.4 L1164.9,131.0 L1165.9,132.4 L1168.3,132.6 L1168.9,134.3 L1170.9,134.8 L1171.1,137.0 L1170.9,139.0 L1173.4,139.5 L1173.9,141.2 L1175.6,142.1 L1176.2,143.8 L1175.4,146.3 L1177.7,146.8 L1178.9,148.1 L1180.6,148.8 L1182.1,149.7 L1181.7,152.5 L1183.5,153.1 L1184.9,154.1 L1186.4,155.1 L1188.4,155.5 L1188.1,158.2 L1189.3,159.4 L1190.9,160.2 L1191.9,161.5 L1194.0,162.4 L1193.3,164.6 L1193.4,166.4 L1194.6,167.7 L1194.7,169.3 L1195.9,171.0 L1195.3,172.7 L1193.8,173.4 L1192.4,174.5 L1190.6,174.7 L1188.5,173.8 L1187.3,175.3 L1186.0,174.4 L1184.0,174.2 L1183.3,172.3 L1181.7,171.6 L1180.7,170.0 L1178.8,170.0 L1177.0,169.8 L1175.3,169.1 L1174.7,167.1 L1173.8,165.6 L1171.7,165.6 L1170.2,164.7 L1169.5,165.6 L1167.4,165.5 L1166.3,167.0 L1164.6,167.4 L1163.9,169.4 L1162.3,170.1 L1160.9,171.0 L1158.9,170.0 L1157.3,170.9 L1155.8,172.2 L1154.2,172.6 L1152.4,172.1 L1150.6,171.5 L1149.0,172.6 L1147.3,172.6 L1145.7,173.5 L1144.0,173.2 L1142.2,172.5 L1141.3,171.1 L1141.1,168.9 L1139.3,168.2 L1139.9,167.4 L1140.3,165.6 L1140.1,163.2 L1142.7,163.1 L1144.5,162.4 L1144.1,160.1 L1142.6,159.2 L1141.2,158.0 L1140.5,156.4 L1139.5,154.9 L1137.6,154.6 L1136.2,155.9 L1135.1,158.3 L1133.0,157.2 L1131.6,156.3 L1129.7,156.8 L1128.2,155.6 L1126.2,156.3 L1124.3,156.8 L1123.2,154.3 L1121.6,153.5 L1119.7,154.1 L1117.9,154.5 L1116.2,153.6 L1115.1,152.0 L1113.8,150.9 L1112.8,149.3 L1110.7,149.4 L1108.4,149.7 L1108.3,146.8 L1107.2,145.4 L1105.5,145.0 L1105.3,143.2 L1103.3,142.2 L1102.4,140.8 L1103.4,138.3 L1102.3,137.0 L1101.0,135.7 L1102.2,134.4 L1103.8,133.8 L1105.5,132.7 L1105.0,131.1 L1103.6,129.7 L1104.7,127.7 L1107.0,128.4 L1108.2,127.3 L1109.8,126.7 L1111.1,125.0 L1112.6,125.1 L1111.7,123.6 L1111.0,122.1 L1110.0,120.7 L1111.9,120.7 L1112.8,118.5 L1114.5,118.1 L1116.4,118.3 L1118.1,117.5 L1119.7,118.9 L1121.3,119.4 L1123.3,117.2 L1125.1,117.5 L1126.4,119.4 L1128.2,119.3 L1129.8,120.0 L1131.4,120.9 L1132.2,118.6 L1133.3,117.3 L1136.1,117.6 L1137.1,116.2 L1138.1,114.9 L1139.9,114.7 L1140.8,112.6 L1142.1,111.4 L1144.7,113.0 L1146.3,112.3 L1147.4,110.4 L1149.2,110.2 L1150.8,109.6Z" fill="#8cbd9d" stroke="#8cbd9d" stroke-width="0.6"/>
<path d="M901.0,418.2 L899.2,418.4 L897.6,418.0 L895.9,417.7 L894.3,416.7 L892.7,416.8 L891.1,416.0 L889.4,415.5 L888.8,413.4 L887.6,412.2 L885.7,411.8 L883.8,411.1 L883.5,409.2 L882.8,407.6 L881.5,406.5 L880.1,405.4 L878.8,404.2 L878.3,402.4 L877.4,400.8 L875.8,400.1 L873.7,399.9 L873.0,398.0 L872.3,396.6 L871.5,395.1 L869.7,394.1 L869.4,392.3 L868.6,390.8 L869.1,388.8 L867.8,387.5 L866.9,385.9 L867.4,383.9 L869.9,384.5 L870.8,382.8 L871.9,381.5 L872.8,379.9 L875.0,379.8 L875.5,378.0 L876.8,376.7 L876.1,374.5 L877.2,373.2 L876.4,372.0 L876.1,369.9 L873.6,369.9 L872.7,368.5 L871.6,367.1 L871.1,365.1 L869.2,364.6 L868.1,363.3 L867.1,362.9 L865.2,362.5 L863.5,362.8 L861.9,363.6 L860.7,365.4 L858.9,365.2 L857.2,365.8 L856.0,367.1 L855.4,368.6 L854.7,370.1 L853.8,371.7 L852.8,373.1 L852.6,374.9 L853.3,376.8 L852.6,378.4 L851.4,379.9 L851.1,381.6 L851.2,383.6 L849.5,384.0 L848.0,383.7 L847.4,381.9 L845.8,381.1 L844.7,379.7 L843.6,378.2 L844.3,376.2 L843.5,374.7 L844.1,373.0 L845.8,372.1 L847.0,370.9 L848.2,369.6 L848.5,367.8 L847.7,365.8 L849.5,364.5 L851.0,363.1 L850.7,361.3 L851.1,359.6 L851.6,357.9 L852.8,356.8 L853.7,354.7 L852.6,354.6 L854.6,354.5 L855.7,356.0 L857.1,357.0 L858.2,358.6 L859.9,359.1 L861.6,358.1 L863.4,358.6 L865.2,359.0 L866.3,357.7 L867.3,356.2 L866.7,354.2 L866.9,352.4 L868.7,351.2 L869.2,349.6 L869.6,347.9 L869.5,346.1 L868.9,344.1 L870.9,342.9 L872.1,341.7 L871.8,339.6 L872.2,337.9 L872.7,336.2 L874.3,335.1 L876.1,334.7 L876.3,332.4 L877.3,330.9 L879.0,330.2 L880.4,331.1 L882.6,330.7 L883.6,332.5 L884.9,333.7 L886.3,334.5 L887.2,336.2 L889.1,336.5 L891.4,336.3 L891.7,338.7 L891.2,340.7 L892.6,342.0 L893.5,343.5 L893.9,345.2 L894.4,347.0 L893.0,348.5 L891.9,351.1 L894.1,351.6 L895.8,352.4 L896.3,354.2 L897.2,355.6 L897.9,357.3 L898.8,358.9 L901.0,359.1 L902.8,359.7 L903.0,361.9 L904.1,363.4 L905.7,364.0 L907.2,364.8 L909.2,365.0 L910.8,365.6 L911.5,367.7 L913.0,368.8 L915.0,368.4 L916.7,368.6 L918.3,369.2 L919.7,370.4 L920.2,372.5 L921.5,373.6 L923.6,373.8 L924.6,375.2 L923.2,376.2 L921.8,377.3 L920.9,378.7 L919.7,379.9 L918.7,381.4 L917.4,382.7 L915.5,382.5 L913.6,383.1 L913.0,384.7 L911.7,385.9 L911.4,387.7 L912.2,389.7 L911.2,391.2 L909.7,392.5 L909.8,394.3 L908.9,395.8 L907.4,397.0 L908.1,399.1 L908.6,401.2 L906.7,402.2 L905.7,403.7 L905.8,405.5 L904.2,406.7 L903.3,408.2 L904.6,410.5 L904.3,412.2 L902.5,413.3 L902.1,415.0 L901.5,416.6 L901.0,418.2Z" fill="#62a379" stroke="#62a379" stroke-width="0.6"/>
<path d="M934.7,75.2 L936.0,74.0 L936.8,72.2 L938.4,72.3 L939.9,73.6 L941.6,74.0 L943.3,74.1 L945.1,74.1 L946.9,74.4 L947.4,76.7 L948.8,77.8 L951.3,76.8 L952.3,78.4 L953.8,80.1 L955.3,79.0 L957.0,78.8 L958.5,77.9 L960.2,77.4 L961.5,78.7 L963.3,78.7 L965.5,78.0 L966.7,79.4 L967.9,81.0 L969.7,81.2 L971.5,81.0 L973.0,81.8 L974.5,82.8 L975.9,83.7 L977.8,83.6 L978.6,81.5 L980.3,81.1 L982.7,81.8 L983.3,79.6 L984.4,78.1 L986.5,78.7 L988.1,78.3 L989.8,78.5 L991.5,78.1 L993.1,76.6 L994.6,78.4 L995.5,80.1 L997.7,79.7 L999.4,80.4 L999.6,82.6 L999.9,84.3 L1001.2,85.5 L1002.4,86.8 L1003.2,88.1 L1004.1,89.7 L1004.7,91.4 L1006.7,91.8 L1008.7,92.2 L1008.5,94.9 L1009.7,96.1 L1012.0,96.0 L1013.0,97.5 L1014.2,98.6 L1015.5,99.7 L1015.9,101.3 L1015.3,103.2 L1018.3,104.1 L1018.2,105.8 L1017.0,107.7 L1018.0,109.2 L1016.2,109.0 L1014.7,110.2 L1013.0,110.4 L1011.3,110.8 L1009.3,109.4 L1007.9,111.4 L1006.1,111.2 L1004.5,111.7 L1002.7,111.7 L1000.6,110.9 L999.8,113.7 L997.9,113.4 L996.4,114.3 L994.8,113.2 L992.9,113.7 L991.3,113.3 L989.4,113.9 L988.1,111.7 L986.1,112.2 L984.8,113.8 L982.9,113.5 L981.6,115.1 L979.3,113.4 L978.2,115.5 L976.7,116.4 L975.3,117.4 L973.2,117.1 L971.9,118.4 L970.6,119.5 L970.0,121.4 L968.6,122.4 L966.1,122.3 L966.5,125.1 L964.5,125.6 L964.2,127.6 L962.6,128.5 L960.8,128.8 L959.4,129.8 L957.5,129.9 L956.3,131.5 L955.5,133.6 L952.9,132.3 L951.6,133.6 L949.8,133.8 L948.5,131.9 L946.8,131.6 L945.0,131.5 L943.6,130.4 L941.5,131.2 L939.6,131.3 L938.6,129.1 L937.1,128.2 L935.4,127.8 L934.0,126.6 L932.0,127.0 L930.0,127.5 L928.8,125.8 L927.4,124.6 L925.7,124.2 L924.3,123.1 L922.4,123.3 L920.4,124.1 L919.0,123.2 L917.3,122.5 L915.6,122.3 L913.9,121.8 L912.2,122.1 L910.5,123.3 L908.7,123.2 L907.0,122.7 L906.6,121.0 L904.8,119.8 L907.0,118.4 L907.3,116.6 L908.2,115.1 L908.6,113.4 L909.4,111.7 L912.1,112.0 L912.5,109.9 L913.5,109.5 L915.7,109.6 L916.5,111.2 L917.1,113.1 L919.1,113.0 L920.5,112.1 L921.5,110.3 L922.9,109.9 L923.0,108.2 L922.3,106.6 L923.0,105.2 L924.4,104.2 L926.2,103.9 L927.6,102.3 L926.6,100.8 L925.5,100.3 L924.0,99.3 L922.4,98.7 L921.0,97.3 L919.0,97.6 L919.3,95.9 L920.0,94.3 L921.4,94.0 L923.1,94.9 L924.9,92.8 L926.5,94.0 L928.3,93.8 L929.8,95.2 L931.9,95.1 L932.6,92.7 L934.7,93.1 L935.8,91.7 L938.2,92.5 L938.8,90.2 L939.3,88.4 L941.0,87.6 L942.0,86.2 L942.7,84.3 L940.2,83.8 L939.4,82.3 L938.5,80.8 L938.0,79.1 L937.4,77.4 L935.4,76.8 L934.7,75.2Z" fill="#226d3b" stroke="#226d3b" stroke-width="0.6"/>
<path d="M976.0,183.2 L974.7,184.4 L974.4,186.3 L973.7,188.0 L971.3,188.0 L969.7,188.7 L968.5,190.1 L966.7,190.3 L965.4,191.6 L965.4,193.3 L963.9,194.5 L962.4,195.8 L962.3,197.6 L961.1,199.0 L960.4,200.6 L961.3,202.7 L960.8,204.4 L959.4,205.8 L960.0,207.4 L960.0,209.2 L960.0,210.9 L961.0,212.5 L961.6,214.2 L962.3,215.8 L963.8,217.2 L962.1,220.2 L964.4,220.4 L965.6,221.7 L967.6,222.2 L968.5,223.8 L968.3,226.4 L970.6,226.6 L971.8,227.9 L973.0,229.2 L974.7,229.1 L976.4,228.0 L978.0,229.0 L979.7,228.8 L981.4,230.7 L983.1,229.6 L984.8,228.9 L986.4,228.6 L988.1,228.0 L989.8,230.2 L991.5,229.6 L992.8,230.5 L994.8,229.9 L996.7,229.4 L997.9,231.2 L998.7,232.6 L997.4,234.7 L999.0,236.0 L1000.3,237.4 L1000.8,239.0 L1002.0,240.3 L1000.5,242.7 L1002.3,244.1 L1004.0,244.2 L1005.6,243.0 L1007.2,241.8 L1008.8,243.8 L1010.5,244.2 L1011.6,245.7 L1013.5,245.7 L1015.2,245.1 L1016.4,243.7 L1017.9,242.7 L1019.1,240.8 L1021.1,241.2 L1023.3,242.1 L1024.6,240.5 L1026.5,240.4 L1028.1,239.6 L1029.3,237.8 L1031.3,238.2 L1029.6,237.8 L1028.9,235.5 L1026.8,235.8 L1025.2,235.2 L1024.0,233.8 L1022.3,233.4 L1021.6,231.4 L1019.5,231.4 L1017.5,231.4 L1017.6,228.6 L1015.8,228.0 L1014.3,227.1 L1013.4,225.6 L1011.6,225.0 L1012.6,223.1 L1012.3,221.4 L1010.9,219.5 L1012.8,218.0 L1012.9,216.3 L1012.8,214.6 L1013.7,213.1 L1013.4,211.2 L1015.2,210.0 L1016.0,208.5 L1015.3,206.1 L1017.2,205.5 L1018.6,204.5 L1019.5,203.0 L1020.8,201.9 L1021.1,199.9 L1023.0,199.3 L1024.8,198.7 L1024.9,196.5 L1026.2,195.4 L1027.8,194.6 L1029.1,193.4 L1030.0,191.9 L1030.0,190.0 L1031.1,188.6 L1032.7,187.6 L1032.9,185.7 L1032.8,184.1 L1033.4,182.4 L1034.2,180.8 L1034.3,179.1 L1033.9,177.4 L1034.0,175.7 L1035.0,174.1 L1035.5,172.4 L1034.7,170.6 L1034.8,168.9 L1035.8,167.2 L1035.4,165.6 L1034.8,163.9 L1034.3,162.3 L1034.2,160.6 L1035.3,158.9 L1034.5,157.2 L1033.8,155.4 L1035.1,153.8 L1035.0,152.1 L1035.0,150.4 L1035.0,148.7 L1033.5,149.3 L1032.0,150.3 L1030.1,148.8 L1028.3,148.5 L1027.2,150.6 L1025.7,151.2 L1024.0,151.2 L1022.3,151.4 L1021.0,153.1 L1019.0,152.3 L1017.5,153.0 L1015.7,152.8 L1014.3,154.3 L1012.6,154.5 L1011.2,155.2 L1009.5,155.9 L1008.2,156.9 L1007.3,158.5 L1006.1,159.6 L1005.2,160.9 L1003.2,161.7 L1003.0,163.6 L1002.1,165.0 L1002.4,167.1 L999.8,167.0 L998.4,168.1 L996.6,168.3 L996.2,171.1 L994.2,170.9 L992.9,172.0 L990.7,171.9 L990.6,174.6 L989.1,175.4 L987.8,176.5 L985.4,176.0 L984.6,177.8 L983.6,179.4 L982.3,180.6 L980.2,180.2 L978.4,180.7 L977.5,182.4 L976.0,183.2Z" fill="#3f8a57" stroke="#3f8a57" stroke-width="0.6"/>
<path d="M1055.0,153.7 L1055.7,152.2 L1057.6,151.2 L1056.9,148.9 L1057.4,147.0 L1059.7,146.9 L1061.2,145.7 L1061.2,143.8 L1061.2,142.0 L1062.1,140.5 L1064.2,140.8 L1065.9,140.3 L1067.2,139.0 L1069.0,138.3 L1070.7,139.1 L1072.4,140.5 L1074.0,139.2 L1075.4,137.8 L1077.4,138.8 L1079.1,138.8 L1080.6,137.8 L1082.2,137.2 L1083.5,135.8 L1085.4,136.1 L1087.5,136.8 L1088.3,134.4 L1089.9,133.0 L1091.8,134.5 L1093.5,134.4 L1095.1,133.6 L1096.7,132.9 L1098.7,133.2 L1099.5,135.0 L1101.0,135.7 L1102.3,137.0 L1103.4,138.3 L1102.4,140.8 L1103.3,142.2 L1105.3,143.2 L1105.5,145.0 L1107.2,145.4 L1108.3,146.8 L1108.4,149.7 L1110.7,149.4 L1112.8,149.3 L1113.8,150.9 L1115.1,152.0 L1116.2,153.6 L1117.9,154.5 L1119.7,154.1 L1121.6,153.5 L1123.2,154.3 L1124.3,156.8 L1126.2,156.3 L1128.2,155.6 L1129.7,156.8 L1131.6,156.3 L1133.0,157.2 L1135.1,158.3 L1136.2,155.9 L1137.6,154.6 L1139.5,154.9 L1140.5,156.4 L1141.2,158.0 L1142.6,159.2 L1144.1,160.1 L1144.5,162.4 L1142.7,163.1 L1140.1,163.2 L1140.3,165.6 L1139.9,167.4 L1139.3,168.2 L1141.1,168.9 L1141.3,171.1 L1142.2,172.5 L1144.0,173.2 L1144.8,174.8 L1144.3,176.6 L1144.7,178.3 L1144.3,180.3 L1145.5,181.7 L1146.5,183.2 L1144.8,183.0 L1143.1,183.0 L1141.4,182.5 L1139.6,184.5 L1138.0,183.6 L1136.3,183.6 L1134.6,183.5 L1133.1,181.8 L1131.5,182.1 L1130.2,181.0 L1128.1,181.4 L1126.7,180.3 L1125.7,180.3 L1124.2,181.0 L1121.8,180.6 L1121.1,182.5 L1119.3,182.8 L1118.2,184.4 L1116.7,185.2 L1115.2,185.8 L1113.4,186.0 L1111.4,185.5 L1110.2,187.1 L1108.2,186.7 L1107.2,188.6 L1105.7,189.6 L1103.9,189.6 L1102.3,190.3 L1100.4,189.6 L1098.9,190.6 L1097.1,190.3 L1095.8,192.3 L1093.8,192.4 L1092.4,191.2 L1090.6,191.3 L1089.5,189.2 L1087.5,189.7 L1085.9,190.4 L1084.8,192.1 L1083.3,192.8 L1081.5,192.9 L1079.7,192.6 L1079.1,190.0 L1077.1,190.2 L1075.4,189.6 L1073.9,190.6 L1072.6,191.8 L1070.8,191.9 L1069.2,192.3 L1067.5,192.7 L1067.6,191.0 L1067.4,189.3 L1066.2,187.8 L1066.2,186.1 L1065.5,184.5 L1066.2,182.7 L1067.2,180.9 L1065.5,179.4 L1064.8,177.8 L1064.7,176.2 L1064.8,174.5 L1065.7,172.6 L1064.8,171.1 L1063.8,169.6 L1063.5,167.9 L1062.1,166.7 L1062.5,164.7 L1062.8,162.8 L1061.2,161.6 L1059.9,160.5 L1058.3,159.6 L1057.8,157.9 L1058.0,155.7 L1056.1,155.0 L1055.0,153.7Z" fill="#226d3b" stroke="#226d3b" stroke-width="0.6"/>
<path d="M999.5,453.2 L997.8,452.9 L996.3,451.4 L994.4,452.7 L992.7,452.6 L991.4,453.3 L989.6,453.2 L987.5,451.9 L986.2,453.6 L984.7,454.6 L983.0,454.7 L981.6,456.0 L979.7,455.3 L978.0,455.7 L976.5,456.5 L974.7,456.4 L973.1,458.1 L971.4,457.8 L970.0,455.8 L968.2,456.2 L966.5,456.2 L967.5,454.7 L966.3,452.6 L967.6,451.2 L968.9,449.8 L969.2,448.2 L969.3,446.4 L968.6,444.5 L970.7,443.3 L971.3,441.7 L970.5,439.7 L971.0,438.1 L971.4,436.5 L973.0,434.8 L971.8,433.2 L970.6,431.6 L971.7,429.8 L971.5,428.1 L971.6,426.4 L970.5,424.7 L970.6,423.0 L972.5,421.5 L971.6,419.7 L971.5,418.0 L971.4,416.3 L971.6,414.7 L971.7,412.8 L969.3,412.1 L968.9,410.4 L968.7,408.6 L968.0,407.0 L967.3,405.5 L965.1,404.9 L965.3,402.7 L964.6,401.1 L962.8,400.3 L962.0,398.9 L960.7,397.7 L960.8,395.5 L959.3,394.5 L957.3,393.9 L957.1,391.9 L956.1,390.6 L955.9,388.8 L954.4,387.6 L953.4,386.2 L954.1,384.1 L953.0,382.7 L954.7,382.6 L956.3,381.5 L958.0,381.5 L959.6,380.8 L961.6,381.6 L963.1,380.5 L965.0,381.0 L966.2,378.9 L967.8,378.5 L969.4,377.8 L970.9,377.0 L973.3,378.4 L974.4,376.3 L976.5,377.3 L976.2,375.1 L976.2,373.3 L976.2,371.6 L975.5,369.9 L977.3,368.3 L976.2,366.4 L977.4,364.8 L976.1,362.9 L976.4,361.2 L977.4,359.5 L978.9,358.6 L980.7,358.0 L981.8,356.6 L983.1,355.7 L983.9,353.7 L985.8,353.5 L987.3,352.7 L988.9,352.0 L990.3,350.5 L991.2,351.9 L992.6,353.0 L992.5,355.3 L994.1,356.2 L995.7,357.1 L996.3,358.8 L996.9,360.4 L997.5,362.1 L999.2,363.0 L999.9,364.7 L998.9,366.5 L999.0,368.2 L999.7,369.9 L1000.3,371.5 L1000.5,373.2 L999.4,375.2 L1001.0,376.5 L1001.6,378.1 L1001.9,379.8 L1002.0,381.5 L1001.4,383.4 L1003.9,384.6 L1003.1,386.5 L1003.4,388.2 L1003.2,389.9 L1003.8,391.6 L1004.3,393.2 L1005.1,394.8 L1005.3,396.4 L1004.6,398.3 L1005.8,399.8 L1006.3,401.5 L1006.9,403.1 L1006.4,404.9 L1006.0,406.6 L1007.5,408.1 L1006.9,409.9 L1006.2,411.5 L1005.3,413.0 L1004.6,414.6 L1005.6,416.6 L1004.1,417.9 L1002.5,418.8 L1001.7,420.4 L1000.5,421.6 L1000.4,423.7 L998.7,424.5 L997.3,425.7 L997.9,427.8 L996.7,429.2 L996.4,430.9 L996.0,432.4 L995.4,434.2 L997.7,435.6 L997.0,437.4 L997.1,439.2 L998.3,440.5 L998.4,442.3 L1000.8,442.9 L1000.7,444.9 L999.7,446.3 L1001.1,448.3 L1000.0,449.8 L1000.1,451.6 L999.5,453.2Z" fill="#b3d7bf" stroke="#b3d7bf" stroke-width="0.6"/>
<path d="M1044.3,302.9 L1044.9,304.5 L1045.1,306.2 L1046.1,307.7 L1046.3,309.4 L1045.3,311.5 L1046.9,312.7 L1048.7,313.9 L1048.1,315.9 L1048.3,317.7 L1049.5,319.0 L1049.8,320.7 L1051.2,322.0 L1052.5,323.3 L1051.7,325.6 L1052.4,327.1 L1054.8,327.6 L1055.3,329.3 L1055.6,331.1 L1056.5,332.5 L1056.4,334.3 L1057.2,335.9 L1059.1,337.0 L1058.6,339.0 L1057.8,341.0 L1059.8,342.1 L1060.9,343.5 L1061.1,345.3 L1062.2,346.6 L1062.2,348.5 L1062.5,350.3 L1064.8,351.0 L1065.7,352.5 L1064.9,354.7 L1066.4,356.0 L1068.1,356.5 L1069.2,357.9 L1071.0,358.4 L1072.1,359.7 L1072.9,361.5 L1074.6,362.0 L1076.3,362.4 L1078.0,361.9 L1079.8,360.9 L1081.5,361.7 L1083.4,363.1 L1085.0,362.3 L1086.6,361.6 L1088.0,359.9 L1089.9,360.8 L1091.6,360.4 L1093.4,361.8 L1095.1,360.7 L1096.8,360.7 L1098.6,360.5 L1100.2,359.9 L1101.5,358.4 L1102.7,357.0 L1104.8,357.3 L1106.5,356.9 L1108.3,357.2 L1109.8,356.2 L1111.5,355.7 L1111.4,354.0 L1111.9,352.1 L1110.2,350.8 L1109.5,349.2 L1109.9,347.3 L1110.8,345.7 L1111.7,344.1 L1110.7,342.3 L1108.9,341.8 L1109.3,339.4 L1108.9,337.5 L1106.7,337.1 L1105.2,336.0 L1105.0,334.1 L1105.2,332.3 L1105.5,330.5 L1104.1,329.0 L1102.9,328.6 L1102.2,326.5 L1101.1,325.0 L1099.2,324.9 L1097.6,324.4 L1095.9,324.0 L1094.3,323.4 L1094.2,321.5 L1093.0,320.2 L1090.9,319.4 L1090.7,317.6 L1090.8,315.6 L1090.0,314.1 L1089.0,312.7 L1087.3,311.7 L1086.6,310.1 L1087.7,307.8 L1086.8,306.3 L1084.4,305.4 L1084.3,303.6 L1084.7,301.6 L1084.0,300.0 L1082.9,298.7 L1082.0,297.2 L1080.5,296.4 L1079.2,295.2 L1077.4,294.8 L1075.7,295.4 L1074.0,295.7 L1072.3,295.9 L1070.9,296.6 L1069.2,297.5 L1070.1,300.1 L1069.3,301.7 L1068.1,301.7 L1066.4,301.1 L1064.7,300.4 L1063.2,299.5 L1061.7,299.3 L1060.1,298.3 L1058.6,297.2 L1056.9,297.0 L1055.7,299.2 L1053.7,298.8 L1051.5,297.9 L1050.4,299.9 L1048.9,300.7 L1047.5,301.5 L1045.9,302.3 L1044.3,302.9Z" fill="#3f8a57" stroke="#3f8a57" stroke-width="0.6"/>
<path d="M973.0,229.2 L974.7,229.1 L976.4,228.0 L978.0,229.0 L979.7,228.8 L981.4,230.7 L983.1,229.6 L984.8,228.9 L986.4,228.6 L988.1,228.0 L989.8,230.2 L991.5,229.6 L992.8,230.5 L994.8,229.9 L996.7,229.4 L997.9,231.2 L998.7,232.6 L997.4,234.7 L999.0,236.0 L1000.3,237.4 L1000.8,239.0 L1002.0,240.3 L1000.5,242.7 L1002.3,244.1 L1004.0,244.2 L1005.6,243.0 L1007.2,241.8 L1008.8,243.8 L1010.5,244.2 L1011.6,245.7 L1013.5,245.7 L1012.2,246.9 L1011.4,248.4 L1010.5,249.9 L1009.9,251.5 L1008.9,253.3 L1007.1,253.5 L1005.2,253.4 L1003.6,253.8 L1001.7,253.8 L1001.8,256.4 L1003.0,257.9 L1003.4,259.6 L1003.5,261.7 L1002.1,262.9 L1000.5,263.9 L999.9,265.6 L999.4,267.3 L999.6,269.1 L1000.0,271.0 L998.7,272.5 L997.6,274.0 L998.2,275.8 L998.1,277.6 L999.5,279.0 L1001.2,280.2 L1000.5,282.3 L1000.1,283.9 L999.4,285.5 L999.0,287.2 L997.2,287.1 L995.6,287.6 L994.0,288.4 L992.3,288.8 L990.5,288.6 L988.8,288.6 L987.1,289.0 L985.5,290.0 L983.8,289.5 L982.0,288.6 L980.3,288.6 L978.4,288.2 L977.3,290.6 L975.5,290.6 L974.1,291.9 L972.2,291.1 L970.4,291.1 L968.8,291.3 L967.2,292.3 L965.6,293.0 L964.0,294.0 L962.2,293.1 L960.5,292.9 L958.8,292.5 L957.1,292.7 L955.6,294.5 L953.8,294.2 L952.2,295.2 L950.4,293.7 L948.7,293.8 L946.8,294.1 L945.6,295.6 L944.3,296.9 L942.8,297.6 L941.0,297.7 L941.1,295.9 L939.0,294.7 L939.1,293.0 L938.9,291.2 L939.5,289.2 L938.0,288.0 L936.5,286.4 L937.5,284.6 L937.1,282.9 L938.3,281.1 L936.6,279.4 L937.5,277.9 L936.5,275.9 L939.0,274.8 L939.5,273.1 L939.2,271.3 L939.3,269.4 L940.4,268.1 L942.6,267.4 L942.6,265.4 L944.2,264.4 L943.5,261.8 L945.6,261.3 L946.8,260.1 L949.0,259.8 L948.8,257.3 L949.5,255.7 L951.4,255.0 L952.6,253.9 L954.4,253.1 L954.3,250.8 L955.8,249.9 L955.9,247.7 L959.0,248.1 L959.6,246.5 L960.5,245.0 L961.1,243.0 L963.0,242.7 L964.9,242.2 L965.7,240.6 L967.3,239.8 L966.9,237.5 L969.0,236.7 L969.8,235.2 L971.9,234.4 L970.6,231.8 L971.9,230.5 L973.0,229.2Z" fill="#3f8a57" stroke="#3f8a57" stroke-width="0.6"/>
<path d="M882.0,129.2 L883.3,128.0 L884.8,127.4 L886.2,126.4 L887.8,125.8 L889.3,125.4 L891.0,126.3 L892.7,124.1 L894.3,124.6 L896.0,126.0 L897.8,125.3 L899.1,124.3 L900.5,123.3 L902.2,122.8 L903.8,121.5 L905.2,123.1 L907.0,122.7 L908.7,123.2 L910.5,123.3 L912.2,122.1 L913.9,121.8 L915.6,122.3 L917.3,122.5 L919.0,123.2 L920.4,124.1 L922.4,123.3 L924.3,123.1 L925.7,124.2 L927.4,124.6 L928.8,125.8 L930.0,127.5 L932.0,127.0 L934.0,126.6 L935.4,127.8 L937.1,128.2 L938.6,129.1 L939.6,131.3 L941.5,131.2 L943.6,130.4 L945.0,131.5 L946.8,131.6 L948.5,131.9 L949.8,133.8 L951.6,133.6 L951.1,135.3 L950.3,136.9 L948.2,137.5 L947.0,138.8 L946.2,140.1 L944.9,141.2 L943.8,142.8 L941.9,142.9 L939.4,142.9 L939.2,145.0 L939.2,147.2 L937.4,147.9 L936.2,149.2 L934.7,150.1 L932.8,150.5 L932.9,153.1 L932.4,155.1 L929.6,154.7 L928.5,156.3 L928.7,158.2 L927.7,159.7 L928.5,161.8 L928.1,163.4 L924.8,163.0 L923.9,164.6 L923.8,167.2 L921.9,167.6 L920.6,168.7 L918.9,169.2 L917.6,167.2 L915.6,168.4 L915.1,170.0 L912.6,169.5 L910.9,170.1 L909.9,171.7 L908.8,171.2 L906.7,171.5 L904.9,171.3 L904.5,168.5 L903.1,167.4 L900.8,168.1 L899.2,167.3 L897.8,166.5 L896.4,165.4 L895.5,163.4 L893.4,163.5 L891.5,165.0 L889.8,164.3 L888.2,163.2 L886.5,163.2 L886.0,161.5 L884.4,160.5 L883.7,159.0 L882.2,157.8 L883.0,155.2 L881.5,154.2 L879.5,153.7 L878.4,152.4 L877.9,150.6 L879.0,148.8 L877.7,147.2 L877.5,145.5 L876.4,143.9 L878.1,142.2 L879.6,140.9 L878.4,138.7 L878.9,137.1 L879.1,135.4 L881.1,134.3 L881.5,132.6 L881.4,130.8 L882.0,129.2Z" fill="#62a379" stroke="#62a379" stroke-width="0.6"/>
<path d="M861.5,104.7 L861.3,102.9 L863.1,101.6 L863.3,99.9 L862.5,97.9 L863.3,96.3 L864.6,95.1 L866.5,95.0 L868.2,94.5 L868.8,92.0 L870.6,91.6 L872.5,91.7 L873.7,90.7 L875.4,91.0 L877.2,90.4 L878.8,91.2 L880.3,92.7 L882.2,92.3 L883.3,90.9 L884.7,89.8 L886.5,89.5 L888.3,89.2 L889.2,87.3 L890.4,86.1 L892.0,85.4 L893.5,84.5 L895.0,83.7 L895.3,81.5 L896.3,80.1 L898.6,79.9 L899.5,78.4 L900.7,77.2 L901.7,75.8 L902.6,74.2 L905.1,74.5 L906.2,73.1 L907.0,71.2 L908.9,71.4 L910.6,70.8 L912.3,70.7 L913.6,69.2 L912.7,66.9 L914.1,65.7 L914.8,65.0 L916.6,64.8 L918.3,65.2 L920.1,65.2 L921.6,66.2 L922.2,67.5 L923.8,68.5 L925.2,69.8 L925.7,71.4 L926.4,73.1 L927.9,74.0 L929.9,73.3 L931.6,73.6 L933.0,74.8 L934.7,75.2 L935.4,76.8 L937.4,77.4 L938.0,79.1 L938.5,80.8 L939.4,82.3 L940.2,83.8 L942.7,84.3 L942.0,86.2 L941.0,87.6 L939.3,88.4 L938.8,90.2 L938.2,92.5 L935.8,91.7 L934.7,93.1 L932.6,92.7 L931.9,95.1 L929.8,95.2 L928.3,93.8 L926.5,94.0 L924.9,92.8 L923.1,94.9 L921.4,94.0 L920.0,94.3 L919.3,95.9 L919.0,97.6 L921.0,97.3 L922.4,98.7 L924.0,99.3 L925.5,100.3 L926.6,100.8 L927.6,102.3 L926.2,103.9 L924.4,104.2 L923.0,105.2 L922.3,106.6 L923.0,108.2 L922.9,109.9 L921.5,110.3 L920.5,112.1 L919.1,113.0 L917.1,113.1 L916.5,111.2 L915.7,109.6 L913.5,109.5 L912.5,109.9 L912.1,112.0 L909.4,111.7 L908.6,113.4 L908.2,115.1 L907.3,116.6 L907.0,118.4 L904.8,119.8 L906.6,121.0 L907.0,122.7 L905.2,123.1 L903.8,121.5 L902.2,122.8 L900.5,123.3 L899.1,124.3 L897.8,125.3 L896.0,126.0 L894.3,124.6 L892.7,124.1 L891.0,126.3 L889.3,125.4 L887.8,125.8 L886.2,126.4 L884.8,127.4 L883.3,128.0 L882.0,129.2 L880.8,128.0 L879.0,127.5 L877.7,126.3 L876.0,125.8 L875.5,123.5 L874.8,121.6 L872.7,121.6 L871.5,120.4 L870.1,119.3 L867.8,119.2 L868.0,116.6 L868.1,114.4 L866.0,113.8 L865.3,112.2 L864.0,111.0 L861.4,110.2 L862.1,108.1 L862.5,106.2 L861.5,104.7Z" fill="#8cbd9d" stroke="#8cbd9d" stroke-width="0.6"/>
<path d="M1015.5,99.7 L1017.1,99.1 L1018.6,98.2 L1020.0,97.2 L1021.0,95.6 L1022.6,95.0 L1024.6,95.2 L1026.0,93.8 L1026.4,92.0 L1026.8,90.3 L1027.2,88.6 L1029.0,87.6 L1030.9,86.8 L1031.2,85.5 L1032.4,83.7 L1034.3,83.9 L1036.0,83.8 L1037.6,83.3 L1039.4,83.2 L1040.8,82.0 L1042.3,80.7 L1044.1,81.2 L1045.9,81.6 L1047.6,81.3 L1049.2,80.6 L1050.6,79.3 L1052.3,78.8 L1054.3,80.1 L1055.9,80.1 L1057.4,78.5 L1059.1,78.1 L1060.8,78.2 L1062.5,77.9 L1064.3,78.6 L1066.0,78.6 L1067.5,77.0 L1069.1,76.4 L1070.9,77.0 L1072.7,77.3 L1074.4,77.4 L1076.0,76.4 L1077.5,74.9 L1079.3,75.7 L1081.0,75.7 L1082.2,76.9 L1082.7,78.6 L1084.6,79.4 L1084.9,81.2 L1085.5,82.8 L1086.1,84.5 L1087.3,85.7 L1089.5,86.1 L1090.0,87.9 L1091.9,88.4 L1092.0,90.5 L1092.9,91.9 L1093.6,93.5 L1095.2,94.4 L1097.0,95.2 L1097.3,97.0 L1099.1,97.8 L1098.7,100.1 L1099.7,101.4 L1100.4,103.0 L1102.2,103.9 L1103.2,105.2 L1103.4,107.1 L1104.7,108.3 L1103.9,110.6 L1105.3,111.8 L1106.0,113.3 L1107.8,114.3 L1108.2,116.0 L1108.4,117.7 L1109.3,119.2 L1110.0,120.7 L1111.0,122.1 L1111.7,123.6 L1112.6,125.1 L1111.1,125.0 L1109.8,126.7 L1108.2,127.3 L1107.0,128.4 L1104.7,127.7 L1103.6,129.7 L1105.0,131.1 L1105.5,132.7 L1103.8,133.8 L1102.2,134.4 L1101.0,135.7 L1099.5,135.0 L1098.7,133.2 L1096.7,132.9 L1095.1,133.6 L1093.5,134.4 L1091.8,134.5 L1089.9,133.0 L1088.3,134.4 L1087.5,136.8 L1085.4,136.1 L1083.5,135.8 L1082.2,137.2 L1080.6,137.8 L1079.1,138.8 L1077.4,138.8 L1075.4,137.8 L1074.0,139.2 L1072.4,140.5 L1070.7,139.1 L1069.0,138.3 L1067.2,139.0 L1065.9,140.3 L1064.2,140.8 L1062.1,140.5 L1061.2,142.0 L1061.2,143.8 L1061.2,145.7 L1059.7,146.9 L1057.4,147.0 L1056.9,148.9 L1057.6,151.2 L1055.7,152.2 L1055.0,153.7 L1053.3,153.2 L1051.9,151.9 L1050.3,151.5 L1048.0,152.3 L1046.7,151.1 L1045.1,150.4 L1043.7,149.1 L1042.0,148.0 L1040.2,148.7 L1038.5,149.4 L1036.7,149.2 L1035.0,148.7 L1033.5,149.3 L1032.0,150.3 L1030.1,148.8 L1028.3,148.5 L1027.2,150.6 L1025.7,151.2 L1024.0,151.2 L1023.6,149.5 L1022.3,148.1 L1022.5,146.3 L1022.0,144.6 L1022.5,142.7 L1022.4,140.9 L1020.2,139.9 L1019.6,138.3 L1019.8,136.4 L1019.0,134.9 L1019.8,132.9 L1019.4,131.2 L1016.7,130.1 L1016.8,128.3 L1017.8,126.3 L1017.3,124.9 L1018.8,123.7 L1019.7,122.3 L1018.6,119.7 L1019.9,118.5 L1021.6,117.0 L1020.5,115.6 L1020.0,113.9 L1019.2,112.4 L1017.9,111.0 L1018.0,109.2 L1017.0,107.7 L1018.2,105.8 L1018.3,104.1 L1015.3,103.2 L1015.9,101.3 L1015.5,99.7Z" fill="#226d3b" stroke="#226d3b" stroke-width="0.6"/>
<path d="M1205.5,296.2 L1207.1,297.1 L1207.7,298.8 L1208.7,300.2 L1210.1,301.3 L1210.2,303.4 L1211.7,304.5 L1214.4,303.9 L1215.6,305.1 L1216.0,307.4 L1217.3,308.4 L1218.7,309.4 L1220.4,310.1 L1222.4,309.4 L1223.9,310.5 L1224.9,312.6 L1226.7,312.7 L1228.5,312.8 L1230.0,313.9 L1231.8,313.0 L1233.6,312.4 L1235.0,314.6 L1236.6,315.6 L1237.5,313.0 L1237.7,311.2 L1238.0,309.5 L1238.4,307.9 L1240.5,308.0 L1242.3,307.9 L1243.5,305.8 L1245.1,305.3 L1246.9,305.5 L1248.0,304.0 L1249.7,303.5 L1252.0,303.9 L1252.8,302.0 L1253.5,299.7 L1255.3,299.6 L1257.1,299.3 L1258.8,298.8 L1260.6,298.7 L1261.6,296.8 L1262.8,294.8 L1264.8,295.7 L1266.6,296.0 L1268.1,294.8 L1269.9,295.1 L1271.6,294.8 L1273.2,293.0 L1274.9,293.4 L1276.4,295.3 L1278.1,295.5 L1279.8,295.3 L1281.5,295.4 L1283.6,295.4 L1284.6,296.8 L1284.9,299.4 L1286.6,299.9 L1288.7,299.9 L1289.2,301.7 L1290.2,303.2 L1291.5,304.5 L1290.6,306.7 L1290.5,308.5 L1292.5,309.6 L1293.3,311.2 L1293.3,313.0 L1293.5,314.6 L1292.3,316.5 L1292.1,318.2 L1294.1,319.9 L1294.2,321.6 L1292.7,323.1 L1292.9,324.9 L1292.6,326.6 L1291.2,328.1 L1292.0,329.9 L1293.2,331.8 L1292.2,333.4 L1291.2,335.0 L1290.9,336.6 L1290.0,338.1 L1290.7,340.1 L1291.6,342.0 L1289.7,343.3 L1288.1,344.7 L1288.7,346.5 L1287.9,348.1 L1286.8,349.4 L1287.3,351.5 L1286.4,353.0 L1284.9,351.0 L1283.4,350.1 L1281.6,349.7 L1280.1,349.7 L1278.6,351.0 L1276.9,351.0 L1274.7,349.4 L1273.2,350.4 L1272.1,352.5 L1270.3,352.5 L1268.6,352.8 L1267.2,354.0 L1265.2,353.5 L1263.4,353.5 L1262.5,355.7 L1261.4,357.1 L1259.7,357.6 L1258.2,358.5 L1256.2,358.6 L1254.5,359.4 L1254.5,361.9 L1252.9,362.7 L1251.4,363.6 L1249.9,364.3 L1248.3,364.8 L1246.6,363.6 L1244.9,364.4 L1243.2,365.5 L1241.5,365.5 L1239.8,366.1 L1238.1,365.6 L1236.3,364.9 L1234.6,364.5 L1232.9,364.9 L1231.4,366.3 L1229.7,366.7 L1228.2,367.3 L1226.7,368.1 L1224.5,366.8 L1222.8,367.2 L1221.7,367.9 L1220.7,366.5 L1218.5,366.6 L1216.8,366.2 L1216.3,363.7 L1214.9,362.7 L1213.7,361.6 L1212.5,360.2 L1210.4,360.4 L1208.6,360.0 L1207.2,359.0 L1206.0,357.7 L1205.1,356.0 L1203.4,355.2 L1201.7,355.0 L1199.9,355.2 L1200.7,353.7 L1199.6,351.7 L1200.3,350.1 L1202.2,348.9 L1202.0,347.1 L1202.5,345.5 L1202.5,343.8 L1201.8,342.0 L1202.4,340.4 L1202.9,338.8 L1204.2,337.2 L1203.8,335.4 L1202.1,333.7 L1203.0,332.1 L1203.2,330.4 L1202.9,328.7 L1204.0,326.8 L1202.9,325.4 L1201.5,324.0 L1201.2,322.3 L1201.3,320.6 L1201.9,318.7 L1200.6,317.3 L1199.3,316.1 L1198.9,314.4 L1197.2,313.4 L1197.0,311.6 L1197.7,309.4 L1196.8,308.4 L1196.4,306.6 L1196.7,305.0 L1197.1,303.3 L1197.6,301.7 L1198.8,300.6 L1200.4,300.0 L1201.7,299.1 L1203.4,298.8 L1204.1,297.0 L1205.5,296.2Z" fill="#8cbd9d" stroke="#8cbd9d" stroke-width="0.6"/>
<path d="M812.0,317.2 L810.6,316.3 L809.3,315.1 L807.5,314.9 L805.5,314.9 L804.5,313.2 L803.2,312.0 L802.0,310.7 L799.7,311.3 L797.9,311.0 L797.2,309.0 L795.7,308.1 L794.6,306.7 L792.9,306.2 L791.2,305.6 L789.7,304.9 L788.1,304.5 L787.4,302.0 L785.7,301.5 L783.7,301.8 L781.9,301.5 L780.3,300.4 L780.3,298.2 L778.6,297.4 L777.5,296.0 L776.2,294.9 L774.2,294.5 L774.2,292.3 L774.3,290.5 L774.8,288.7 L773.2,287.3 L771.7,285.3 L773.4,283.9 L773.8,282.3 L774.7,280.7 L774.6,279.0 L774.0,277.3 L773.7,275.6 L772.7,274.1 L774.1,272.1 L773.8,270.1 L772.0,269.2 L770.7,267.9 L769.8,266.5 L770.4,264.2 L768.8,263.1 L767.4,262.1 L766.2,260.9 L764.2,260.6 L763.4,259.0 L762.7,257.3 L762.4,255.4 L760.9,254.4 L758.5,254.0 L758.6,251.9 L757.8,250.3 L756.8,248.9 L755.3,248.0 L753.5,247.5 L752.4,246.2 L750.6,245.2 L751.1,243.0 L750.9,241.2 L749.1,240.2 L747.8,239.0 L746.7,237.5 L747.7,235.4 L747.2,233.7 L746.0,232.3 L747.5,231.6 L748.3,229.7 L749.9,229.1 L751.6,228.6 L753.3,228.9 L755.0,228.4 L756.3,226.2 L758.3,226.8 L759.8,227.9 L761.3,228.8 L762.9,229.3 L764.7,228.8 L766.4,229.1 L768.1,228.3 L769.8,229.2 L771.5,229.2 L772.6,230.5 L774.8,230.6 L775.4,232.5 L776.2,234.0 L777.0,235.4 L778.5,236.4 L780.3,237.2 L781.1,238.7 L781.8,240.3 L782.4,242.4 L784.4,242.3 L786.1,242.8 L787.5,243.9 L789.0,244.6 L790.0,247.0 L791.8,246.3 L793.5,245.9 L795.2,246.1 L796.9,246.2 L798.4,247.9 L800.3,247.6 L801.8,246.6 L803.1,245.2 L804.9,245.2 L806.7,245.5 L808.3,245.0 L809.5,245.0 L811.8,244.0 L813.1,245.3 L814.2,246.8 L815.8,247.4 L816.6,249.0 L819.1,248.7 L820.3,249.9 L821.1,251.5 L822.5,252.8 L824.1,253.2 L826.0,252.3 L827.6,252.4 L829.3,252.5 L831.1,253.5 L832.7,252.9 L834.0,251.4 L835.6,251.0 L837.5,249.7 L838.8,251.7 L840.4,252.3 L842.3,251.6 L843.9,251.9 L845.8,251.5 L847.1,253.1 L848.6,254.1 L850.3,254.2 L852.0,253.8 L853.7,253.2 L855.4,254.1 L857.1,254.1 L858.8,254.8 L860.4,253.2 L862.1,252.5 L863.8,253.4 L865.5,253.2 L866.2,254.8 L867.0,256.3 L868.4,257.6 L866.9,259.9 L867.8,261.4 L869.8,262.3 L870.9,263.5 L872.1,264.8 L871.6,267.2 L873.1,268.3 L875.0,269.0 L874.8,271.1 L873.8,272.5 L871.9,273.6 L871.9,275.4 L872.0,277.3 L871.0,278.7 L869.5,279.6 L867.9,280.2 L866.3,280.9 L864.3,280.5 L863.0,282.5 L861.3,282.3 L859.9,280.4 L858.0,281.1 L856.5,280.2 L855.0,280.6 L853.8,281.9 L851.2,281.2 L850.7,283.5 L849.5,284.8 L847.6,284.9 L846.3,286.1 L844.5,286.5 L843.7,288.5 L842.0,289.0 L840.7,288.0 L838.6,288.7 L837.2,287.6 L835.4,287.4 L833.8,286.7 L832.8,284.6 L830.5,286.3 L828.9,285.9 L827.4,284.2 L825.6,284.8 L823.9,284.3 L822.1,284.9 L820.6,284.9 L818.7,284.6 L817.7,286.8 L815.9,287.0 L814.4,287.7 L812.9,288.4 L811.5,289.8 L813.1,292.1 L811.7,293.3 L810.6,295.1 L812.2,296.7 L811.8,298.5 L812.3,300.2 L812.0,301.9 L811.6,303.7 L813.4,305.2 L812.9,307.0 L812.8,308.7 L812.6,310.4 L812.1,312.0 L813.6,313.9 L812.0,315.5 L812.0,317.2Z" fill="#8cbd9d" stroke="#8cbd9d" stroke-width="0.6"/>
<path d="M1057.0,455.7 L1055.4,456.4 L1054.2,457.7 L1053.3,459.4 L1050.9,458.9 L1049.4,459.8 L1048.4,461.4 L1046.8,462.0 L1045.3,462.8 L1043.2,462.0 L1042.2,462.4 L1039.9,463.1 L1038.6,461.8 L1037.3,460.7 L1036.1,459.3 L1034.5,458.6 L1032.2,459.5 L1031.1,457.8 L1029.9,456.3 L1028.2,455.8 L1026.5,455.5 L1024.5,456.3 L1023.2,454.7 L1021.8,453.2 L1019.8,454.0 L1018.1,453.9 L1016.6,454.0 L1014.8,453.1 L1013.0,452.4 L1011.5,454.4 L1009.8,454.6 L1008.0,454.1 L1006.3,453.7 L1004.7,453.0 L1002.8,454.6 L1001.1,453.8 L999.5,453.2 L1000.1,451.6 L1000.0,449.8 L1001.1,448.3 L999.7,446.3 L1000.7,444.9 L1000.8,442.9 L998.4,442.3 L998.3,440.5 L997.1,439.2 L997.0,437.4 L997.7,435.6 L995.4,434.2 L996.0,432.4 L996.4,430.9 L996.7,429.2 L997.9,427.8 L997.3,425.7 L998.7,424.5 L1000.4,423.7 L1000.5,421.6 L1001.7,420.4 L1002.5,418.8 L1004.1,417.9 L1005.6,416.6 L1004.6,414.6 L1005.3,413.0 L1006.2,411.5 L1006.9,409.9 L1007.5,408.1 L1006.0,406.6 L1006.4,404.9 L1006.9,403.1 L1006.3,401.5 L1005.8,399.8 L1004.6,398.3 L1005.3,396.4 L1005.1,394.8 L1004.3,393.2 L1006.0,393.9 L1007.6,392.4 L1009.3,392.6 L1011.0,392.6 L1012.6,393.0 L1014.3,394.3 L1016.0,393.4 L1017.6,392.8 L1018.9,391.2 L1020.5,390.8 L1022.6,392.1 L1024.1,391.2 L1025.9,391.3 L1027.3,390.2 L1028.4,388.4 L1030.2,388.4 L1031.8,388.2 L1033.9,387.7 L1034.3,386.0 L1034.1,384.1 L1035.0,382.7 L1036.6,383.1 L1038.2,384.2 L1040.1,382.3 L1041.8,383.0 L1043.0,384.6 L1044.7,384.9 L1046.3,385.2 L1046.9,386.8 L1047.4,388.5 L1045.7,390.3 L1046.8,391.9 L1047.0,393.6 L1046.8,395.5 L1049.1,396.5 L1049.3,398.2 L1049.3,400.0 L1051.1,400.2 L1052.1,401.9 L1053.5,402.9 L1055.2,403.2 L1056.0,404.7 L1057.1,406.0 L1058.1,407.5 L1058.0,409.3 L1057.9,411.1 L1058.4,412.7 L1059.6,414.1 L1059.4,415.8 L1059.3,417.5 L1059.6,419.3 L1058.0,420.7 L1057.4,422.3 L1057.9,424.1 L1056.6,425.6 L1057.1,427.4 L1057.9,429.3 L1055.9,430.6 L1055.9,432.3 L1055.6,434.0 L1053.6,435.2 L1055.2,437.2 L1056.0,438.9 L1055.3,440.6 L1056.6,442.2 L1056.1,443.9 L1055.0,445.7 L1055.9,447.3 L1056.1,449.0 L1056.4,450.7 L1057.4,452.3 L1057.2,454.0 L1057.0,455.7Z" fill="#d9f2e3" stroke="#d9f2e3" stroke-width="0.6"/>
<path d="M936.9,299.6 L938.2,298.9 L939.6,298.3 L941.0,297.7 L942.8,297.6 L944.3,296.9 L945.6,295.6 L946.8,294.1 L948.7,293.8 L950.4,293.7 L952.2,295.2 L953.8,294.2 L955.6,294.5 L957.1,292.7 L958.8,292.5 L960.5,292.9 L962.2,293.1 L964.0,294.0 L965.6,293.0 L967.2,292.3 L968.8,291.3 L970.4,291.1 L972.2,291.1 L974.1,291.9 L975.5,290.6 L977.3,290.6 L978.4,288.2 L980.3,288.6 L982.0,288.6 L983.8,289.5 L985.5,290.0 L987.1,289.0 L988.8,288.6 L990.5,288.6 L990.4,290.3 L989.8,291.9 L990.7,293.8 L988.3,295.1 L988.0,296.8 L988.4,298.6 L988.7,300.3 L989.0,302.1 L986.6,303.4 L987.4,305.3 L986.4,306.9 L987.9,308.6 L987.3,310.3 L987.4,312.0 L987.8,313.7 L986.9,315.5 L988.1,317.1 L987.3,318.8 L988.9,320.6 L987.4,322.2 L986.9,323.8 L986.5,325.5 L986.9,327.3 L988.5,328.9 L986.8,330.7 L987.2,332.3 L986.1,334.1 L988.0,335.7 L987.8,337.4 L987.5,339.1 L987.5,340.8 L986.5,342.5 L987.6,344.2 L986.2,345.9 L987.9,347.6 L987.3,349.3 L987.3,351.0 L987.3,352.7 L985.8,353.5 L983.9,353.7 L983.1,355.7 L981.8,356.6 L980.7,358.0 L978.9,358.6 L977.4,359.5 L976.4,361.2 L976.1,362.9 L977.4,364.8 L976.2,366.4 L977.3,368.3 L975.5,369.9 L976.2,371.6 L976.2,373.3 L976.2,375.1 L976.5,377.3 L974.4,376.3 L973.3,378.4 L970.9,377.0 L969.4,377.8 L967.8,378.5 L966.2,378.9 L965.0,381.0 L963.1,380.5 L961.6,381.6 L959.6,380.8 L958.0,381.5 L956.3,381.5 L954.7,382.6 L953.0,382.7 L951.3,382.1 L950.4,380.4 L949.2,379.3 L948.3,377.7 L946.0,377.8 L944.9,376.5 L943.1,376.1 L942.0,374.7 L941.2,373.0 L941.6,371.3 L942.4,369.6 L942.3,367.9 L942.6,366.2 L941.1,364.5 L941.5,362.8 L942.4,361.0 L942.8,359.5 L943.4,357.9 L941.8,355.7 L943.0,354.3 L945.6,353.2 L944.2,351.1 L944.3,349.4 L944.7,347.7 L944.6,346.0 L946.5,344.5 L946.1,342.7 L945.3,340.9 L945.8,339.2 L946.5,337.6 L948.4,336.2 L947.1,334.2 L946.2,332.3 L948.6,331.1 L948.0,329.2 L948.0,327.5 L947.9,325.8 L946.0,324.3 L947.2,322.4 L948.0,320.6 L947.7,319.2 L947.6,317.4 L947.3,315.5 L949.7,314.4 L950.4,312.8 L947.9,312.4 L946.8,310.9 L945.0,310.7 L943.6,309.6 L942.8,307.4 L940.3,308.6 L938.6,308.2 L937.6,306.3 L936.0,305.7 L936.6,304.2 L936.3,302.6 L936.1,301.0 L936.9,299.6Z" fill="#226d3b" stroke="#226d3b" stroke-width="0.6"/>
<path d="M1102.5,247.7 L1104.0,246.8 L1105.8,246.7 L1107.2,245.7 L1109.1,246.1 L1110.7,245.4 L1112.1,244.3 L1113.9,244.5 L1115.3,242.9 L1116.9,242.4 L1119.0,243.7 L1120.4,243.3 L1122.1,243.4 L1123.8,243.3 L1125.6,242.2 L1127.1,243.4 L1128.9,243.4 L1130.3,242.1 L1132.2,242.4 L1133.7,241.5 L1135.0,240.2 L1136.8,240.2 L1138.3,239.1 L1140.1,239.3 L1142.4,239.2 L1142.5,237.1 L1143.1,235.4 L1144.7,234.5 L1145.9,233.1 L1147.9,233.4 L1149.3,233.3 L1151.1,232.7 L1152.6,234.0 L1154.4,233.7 L1156.3,232.9 L1157.8,234.1 L1159.4,234.7 L1160.8,235.7 L1162.5,236.0 L1161.0,236.9 L1160.0,238.7 L1157.5,237.5 L1156.0,238.5 L1154.6,239.3 L1154.0,241.7 L1152.5,242.4 L1150.5,242.5 L1148.8,242.9 L1147.5,244.6 L1147.9,246.7 L1146.9,248.1 L1147.6,249.4 L1146.3,251.4 L1147.0,253.0 L1146.3,254.9 L1148.7,256.1 L1148.8,257.7 L1150.0,259.0 L1148.8,261.5 L1150.1,262.8 L1151.3,264.1 L1153.2,265.0 L1153.5,266.8 L1153.4,268.7 L1154.0,270.3 L1154.6,271.9 L1156.5,272.9 L1157.0,274.5 L1158.7,275.3 L1158.2,277.9 L1159.6,279.0 L1160.1,280.7 L1163.0,280.6 L1163.5,282.4 L1164.5,283.8 L1164.2,286.3 L1165.3,286.8 L1165.5,288.6 L1165.9,290.1 L1165.4,291.9 L1165.5,293.6 L1164.3,294.8 L1163.5,296.2 L1163.9,298.2 L1162.9,299.5 L1162.9,301.2 L1161.1,302.2 L1159.9,303.4 L1159.9,305.1 L1159.4,306.7 L1157.9,305.7 L1156.2,305.5 L1154.7,304.7 L1153.4,303.5 L1151.0,304.5 L1149.9,302.8 L1149.0,300.8 L1146.9,301.4 L1145.2,300.9 L1143.6,300.4 L1141.7,300.8 L1140.9,298.9 L1139.6,297.8 L1137.2,297.8 L1136.6,296.0 L1135.6,294.6 L1134.0,293.8 L1132.8,292.4 L1130.7,292.7 L1129.0,292.3 L1127.9,290.4 L1126.3,290.1 L1124.5,290.0 L1122.8,289.8 L1120.8,289.6 L1120.1,287.8 L1119.0,286.3 L1117.1,286.0 L1115.7,285.1 L1114.2,284.3 L1113.0,282.9 L1112.0,281.3 L1110.0,281.3 L1108.3,280.6 L1107.5,279.0 L1106.3,277.8 L1105.6,276.1 L1104.1,275.1 L1101.9,274.9 L1101.6,272.8 L1100.8,271.3 L1099.4,270.2 L1099.0,268.6 L1099.9,266.8 L1099.0,265.2 L1098.6,263.5 L1098.4,261.9 L1098.1,260.3 L1097.1,258.4 L1098.9,257.0 L1099.7,255.4 L1099.3,253.6 L1101.2,252.7 L1101.3,250.9 L1101.3,249.0 L1102.5,247.7Z" fill="#3f8a57" stroke="#3f8a57" stroke-width="0.6"/>
<path d="M1195.3,172.7 L1195.5,174.4 L1196.0,176.0 L1196.1,177.8 L1198.2,178.9 L1198.4,180.6 L1199.0,182.2 L1198.9,184.0 L1198.4,186.1 L1201.0,186.9 L1201.0,188.7 L1202.3,190.0 L1202.4,191.9 L1201.5,193.9 L1202.6,195.3 L1203.1,196.9 L1205.0,198.2 L1204.3,200.2 L1204.1,201.9 L1203.7,203.6 L1203.0,205.3 L1205.4,207.0 L1204.5,208.7 L1204.3,210.4 L1203.2,211.9 L1202.1,213.4 L1202.8,215.3 L1202.4,217.0 L1203.0,219.0 L1200.8,220.0 L1200.2,221.6 L1200.0,223.3 L1199.1,224.8 L1200.5,227.2 L1198.6,228.3 L1197.7,229.8 L1196.7,231.2 L1196.6,233.1 L1198.1,234.8 L1197.6,236.5 L1197.5,238.2 L1195.8,238.1 L1194.0,237.8 L1192.3,237.7 L1190.3,239.0 L1188.8,238.2 L1187.7,236.7 L1186.1,235.9 L1185.1,234.1 L1182.8,235.7 L1182.4,238.3 L1180.4,238.3 L1178.5,238.5 L1177.3,239.0 L1175.8,237.8 L1173.8,238.6 L1171.9,239.1 L1170.9,238.2 L1170.1,239.7 L1168.6,240.8 L1167.0,242.1 L1168.4,244.5 L1168.2,246.3 L1166.5,247.0 L1166.2,245.3 L1166.7,243.5 L1166.2,241.8 L1164.3,240.4 L1164.2,239.0 L1163.5,237.4 L1162.5,236.0 L1162.2,234.3 L1161.6,232.8 L1162.5,231.0 L1161.5,229.4 L1159.9,227.9 L1159.9,226.4 L1158.8,225.1 L1159.9,222.7 L1158.6,221.4 L1158.1,219.8 L1155.9,219.0 L1155.2,217.5 L1154.7,215.8 L1154.9,213.8 L1154.4,212.2 L1153.1,211.1 L1152.1,209.6 L1150.7,208.2 L1151.9,206.2 L1151.2,204.6 L1152.4,202.5 L1150.2,201.4 L1149.9,199.7 L1148.8,198.2 L1148.8,196.5 L1150.3,194.5 L1148.9,193.0 L1149.8,191.1 L1146.7,190.1 L1147.4,188.2 L1146.7,186.6 L1147.2,184.8 L1146.5,183.2 L1145.5,181.7 L1144.3,180.3 L1144.7,178.3 L1144.3,176.6 L1144.8,174.8 L1144.0,173.2 L1145.7,173.5 L1147.3,172.6 L1149.0,172.6 L1150.6,171.5 L1152.4,172.1 L1154.2,172.6 L1155.8,172.2 L1157.3,170.9 L1158.9,170.0 L1160.9,171.0 L1162.3,170.1 L1163.9,169.4 L1164.6,167.4 L1166.3,167.0 L1167.4,165.5 L1169.5,165.6 L1170.2,164.7 L1171.7,165.6 L1173.8,165.6 L1174.7,167.1 L1175.3,169.1 L1177.0,169.8 L1178.8,170.0 L1180.7,170.0 L1181.7,171.6 L1183.3,172.3 L1184.0,174.2 L1186.0,174.4 L1187.3,175.3 L1188.5,173.8 L1190.6,174.7 L1192.4,174.5 L1193.8,173.4 L1195.3,172.7Z" fill="#8cbd9d" stroke="#8cbd9d" stroke-width="0.6"/>
<path d="M1075.5,386.7 L1079.7,381.9 L1084.5,380.7 L1088.0,387.2 L1093.0,391.7 L1089.0,395.2 L1085.5,397.7 L1080.0,394.2 L1074.8,390.7Z" fill="#d9f2e3"/>
</g>
<g fill="none" stroke="#1d3a29" stroke-width="0.85" stroke-dasharray="3.6 1.6" stroke-linejoin="round">
<path d="M861.5,104.7 L861.3,102.9 L863.1,101.6 L863.3,99.9 L862.5,97.9 L863.3,96.3 L864.6,95.1 L866.5,95.0 L868.2,94.5 L868.8,92.0 L870.6,91.6 L872.5,91.7 L873.7,90.7 L875.4,91.0 L877.2,90.4 L878.8,91.2 L880.3,92.7 L882.2,92.3 L883.3,90.9 L884.7,89.8 L886.5,89.5 L888.3,89.2 L889.2,87.3 L890.4,86.1 L892.0,85.4 L893.5,84.5 L895.0,83.7 L895.3,81.5 L896.3,80.1 L898.6,79.9 L899.5,78.4 L900.7,77.2 L901.7,75.8 L902.6,74.2 L905.1,74.5 L906.2,73.1 L907.0,71.2 L908.9,71.4 L910.6,70.8 L912.3,70.7 L913.6,69.2 L912.7,66.9 L914.1,65.7 L914.8,65.0 L916.6,64.8 L918.3,65.2 L920.1,65.2 L921.6,66.2 L922.2,67.5 L923.8,68.5 L925.2,69.8 L925.7,71.4 L926.4,73.1 L927.9,74.0 L929.9,73.3 L931.6,73.6 L933.0,74.8 L934.7,75.2"/>
<path d="M934.7,75.2 L936.0,74.0 L936.8,72.2 L938.4,72.3 L939.9,73.6 L941.6,74.0 L943.3,74.1 L945.1,74.1 L946.9,74.4 L947.4,76.7 L948.8,77.8 L951.3,76.8 L952.3,78.4 L953.8,80.1 L955.3,79.0 L957.0,78.8 L958.5,77.9 L960.2,77.4 L961.5,78.7 L963.3,78.7 L965.5,78.0 L966.7,79.4 L967.9,81.0 L969.7,81.2 L971.5,81.0 L973.0,81.8 L974.5,82.8 L975.9,83.7 L977.8,83.6 L978.6,81.5 L980.3,81.1 L982.7,81.8 L983.3,79.6 L984.4,78.1 L986.5,78.7 L988.1,78.3 L989.8,78.5 L991.5,78.1 L993.1,76.6 L994.6,78.4 L995.5,80.1 L997.7,79.7 L999.4,80.4 L999.6,82.6 L999.9,84.3 L1001.2,85.5 L1002.4,86.8 L1003.2,88.1 L1004.1,89.7 L1004.7,91.4 L1006.7,91.8 L1008.7,92.2 L1008.5,94.9 L1009.7,96.1 L1012.0,96.0 L1013.0,97.5 L1014.2,98.6 L1015.5,99.7"/>
<path d="M1015.5,99.7 L1017.1,99.1 L1018.6,98.2 L1020.0,97.2 L1021.0,95.6 L1022.6,95.0 L1024.6,95.2 L1026.0,93.8 L1026.4,92.0 L1026.8,90.3 L1027.2,88.6 L1029.0,87.6 L1030.9,86.8 L1031.2,85.5 L1032.4,83.7 L1034.3,83.9 L1036.0,83.8 L1037.6,83.3 L1039.4,83.2 L1040.8,82.0 L1042.3,80.7 L1044.1,81.2 L1045.9,81.6 L1047.6,81.3 L1049.2,80.6 L1050.6,79.3 L1052.3,78.8 L1054.3,80.1 L1055.9,80.1 L1057.4,78.5 L1059.1,78.1 L1060.8,78.2 L1062.5,77.9 L1064.3,78.6 L1066.0,78.6 L1067.5,77.0 L1069.1,76.4 L1070.9,77.0 L1072.7,77.3 L1074.4,77.4 L1076.0,76.4 L1077.5,74.9 L1079.3,75.7 L1081.0,75.7"/>
<path d="M1081.0,75.7 L1081.5,73.9 L1083.2,73.1 L1084.2,71.7 L1085.7,70.7 L1085.1,68.2 L1086.0,66.8 L1088.5,66.3 L1088.9,64.6 L1089.6,63.0 L1088.9,60.7 L1090.4,59.6 L1092.9,59.0 L1093.2,57.7 L1094.6,56.7 L1095.8,55.3 L1097.9,55.8 L1100.0,56.4 L1100.8,53.9 L1102.3,53.2 L1103.7,52.3 L1105.8,52.5 L1107.6,52.3 L1108.6,49.8 L1110.3,50.4 L1112.0,50.4 L1113.7,51.2 L1115.4,51.6 L1117.1,49.7 L1118.6,51.5 L1120.0,52.5 L1120.9,54.1 L1122.1,55.3 L1124.7,54.9 L1125.2,56.9 L1126.2,58.3 L1126.9,59.9 L1128.4,60.9 L1131.0,60.9 L1130.8,63.3 L1131.4,64.9 L1132.5,66.2 L1134.3,67.0 L1136.4,67.5 L1135.3,70.3 L1135.9,71.9 L1137.4,73.0 L1138.8,74.2 L1140.0,75.6 L1138.5,78.2 L1139.9,79.3 L1141.6,80.5 L1142.2,82.1 L1142.8,83.7 L1141.6,86.0 L1143.6,87.0 L1145.1,88.2 L1145.1,90.1 L1145.7,91.6 L1145.1,93.7 L1147.2,94.7 L1148.3,96.3 L1147.8,98.1 L1148.2,99.8 L1147.4,101.6 L1149.3,103.0 L1150.1,104.5 L1149.6,106.4 L1150.2,108.0 L1150.8,109.6"/>
<path d="M1150.8,109.6 L1152.2,110.7 L1153.3,112.0 L1154.1,113.5 L1155.3,114.8 L1154.6,117.4 L1157.1,117.7 L1158.6,118.8 L1159.0,120.5 L1160.6,121.6 L1159.5,124.2 L1161.1,125.2 L1163.2,126.0 L1163.4,127.8 L1165.3,128.4 L1164.9,131.0 L1165.9,132.4 L1168.3,132.6 L1168.9,134.3 L1170.9,134.8 L1171.1,137.0 L1170.9,139.0 L1173.4,139.5 L1173.9,141.2 L1175.6,142.1 L1176.2,143.8 L1175.4,146.3 L1177.7,146.8 L1178.9,148.1 L1180.6,148.8 L1182.1,149.7 L1181.7,152.5 L1183.5,153.1 L1184.9,154.1 L1186.4,155.1 L1188.4,155.5 L1188.1,158.2 L1189.3,159.4 L1190.9,160.2 L1191.9,161.5 L1194.0,162.4 L1193.3,164.6 L1193.4,166.4 L1194.6,167.7 L1194.7,169.3 L1195.9,171.0 L1195.3,172.7"/>
<path d="M1195.3,172.7 L1195.5,174.4 L1196.0,176.0 L1196.1,177.8 L1198.2,178.9 L1198.4,180.6 L1199.0,182.2 L1198.9,184.0 L1198.4,186.1 L1201.0,186.9 L1201.0,188.7 L1202.3,190.0 L1202.4,191.9 L1201.5,193.9 L1202.6,195.3 L1203.1,196.9 L1205.0,198.2 L1204.3,200.2 L1204.1,201.9 L1203.7,203.6 L1203.0,205.3 L1205.4,207.0 L1204.5,208.7 L1204.3,210.4 L1203.2,211.9 L1202.1,213.4 L1202.8,215.3 L1202.4,217.0 L1203.0,219.0 L1200.8,220.0 L1200.2,221.6 L1200.0,223.3 L1199.1,224.8 L1200.5,227.2 L1198.6,228.3 L1197.7,229.8 L1196.7,231.2 L1196.6,233.1 L1198.1,234.8 L1197.6,236.5 L1197.5,238.2"/>
<path d="M1197.5,238.2 L1197.1,239.9 L1196.2,241.6 L1198.3,243.4 L1198.0,245.1 L1196.7,246.8 L1197.8,248.4 L1197.5,250.2 L1197.0,251.9 L1199.2,253.4 L1199.4,255.1 L1197.8,257.0 L1198.7,258.6 L1199.5,260.2 L1199.7,261.9 L1201.4,263.2 L1201.6,264.9 L1200.8,266.8 L1201.3,268.5 L1201.9,270.1 L1202.6,271.7 L1202.6,273.7 L1201.0,274.9 L1200.1,276.4 L1200.1,278.2 L1199.2,279.7 L1199.5,281.6 L1199.3,283.4 L1197.4,285.2 L1198.7,286.4 L1200.7,287.1 L1200.9,289.0 L1202.3,290.2 L1203.7,291.3 L1202.9,293.9 L1204.4,294.8 L1205.5,296.2"/>
<path d="M1205.5,296.2 L1207.1,297.1 L1207.7,298.8 L1208.7,300.2 L1210.1,301.3 L1210.2,303.4 L1211.7,304.5 L1214.4,303.9 L1215.6,305.1 L1216.0,307.4 L1217.3,308.4 L1218.7,309.4 L1220.4,310.1 L1222.4,309.4 L1223.9,310.5 L1224.9,312.6 L1226.7,312.7 L1228.5,312.8 L1230.0,313.9 L1231.8,313.0 L1233.6,312.4 L1235.0,314.6 L1236.6,315.6 L1237.5,313.0 L1237.7,311.2 L1238.0,309.5 L1238.4,307.9 L1240.5,308.0 L1242.3,307.9 L1243.5,305.8 L1245.1,305.3 L1246.9,305.5 L1248.0,304.0 L1249.7,303.5 L1252.0,303.9 L1252.8,302.0 L1253.5,299.7 L1255.3,299.6 L1257.1,299.3 L1258.8,298.8 L1260.6,298.7 L1261.6,296.8 L1262.8,294.8 L1264.8,295.7 L1266.6,296.0 L1268.1,294.8 L1269.9,295.1 L1271.6,294.8 L1273.2,293.0 L1274.9,293.4 L1276.4,295.3 L1278.1,295.5 L1279.8,295.3 L1281.5,295.4 L1283.6,295.4 L1284.6,296.8 L1284.9,299.4 L1286.6,299.9 L1288.7,299.9 L1289.2,301.7 L1290.2,303.2 L1291.5,304.5 L1290.6,306.7 L1290.5,308.5 L1292.5,309.6 L1293.3,311.2 L1293.3,313.0 L1293.5,314.6 L1292.3,316.5 L1292.1,318.2 L1294.1,319.9 L1294.2,321.6 L1292.7,323.1 L1292.9,324.9 L1292.6,326.6 L1291.2,328.1 L1292.0,329.9 L1293.2,331.8 L1292.2,333.4 L1291.2,335.0 L1290.9,336.6 L1290.0,338.1 L1290.7,340.1 L1291.6,342.0 L1289.7,343.3 L1288.1,344.7 L1288.7,346.5 L1287.9,348.1 L1286.8,349.4 L1287.3,351.5 L1286.4,353.0 L1284.9,351.0 L1283.4,350.1 L1281.6,349.7 L1280.1,349.7 L1278.6,351.0 L1276.9,351.0 L1274.7,349.4 L1273.2,350.4 L1272.1,352.5 L1270.3,352.5 L1268.6,352.8 L1267.2,354.0 L1265.2,353.5 L1263.4,353.5 L1262.5,355.7 L1261.4,357.1 L1259.7,357.6 L1258.2,358.5 L1256.2,358.6 L1254.5,359.4 L1254.5,361.9 L1252.9,362.7"/>
<path d="M1252.9,362.7 L1252.5,364.4 L1251.4,365.8 L1250.8,367.4 L1250.3,369.0 L1251.1,371.1 L1250.3,372.6 L1250.1,374.4 L1249.2,375.9 L1247.1,376.9 L1247.3,378.8 L1246.2,380.1 L1246.0,381.9 L1246.5,384.1 L1244.8,385.1 L1244.2,386.7 L1242.6,387.9 L1241.4,389.1 L1241.1,390.9 L1240.5,392.5 L1240.6,394.5 L1239.3,395.8 L1238.3,397.1 L1236.9,398.3 L1235.0,399.1 L1235.3,401.3 L1235.6,403.0 L1236.5,404.5 L1237.7,406.0 L1236.4,408.0 L1236.9,409.7 L1236.7,411.5 L1237.0,413.1 L1238.3,414.7 L1238.1,416.4 L1238.2,418.2 L1236.9,419.7 L1236.3,421.3 L1235.9,423.0 L1235.2,424.7 L1236.8,426.5 L1236.5,428.2 L1236.4,429.9 L1236.5,431.6 L1234.5,433.2 L1234.9,434.9 L1234.8,436.6 L1234.9,438.3 L1235.9,440.2 L1235.1,441.8 L1234.7,443.5 L1233.4,445.0 L1233.6,445.9 L1232.0,446.7 L1230.3,447.0 L1228.9,448.9 L1227.1,448.6 L1225.3,448.1 L1223.7,447.8 L1222.3,445.9 L1220.4,446.8 L1218.6,446.9 L1216.9,446.5 L1215.0,446.8 L1213.8,445.2 L1212.2,444.4 L1210.9,443.3 L1209.3,442.8 L1207.3,442.9 L1205.8,442.1 L1203.8,442.2 L1202.9,440.4 L1201.6,439.1 L1199.9,438.7 L1198.7,437.1 L1196.4,437.5 L1195.8,435.8 L1196.0,434.1 L1195.4,432.6 L1196.3,430.5 L1195.9,428.9 L1195.3,427.3 L1193.3,426.7 L1191.4,427.0 L1190.3,426.0 L1189.2,427.3 L1187.0,427.3 L1185.5,428.1 L1184.6,429.3 L1182.9,428.8 L1181.2,430.5 L1179.4,428.6 L1179.3,426.6 L1178.2,425.3 L1177.0,423.6 L1175.2,424.0 L1173.5,424.6 L1171.7,424.9 L1170.0,425.2 L1168.4,423.9 L1166.7,423.5 L1165.2,422.2 L1163.5,422.1 L1161.6,423.1 L1160.0,422.3 L1158.0,421.6 L1157.7,419.7 L1157.4,417.8 L1156.0,416.7"/>
<path d="M1156.0,416.7 L1154.3,416.4 L1152.8,415.2 L1150.8,416.5 L1149.2,415.9 L1147.6,415.3 L1145.9,414.7 L1144.2,414.6 L1142.4,415.4 L1140.8,414.0 L1139.1,414.1 L1137.4,413.8 L1135.7,414.6 L1133.9,414.5 L1132.2,413.7 L1130.5,414.3 L1128.8,414.3 L1127.4,415.6 L1125.5,415.2 L1123.9,415.8 L1122.3,416.6 L1120.7,417.0 L1119.1,417.9 L1117.2,417.3 L1115.7,418.4 L1114.0,418.6 L1112.5,419.4 L1110.7,419.6 L1108.9,419.5 L1107.6,421.0 L1105.9,421.2 L1104.5,422.3 L1102.5,422.0 L1101.1,423.0 L1099.5,423.7"/>
<path d="M1099.5,423.7 L1098.1,424.8 L1095.9,423.8 L1094.9,425.7 L1092.9,425.5 L1092.0,427.5 L1090.7,428.7 L1088.7,428.5 L1087.5,429.8 L1085.0,429.1 L1084.4,431.1 L1083.1,432.0 L1082.2,433.6 L1081.7,435.6 L1079.4,435.5 L1078.7,437.2 L1076.3,437.2 L1075.5,438.8 L1074.8,440.5 L1073.6,441.6 L1073.4,443.8 L1071.1,443.9 L1070.1,445.3 L1068.2,445.8 L1067.0,446.9 L1066.8,449.1 L1065.3,450.0 L1064.7,452.1 L1062.6,451.9 L1061.0,452.6 L1059.5,453.4 L1058.1,454.3 L1057.0,455.7"/>
<path d="M1057.0,455.7 L1055.4,456.4 L1054.2,457.7 L1053.3,459.4 L1050.9,458.9 L1049.4,459.8 L1048.4,461.4 L1046.8,462.0 L1045.3,462.8 L1043.2,462.0 L1042.2,462.4 L1039.9,463.1 L1038.6,461.8 L1037.3,460.7 L1036.1,459.3 L1034.5,458.6 L1032.2,459.5 L1031.1,457.8 L1029.9,456.3 L1028.2,455.8 L1026.5,455.5 L1024.5,456.3 L1023.2,454.7 L1021.8,453.2 L1019.8,454.0 L1018.1,453.9 L1016.6,454.0 L1014.8,453.1 L1013.0,452.4 L1011.5,454.4 L1009.8,454.6 L1008.0,454.1 L1006.3,453.7 L1004.7,453.0 L1002.8,454.6 L1001.1,453.8 L999.5,453.2"/>
<path d="M999.5,453.2 L997.8,452.9 L996.3,451.4 L994.4,452.7 L992.7,452.6 L991.4,453.3 L989.6,453.2 L987.5,451.9 L986.2,453.6 L984.7,454.6 L983.0,454.7 L981.6,456.0 L979.7,455.3 L978.0,455.7 L976.5,456.5 L974.7,456.4 L973.1,458.1 L971.4,457.8 L970.0,455.8 L968.2,456.2 L966.5,456.2"/>
<path d="M966.5,456.2 L964.8,455.8 L963.4,454.8 L962.4,452.6 L960.3,453.3 L958.5,453.3 L956.7,453.4 L955.1,452.7 L954.0,450.7 L952.2,450.7 L950.8,449.4 L949.2,449.0 L947.2,449.7 L945.6,449.1 L943.7,449.1 L942.7,446.9 L941.3,445.6 L939.3,446.2 L937.7,445.7 L935.8,446.3 L934.3,445.4 L932.7,444.6 L931.1,444.3 L929.7,442.3 L927.9,442.8 L926.1,443.2 L924.3,443.6 L922.5,443.6 L921.1,441.5 L919.4,441.7 L917.7,441.7 L916.0,441.6 L914.3,442.8 L912.6,442.6 L911.1,443.5 L909.2,442.8 L907.2,441.6 L905.8,443.0 L904.2,443.6 L902.7,445.1 L900.8,444.8 L899.2,443.6 L897.4,443.9 L895.9,442.3 L894.5,442.4 L892.6,442.2 L890.9,441.7 L889.0,441.6 L888.6,439.0 L889.2,438.2 L889.2,436.4 L889.7,434.8 L889.0,432.6 L890.3,431.4 L890.9,429.8 L892.1,428.5 L894.6,428.1 L894.9,426.3 L895.6,424.8 L895.8,422.7 L896.8,421.3 L899.1,421.1 L899.9,419.5 L901.0,418.2"/>
<path d="M901.0,418.2 L899.2,418.4 L897.6,418.0 L895.9,417.7 L894.3,416.7 L892.7,416.8 L891.1,416.0 L889.4,415.5 L888.8,413.4 L887.6,412.2 L885.7,411.8 L883.8,411.1 L883.5,409.2 L882.8,407.6 L881.5,406.5 L880.1,405.4 L878.8,404.2 L878.3,402.4 L877.4,400.8 L875.8,400.1 L873.7,399.9 L873.0,398.0 L872.3,396.6 L871.5,395.1 L869.7,394.1 L869.4,392.3 L868.6,390.8 L869.1,388.8 L867.8,387.5 L866.9,385.9 L867.4,383.9 L869.9,384.5 L870.8,382.8 L871.9,381.5 L872.8,379.9 L875.0,379.8 L875.5,378.0 L876.8,376.7 L876.1,374.5 L877.2,373.2 L876.4,372.0 L876.1,369.9 L873.6,369.9 L872.7,368.5 L871.6,367.1 L871.1,365.1 L869.2,364.6 L868.1,363.3 L867.1,362.9 L865.2,362.5 L863.5,362.8 L861.9,363.6 L860.7,365.4 L858.9,365.2 L857.2,365.8 L856.0,367.1 L855.4,368.6 L854.7,370.1 L853.8,371.7 L852.8,373.1 L852.6,374.9 L853.3,376.8 L852.6,378.4 L851.4,379.9 L851.1,381.6 L851.2,383.6 L849.5,384.0 L848.0,383.7 L847.4,381.9 L845.8,381.1 L844.7,379.7 L843.6,378.2 L844.3,376.2 L843.5,374.7"/>
<path d="M843.5,374.7 L842.8,373.1 L842.4,371.4 L839.8,371.2 L839.1,369.6 L838.3,368.0 L836.6,367.6 L835.1,366.3 L833.1,368.1 L831.4,367.9 L829.7,367.8 L828.1,367.2 L826.9,365.0 L824.9,365.7 L823.3,365.1 L821.3,365.7 L819.7,365.2 L819.3,362.9 L817.9,361.7 L817.7,359.8 L815.4,359.3 L814.0,358.2 L813.4,357.0 L811.7,356.8 L810.5,354.6 L808.5,355.4 L806.7,355.6 L805.0,355.4 L803.3,353.8 L804.6,351.3 L803.4,350.0 L803.3,349.6 L804.6,348.3 L805.9,346.6 L808.0,347.7 L809.5,346.8 L811.6,346.7 L812.5,345.1 L812.9,342.8 L814.1,342.7 L812.6,341.8 L813.0,339.2 L811.8,338.0 L810.0,337.3 L808.5,336.5 L806.3,337.1 L805.6,334.7 L804.5,334.4 L805.6,333.0 L806.4,331.6 L805.6,329.0 L807.4,328.2 L808.2,326.6 L810.0,325.6 L811.0,324.1 L809.8,321.9 L810.8,320.4 L810.8,318.6 L812.0,317.2"/>
<path d="M812.0,317.2 L810.6,316.3 L809.3,315.1 L807.5,314.9 L805.5,314.9 L804.5,313.2 L803.2,312.0 L802.0,310.7 L799.7,311.3 L797.9,311.0 L797.2,309.0 L795.7,308.1 L794.6,306.7 L792.9,306.2 L791.2,305.6 L789.7,304.9 L788.1,304.5 L787.4,302.0 L785.7,301.5 L783.7,301.8 L781.9,301.5 L780.3,300.4 L780.3,298.2 L778.6,297.4 L777.5,296.0 L776.2,294.9 L774.2,294.5 L774.2,292.3 L774.3,290.5 L774.8,288.7 L773.2,287.3 L771.7,285.3 L773.4,283.9 L773.8,282.3 L774.7,280.7 L774.6,279.0 L774.0,277.3 L773.7,275.6 L772.7,274.1 L774.1,272.1 L773.8,270.1 L772.0,269.2 L770.7,267.9 L769.8,266.5 L770.4,264.2 L768.8,263.1 L767.4,262.1 L766.2,260.9 L764.2,260.6 L763.4,259.0 L762.7,257.3 L762.4,255.4 L760.9,254.4 L758.5,254.0 L758.6,251.9 L757.8,250.3 L756.8,248.9 L755.3,248.0 L753.5,247.5 L752.4,246.2 L750.6,245.2 L751.1,243.0 L750.9,241.2 L749.1,240.2 L747.8,239.0 L746.7,237.5 L747.7,235.4 L747.2,233.7 L746.0,232.3 L747.5,231.6 L748.3,229.7 L749.9,229.1 L751.6,228.6 L753.3,228.9 L755.0,228.4 L756.3,226.2 L758.3,226.8 L759.8,227.9 L761.3,228.8 L762.9,229.3 L764.7,228.8 L766.4,229.1 L768.1,228.3 L769.8,229.2 L771.5,229.2"/>
<path d="M771.5,229.2 L772.6,227.7 L772.4,225.9 L772.6,224.1 L773.7,222.8 L775.2,221.6 L777.3,223.3 L778.6,221.3 L780.4,221.4 L781.7,219.2 L783.6,220.1 L785.3,220.1 L787.2,220.4 L788.6,219.1 L790.1,218.1 L790.8,216.5 L793.3,217.1 L794.4,215.7 L796.8,216.1 L796.8,213.3 L797.9,212.4 L798.3,210.7 L799.9,209.6 L801.8,208.7 L801.8,206.7 L802.4,205.1 L801.9,203.0 L803.3,201.8 L804.8,200.7 L806.1,199.4 L806.2,197.6 L806.0,195.7 L805.4,193.8 L807.6,192.6 L807.5,190.8 L808.0,189.2"/>
<path d="M808.0,189.2 L809.7,188.6 L810.7,187.1 L811.4,185.2 L813.5,185.1 L814.7,183.9 L815.8,182.4 L815.3,180.5 L814.3,178.6 L816.3,177.5 L817.5,176.2 L818.5,174.9 L820.3,174.2 L820.4,171.9 L821.9,170.9 L823.8,170.4 L824.6,168.8 L825.9,167.6 L825.5,165.3 L826.4,163.9 L828.9,163.5 L829.0,161.5 L830.0,160.1 L830.7,158.5 L830.4,156.4 L832.4,155.5 L833.4,154.1 L833.9,152.5 L834.6,150.9 L834.0,148.7 L836.1,147.8 L837.7,146.7 L837.2,144.6 L838.4,143.2 L838.6,141.4 L839.1,139.8 L841.2,138.9 L841.4,137.1 L842.0,135.5 L842.2,133.7 L842.4,131.9 L845.1,131.3 L845.4,129.5 L845.0,127.4 L846.4,126.2 L846.4,124.3 L847.8,123.1 L849.3,121.9 L849.0,119.9 L849.9,118.4 L849.9,116.5 L851.2,115.3 L853.6,114.5 L852.7,112.2 L853.1,110.5 L854.5,109.3 L855.3,107.5 L857.4,107.9 L858.7,106.7 L859.9,105.3 L861.5,104.7"/>
<path d="M861.5,104.7 L862.5,106.2 L862.1,108.1 L861.4,110.2 L864.0,111.0 L865.3,112.2 L866.0,113.8 L868.1,114.4 L868.0,116.6 L867.8,119.2 L870.1,119.3 L871.5,120.4 L872.7,121.6 L874.8,121.6 L875.5,123.5 L876.0,125.8 L877.7,126.3 L879.0,127.5 L880.8,128.0 L882.0,129.2"/>
<path d="M882.0,129.2 L883.3,128.0 L884.8,127.4 L886.2,126.4 L887.8,125.8 L889.3,125.4 L891.0,126.3 L892.7,124.1 L894.3,124.6 L896.0,126.0 L897.8,125.3 L899.1,124.3 L900.5,123.3 L902.2,122.8 L903.8,121.5 L905.2,123.1 L907.0,122.7"/>
<path d="M934.7,75.2 L935.4,76.8 L937.4,77.4 L938.0,79.1 L938.5,80.8 L939.4,82.3 L940.2,83.8 L942.7,84.3 L942.0,86.2 L941.0,87.6 L939.3,88.4 L938.8,90.2 L938.2,92.5 L935.8,91.7 L934.7,93.1 L932.6,92.7 L931.9,95.1 L929.8,95.2 L928.3,93.8 L926.5,94.0 L924.9,92.8 L923.1,94.9 L921.4,94.0 L920.0,94.3 L919.3,95.9 L919.0,97.6 L921.0,97.3 L922.4,98.7 L924.0,99.3 L925.5,100.3 L926.6,100.8 L927.6,102.3 L926.2,103.9 L924.4,104.2 L923.0,105.2 L922.3,106.6 L923.0,108.2 L922.9,109.9 L921.5,110.3 L920.5,112.1 L919.1,113.0 L917.1,113.1 L916.5,111.2 L915.7,109.6 L913.5,109.5 L912.5,109.9 L912.1,112.0 L909.4,111.7 L908.6,113.4 L908.2,115.1 L907.3,116.6 L907.0,118.4 L904.8,119.8 L906.6,121.0 L907.0,122.7"/>
<path d="M907.0,122.7 L908.7,123.2 L910.5,123.3 L912.2,122.1 L913.9,121.8 L915.6,122.3 L917.3,122.5 L919.0,123.2 L920.4,124.1 L922.4,123.3 L924.3,123.1 L925.7,124.2 L927.4,124.6 L928.8,125.8 L930.0,127.5 L932.0,127.0 L934.0,126.6 L935.4,127.8 L937.1,128.2 L938.6,129.1 L939.6,131.3 L941.5,131.2 L943.6,130.4 L945.0,131.5 L946.8,131.6 L948.5,131.9 L949.8,133.8 L951.6,133.6"/>
<path d="M951.6,133.6 L952.9,132.3 L955.5,133.6 L956.3,131.5 L957.5,129.9 L959.4,129.8 L960.8,128.8 L962.6,128.5"/>
<path d="M962.6,128.5 L964.2,127.6 L964.5,125.6 L966.5,125.1 L966.1,122.3 L968.6,122.4 L970.0,121.4 L970.6,119.5 L971.9,118.4 L973.2,117.1 L975.3,117.4 L976.7,116.4 L978.2,115.5 L979.3,113.4 L981.6,115.1 L982.9,113.5 L984.8,113.8 L986.1,112.2 L988.1,111.7 L989.4,113.9 L991.3,113.3 L992.9,113.7 L994.8,113.2 L996.4,114.3 L997.9,113.4 L999.8,113.7 L1000.6,110.9 L1002.7,111.7 L1004.5,111.7 L1006.1,111.2 L1007.9,111.4 L1009.3,109.4 L1011.3,110.8 L1013.0,110.4 L1014.7,110.2 L1016.2,109.0 L1018.0,109.2"/>
<path d="M1015.5,99.7 L1015.9,101.3 L1015.3,103.2 L1018.3,104.1 L1018.2,105.8 L1017.0,107.7 L1018.0,109.2"/>
<path d="M882.0,129.2 L881.4,130.8 L881.5,132.6 L881.1,134.3 L879.1,135.4 L878.9,137.1 L878.4,138.7 L879.6,140.9 L878.1,142.2 L876.4,143.9 L877.5,145.5 L877.7,147.2 L879.0,148.8 L877.9,150.6 L878.4,152.4 L879.5,153.7 L881.5,154.2 L883.0,155.2 L882.2,157.8 L883.7,159.0 L884.4,160.5 L886.0,161.5 L886.5,163.2"/>
<path d="M951.6,133.6 L951.1,135.3 L950.3,136.9 L948.2,137.5 L947.0,138.8 L946.2,140.1 L944.9,141.2 L943.8,142.8 L941.9,142.9 L939.4,142.9 L939.2,145.0 L939.2,147.2 L937.4,147.9 L936.2,149.2 L934.7,150.1 L932.8,150.5 L932.9,153.1 L932.4,155.1 L929.6,154.7 L928.5,156.3 L928.7,158.2 L927.7,159.7 L928.5,161.8 L928.1,163.4 L924.8,163.0 L923.9,164.6 L923.8,167.2 L921.9,167.6 L920.6,168.7 L918.9,169.2 L917.6,167.2 L915.6,168.4 L915.1,170.0 L912.6,169.5 L910.9,170.1 L909.9,171.7 L908.8,171.2 L906.7,171.5 L904.9,171.3 L904.5,168.5 L903.1,167.4 L900.8,168.1 L899.2,167.3 L897.8,166.5 L896.4,165.4 L895.5,163.4 L893.4,163.5 L891.5,165.0 L889.8,164.3 L888.2,163.2 L886.5,163.2"/>
<path d="M886.5,163.2 L886.1,164.9 L886.3,166.7 L884.4,167.9 L884.5,169.7 L884.9,171.4 L886.3,172.7 L884.6,175.0 L885.6,176.3 L885.6,178.1 L885.6,179.9 L884.0,181.5 L885.1,182.9 L885.6,184.5 L887.3,185.8 L886.6,187.8 L886.7,189.6 L887.9,191.0 L889.5,192.2 L888.6,194.3 L888.8,195.6 L888.9,197.5 L888.8,199.2 L887.7,200.6 L887.0,202.2"/>
<path d="M887.0,202.2 L886.8,204.0 L886.9,206.0 L884.3,207.1 L884.2,209.1 L885.3,211.0 L885.0,212.8 L884.5,214.6"/>
<path d="M808.0,189.2 L809.6,188.3 L811.3,188.4 L813.2,189.6 L814.8,189.0 L816.5,188.4 L818.1,188.4 L820.1,187.7 L821.5,188.9 L822.7,191.2 L824.6,190.5 L826.5,190.0 L828.0,190.6 L829.6,189.3 L831.3,189.8 L833.3,191.6 L834.8,189.7 L836.3,188.2 L838.0,189.7 L839.7,190.1 L841.0,191.3 L841.7,193.6 L844.0,192.9 L846.2,192.5 L847.0,194.5 L848.4,195.4 L849.9,196.4 L851.0,197.9 L852.9,197.9 L854.9,198.5 L855.1,200.5 L855.5,202.4 L856.9,203.8 L858.5,204.2 L860.4,204.2 L862.2,204.3 L863.5,205.7 L864.0,207.9 L865.5,208.7 L867.6,208.7 L869.0,209.7 L870.4,210.7 L871.7,211.8 L872.2,214.1 L874.2,214.6 L876.3,212.9 L877.8,213.9 L879.4,214.9 L881.1,214.4 L882.8,215.3 L884.5,214.6"/>
<path d="M884.5,214.6 L885.5,216.3 L885.6,218.3 L886.0,220.2"/>
<path d="M887.0,202.2 L888.7,202.4 L890.1,203.9 L891.8,204.1 L893.5,204.6 L895.6,203.6 L896.9,204.9 L898.7,205.0 L900.0,206.5 L901.4,207.5 L903.3,208.2 L905.0,207.4 L906.7,206.4 L908.4,206.6 L910.1,206.1 L911.9,206.9 L913.6,206.7 L915.5,207.4 L916.8,205.5 L918.5,204.9 L920.0,204.1 L921.9,204.4 L923.6,204.3 L925.1,205.3 L926.7,206.0 L928.6,205.2 L930.4,205.3 L932.4,205.4 L933.2,207.5 L934.9,208.0 L935.6,210.0 L937.4,210.4 L939.0,211.0 L940.6,210.4 L942.3,210.7 L944.1,211.2 L945.8,211.1 L947.6,211.7 L949.2,211.0 L950.9,210.8 L952.8,209.6 L954.3,211.0 L956.0,211.3 L957.5,212.6 L959.3,212.4 L961.0,212.5"/>
<path d="M962.6,128.5 L961.5,129.8 L959.6,130.5 L959.6,132.7 L958.5,133.9 L958.7,135.8 L958.8,137.6 L957.1,138.9 L956.2,140.4 L956.3,142.4 L956.9,144.0 L957.8,145.5 L959.1,147.0 L958.7,148.4 L959.7,150.0 L961.4,150.6 L961.7,152.2 L963.9,152.8 L965.4,153.8 L965.6,155.8 L966.6,157.1 L966.2,158.7 L965.7,160.3 L966.4,162.1 L967.0,163.9 L966.6,165.6 L967.2,166.8 L967.7,168.5 L967.5,170.6 L969.6,171.2 L970.9,172.4 L971.8,173.9 L973.2,175.1 L972.4,177.4 L972.8,179.1 L973.9,180.4 L975.0,181.8 L976.0,183.2"/>
<path d="M976.0,183.2 L974.7,184.4 L974.4,186.3 L973.7,188.0 L971.3,188.0 L969.7,188.7 L968.5,190.1 L966.7,190.3 L965.4,191.6 L965.4,193.3 L963.9,194.5 L962.4,195.8 L962.3,197.6 L961.1,199.0 L960.4,200.6 L961.3,202.7 L960.8,204.4 L959.4,205.8 L960.0,207.4 L960.0,209.2 L960.0,210.9 L961.0,212.5"/>
<path d="M976.0,183.2 L977.5,182.4 L978.4,180.7 L980.2,180.2 L982.3,180.6 L983.6,179.4 L984.6,177.8 L985.4,176.0 L987.8,176.5 L989.1,175.4 L990.6,174.6 L990.7,171.9 L992.9,172.0 L994.2,170.9 L996.2,171.1 L996.6,168.3 L998.4,168.1 L999.8,167.0 L1002.4,167.1 L1002.1,165.0 L1003.0,163.6 L1003.2,161.7 L1005.2,160.9 L1006.1,159.6 L1007.3,158.5 L1008.2,156.9 L1009.5,155.9 L1011.2,155.2 L1012.6,154.5 L1014.3,154.3 L1015.7,152.8 L1017.5,153.0 L1019.0,152.3 L1021.0,153.1 L1022.3,151.4 L1024.0,151.2"/>
<path d="M1018.0,109.2 L1017.9,111.0 L1019.2,112.4 L1020.0,113.9 L1020.5,115.6 L1021.6,117.0 L1019.9,118.5 L1018.6,119.7 L1019.7,122.3 L1018.8,123.7 L1017.3,124.9 L1017.8,126.3 L1016.8,128.3 L1016.7,130.1 L1019.4,131.2 L1019.8,132.9 L1019.0,134.9 L1019.8,136.4 L1019.6,138.3 L1020.2,139.9 L1022.4,140.9 L1022.5,142.7 L1022.0,144.6 L1022.5,146.3 L1022.3,148.1 L1023.6,149.5 L1024.0,151.2"/>
<path d="M1024.0,151.2 L1025.7,151.2 L1027.2,150.6 L1028.3,148.5 L1030.1,148.8 L1032.0,150.3 L1033.5,149.3 L1035.0,148.7"/>
<path d="M1035.0,148.7 L1036.7,149.2 L1038.5,149.4 L1040.2,148.7 L1042.0,148.0 L1043.7,149.1 L1045.1,150.4 L1046.7,151.1 L1048.0,152.3 L1050.3,151.5 L1051.9,151.9 L1053.3,153.2 L1055.0,153.7"/>
<path d="M1055.0,153.7 L1055.7,152.2 L1057.6,151.2 L1056.9,148.9 L1057.4,147.0 L1059.7,146.9 L1061.2,145.7 L1061.2,143.8 L1061.2,142.0 L1062.1,140.5 L1064.2,140.8 L1065.9,140.3 L1067.2,139.0 L1069.0,138.3 L1070.7,139.1 L1072.4,140.5 L1074.0,139.2 L1075.4,137.8 L1077.4,138.8 L1079.1,138.8 L1080.6,137.8 L1082.2,137.2 L1083.5,135.8 L1085.4,136.1 L1087.5,136.8 L1088.3,134.4 L1089.9,133.0 L1091.8,134.5 L1093.5,134.4 L1095.1,133.6 L1096.7,132.9 L1098.7,133.2 L1099.5,135.0 L1101.0,135.7"/>
<path d="M1101.0,135.7 L1102.2,134.4 L1103.8,133.8 L1105.5,132.7 L1105.0,131.1 L1103.6,129.7 L1104.7,127.7 L1107.0,128.4 L1108.2,127.3 L1109.8,126.7 L1111.1,125.0 L1112.6,125.1 L1111.7,123.6 L1111.0,122.1 L1110.0,120.7"/>
<path d="M1081.0,75.7 L1082.2,76.9 L1082.7,78.6 L1084.6,79.4 L1084.9,81.2 L1085.5,82.8 L1086.1,84.5 L1087.3,85.7 L1089.5,86.1 L1090.0,87.9 L1091.9,88.4 L1092.0,90.5 L1092.9,91.9 L1093.6,93.5 L1095.2,94.4 L1097.0,95.2 L1097.3,97.0 L1099.1,97.8 L1098.7,100.1 L1099.7,101.4 L1100.4,103.0 L1102.2,103.9 L1103.2,105.2 L1103.4,107.1 L1104.7,108.3 L1103.9,110.6 L1105.3,111.8 L1106.0,113.3 L1107.8,114.3 L1108.2,116.0 L1108.4,117.7 L1109.3,119.2 L1110.0,120.7"/>
<path d="M1110.0,120.7 L1111.9,120.7 L1112.8,118.5 L1114.5,118.1 L1116.4,118.3 L1118.1,117.5 L1119.7,118.9 L1121.3,119.4 L1123.3,117.2 L1125.1,117.5 L1126.4,119.4 L1128.2,119.3 L1129.8,120.0 L1131.4,120.9 L1132.2,118.6 L1133.3,117.3 L1136.1,117.6 L1137.1,116.2 L1138.1,114.9 L1139.9,114.7 L1140.8,112.6 L1142.1,111.4 L1144.7,113.0 L1146.3,112.3 L1147.4,110.4 L1149.2,110.2 L1150.8,109.6"/>
<path d="M1101.0,135.7 L1102.3,137.0 L1103.4,138.3 L1102.4,140.8 L1103.3,142.2 L1105.3,143.2 L1105.5,145.0 L1107.2,145.4 L1108.3,146.8 L1108.4,149.7 L1110.7,149.4 L1112.8,149.3 L1113.8,150.9 L1115.1,152.0 L1116.2,153.6 L1117.9,154.5 L1119.7,154.1 L1121.6,153.5 L1123.2,154.3 L1124.3,156.8 L1126.2,156.3 L1128.2,155.6 L1129.7,156.8 L1131.6,156.3 L1133.0,157.2 L1135.1,158.3 L1136.2,155.9 L1137.6,154.6 L1139.5,154.9 L1140.5,156.4 L1141.2,158.0 L1142.6,159.2 L1144.1,160.1 L1144.5,162.4 L1142.7,163.1 L1140.1,163.2 L1140.3,165.6 L1139.9,167.4 L1139.3,168.2 L1141.1,168.9 L1141.3,171.1 L1142.2,172.5 L1144.0,173.2"/>
<path d="M1144.0,173.2 L1145.7,173.5 L1147.3,172.6 L1149.0,172.6 L1150.6,171.5 L1152.4,172.1 L1154.2,172.6 L1155.8,172.2 L1157.3,170.9 L1158.9,170.0 L1160.9,171.0 L1162.3,170.1 L1163.9,169.4 L1164.6,167.4 L1166.3,167.0 L1167.4,165.5 L1169.5,165.6 L1170.2,164.7 L1171.7,165.6 L1173.8,165.6 L1174.7,167.1 L1175.3,169.1 L1177.0,169.8 L1178.8,170.0 L1180.7,170.0 L1181.7,171.6 L1183.3,172.3 L1184.0,174.2 L1186.0,174.4 L1187.3,175.3 L1188.5,173.8 L1190.6,174.7 L1192.4,174.5 L1193.8,173.4 L1195.3,172.7"/>
<path d="M1144.0,173.2 L1144.8,174.8 L1144.3,176.6 L1144.7,178.3 L1144.3,180.3 L1145.5,181.7 L1146.5,183.2"/>
<path d="M1146.5,183.2 L1144.8,183.0 L1143.1,183.0 L1141.4,182.5 L1139.6,184.5 L1138.0,183.6 L1136.3,183.6 L1134.6,183.5 L1133.1,181.8 L1131.5,182.1 L1130.2,181.0 L1128.1,181.4 L1126.7,180.3 L1125.7,180.3 L1124.2,181.0 L1121.8,180.6 L1121.1,182.5 L1119.3,182.8 L1118.2,184.4 L1116.7,185.2 L1115.2,185.8 L1113.4,186.0 L1111.4,185.5 L1110.2,187.1 L1108.2,186.7 L1107.2,188.6 L1105.7,189.6 L1103.9,189.6 L1102.3,190.3 L1100.4,189.6 L1098.9,190.6 L1097.1,190.3 L1095.8,192.3 L1093.8,192.4 L1092.4,191.2 L1090.6,191.3 L1089.5,189.2 L1087.5,189.7 L1085.9,190.4 L1084.8,192.1 L1083.3,192.8 L1081.5,192.9 L1079.7,192.6 L1079.1,190.0 L1077.1,190.2 L1075.4,189.6 L1073.9,190.6 L1072.6,191.8 L1070.8,191.9 L1069.2,192.3 L1067.5,192.7"/>
<path d="M1055.0,153.7 L1056.1,155.0 L1058.0,155.7 L1057.8,157.9 L1058.3,159.6 L1059.9,160.5 L1061.2,161.6 L1062.8,162.8 L1062.5,164.7 L1062.1,166.7 L1063.5,167.9 L1063.8,169.6 L1064.8,171.1 L1065.7,172.6 L1064.8,174.5 L1064.7,176.2 L1064.8,177.8 L1065.5,179.4 L1067.2,180.9 L1066.2,182.7 L1065.5,184.5 L1066.2,186.1 L1066.2,187.8 L1067.4,189.3 L1067.6,191.0 L1067.5,192.7"/>
<path d="M1035.0,148.7 L1035.0,150.4 L1035.0,152.1 L1035.1,153.8 L1033.8,155.4 L1034.5,157.2 L1035.3,158.9 L1034.2,160.6 L1034.3,162.3 L1034.8,163.9 L1035.4,165.6 L1035.8,167.2 L1034.8,168.9 L1034.7,170.6 L1035.5,172.4 L1035.0,174.1 L1034.0,175.7 L1033.9,177.4 L1034.3,179.1 L1034.2,180.8 L1033.4,182.4 L1032.8,184.1 L1032.9,185.7 L1032.7,187.6 L1031.1,188.6 L1030.0,190.0 L1030.0,191.9 L1029.1,193.4 L1027.8,194.6 L1026.2,195.4 L1024.9,196.5 L1024.8,198.7 L1023.0,199.3 L1021.1,199.9 L1020.8,201.9 L1019.5,203.0 L1018.6,204.5 L1017.2,205.5 L1015.3,206.1 L1016.0,208.5 L1015.2,210.0 L1013.4,211.2 L1013.7,213.1 L1012.8,214.6 L1012.9,216.3 L1012.8,218.0 L1010.9,219.5 L1012.3,221.4 L1012.6,223.1 L1011.6,225.0 L1013.4,225.6 L1014.3,227.1 L1015.8,228.0 L1017.6,228.6 L1017.5,231.4 L1019.5,231.4 L1021.6,231.4 L1022.3,233.4 L1024.0,233.8 L1025.2,235.2 L1026.8,235.8 L1028.9,235.5 L1029.6,237.8 L1031.3,238.2"/>
<path d="M1067.5,192.7 L1069.1,193.4 L1071.0,192.7 L1072.4,194.1 L1073.9,194.9 L1074.5,195.9 L1074.5,197.6 L1076.9,198.8 L1076.6,200.6 L1077.4,202.1 L1075.0,203.5 L1076.0,205.5 L1076.4,207.3 L1076.6,209.1 L1075.3,210.5 L1073.9,212.9 L1076.1,213.4 L1077.0,214.8 L1079.1,214.7 L1079.5,217.2 L1081.2,217.7 L1082.1,219.3 L1083.9,219.7 L1085.8,219.8 L1087.1,221.0 L1088.6,221.8 L1088.7,224.7 L1091.0,224.3 L1092.4,225.2"/>
<path d="M1146.5,183.2 L1147.2,184.8 L1146.7,186.6 L1147.4,188.2 L1146.7,190.1 L1149.8,191.1 L1148.9,193.0 L1150.3,194.5 L1148.8,196.5 L1148.8,198.2 L1149.9,199.7 L1150.2,201.4 L1152.4,202.5 L1151.2,204.6 L1151.9,206.2 L1150.7,208.2 L1152.1,209.6 L1153.1,211.1 L1154.4,212.2 L1154.9,213.8 L1154.7,215.8 L1155.2,217.5 L1155.9,219.0 L1158.1,219.8 L1158.6,221.4 L1159.9,222.7 L1158.8,225.1 L1159.9,226.4 L1159.9,227.9 L1161.5,229.4 L1162.5,231.0 L1161.6,232.8 L1162.2,234.3 L1162.5,236.0"/>
<path d="M1162.5,236.0 L1163.5,237.4 L1164.2,239.0 L1164.3,240.4 L1166.2,241.8 L1166.7,243.5 L1166.2,245.3 L1166.5,247.0 L1168.2,246.3 L1168.4,244.5 L1167.0,242.1 L1168.6,240.8 L1170.1,239.7 L1170.9,238.2 L1171.9,239.1 L1173.8,238.6 L1175.8,237.8 L1177.3,239.0 L1178.5,238.5 L1180.4,238.3 L1182.4,238.3 L1182.8,235.7 L1185.1,234.1 L1186.1,235.9 L1187.7,236.7 L1188.8,238.2 L1190.3,239.0 L1192.3,237.7 L1194.0,237.8 L1195.8,238.1 L1197.5,238.2"/>
<path d="M1102.5,247.7 L1104.0,246.8 L1105.8,246.7 L1107.2,245.7 L1109.1,246.1 L1110.7,245.4 L1112.1,244.3 L1113.9,244.5 L1115.3,242.9 L1116.9,242.4 L1119.0,243.7 L1120.4,243.3 L1122.1,243.4 L1123.8,243.3 L1125.6,242.2 L1127.1,243.4 L1128.9,243.4 L1130.3,242.1 L1132.2,242.4 L1133.7,241.5 L1135.0,240.2 L1136.8,240.2 L1138.3,239.1 L1140.1,239.3 L1142.4,239.2 L1142.5,237.1 L1143.1,235.4 L1144.7,234.5 L1145.9,233.1 L1147.9,233.4 L1149.3,233.3 L1151.1,232.7 L1152.6,234.0 L1154.4,233.7 L1156.3,232.9 L1157.8,234.1 L1159.4,234.7 L1160.8,235.7 L1162.5,236.0"/>
<path d="M1162.5,236.0 L1161.0,236.9 L1160.0,238.7 L1157.5,237.5 L1156.0,238.5 L1154.6,239.3 L1154.0,241.7 L1152.5,242.4 L1150.5,242.5 L1148.8,242.9 L1147.5,244.6 L1147.9,246.7 L1146.9,248.1 L1147.6,249.4 L1146.3,251.4 L1147.0,253.0 L1146.3,254.9 L1148.7,256.1 L1148.8,257.7 L1150.0,259.0 L1148.8,261.5 L1150.1,262.8 L1151.3,264.1 L1153.2,265.0 L1153.5,266.8 L1153.4,268.7 L1154.0,270.3 L1154.6,271.9 L1156.5,272.9 L1157.0,274.5 L1158.7,275.3 L1158.2,277.9 L1159.6,279.0 L1160.1,280.7 L1163.0,280.6 L1163.5,282.4 L1164.5,283.8 L1164.2,286.3 L1165.3,286.8 L1165.5,288.6 L1165.9,290.1 L1165.4,291.9 L1165.5,293.6"/>
<path d="M1165.5,293.6 L1167.2,293.6 L1168.5,295.5 L1170.3,295.2 L1172.2,294.5 L1173.8,295.4 L1175.2,296.3 L1176.0,298.3 L1177.6,298.9 L1179.9,298.3 L1181.1,299.1 L1182.6,300.2 L1184.1,300.8 L1185.8,301.2 L1187.7,299.9 L1189.3,300.3 L1190.8,302.1 L1192.5,301.8 L1194.2,301.7 L1195.9,301.3 L1197.6,301.7"/>
<path d="M1165.5,293.6 L1164.3,294.8 L1163.5,296.2 L1163.9,298.2 L1162.9,299.5 L1162.9,301.2 L1161.1,302.2 L1159.9,303.4 L1159.9,305.1 L1159.4,306.7"/>
<path d="M1099.4,270.2 L1100.8,271.3 L1101.6,272.8 L1101.9,274.9 L1104.1,275.1 L1105.6,276.1 L1106.3,277.8 L1107.5,279.0 L1108.3,280.6 L1110.0,281.3 L1112.0,281.3 L1113.0,282.9 L1114.2,284.3 L1115.7,285.1 L1117.1,286.0 L1119.0,286.3 L1120.1,287.8 L1120.8,289.6 L1122.8,289.8 L1124.5,290.0 L1126.3,290.1 L1127.9,290.4 L1129.0,292.3 L1130.7,292.7 L1132.8,292.4 L1134.0,293.8 L1135.6,294.6 L1136.6,296.0 L1137.2,297.8 L1139.6,297.8 L1140.9,298.9 L1141.7,300.8 L1143.6,300.4 L1145.2,300.9 L1146.9,301.4 L1149.0,300.8 L1149.9,302.8 L1151.0,304.5 L1153.4,303.5 L1154.7,304.7 L1156.2,305.5 L1157.9,305.7 L1159.4,306.7"/>
<path d="M1102.5,247.7 L1101.3,249.0 L1101.3,250.9 L1101.2,252.7 L1099.3,253.6 L1099.7,255.4 L1098.9,257.0 L1097.1,258.4 L1098.1,260.3 L1098.4,261.9 L1098.6,263.5 L1099.0,265.2 L1099.9,266.8 L1099.0,268.6 L1099.4,270.2"/>
<path d="M1092.4,225.2 L1092.7,226.8 L1093.3,228.4 L1095.2,229.6 L1093.6,231.8 L1094.6,233.2 L1094.8,234.9 L1096.4,236.1 L1097.3,237.5 L1096.9,239.4 L1097.5,241.0 L1097.9,242.8 L1100.6,243.0 L1100.8,244.9 L1101.7,246.3 L1102.5,247.7"/>
<path d="M1092.4,225.2 L1092.0,226.9 L1091.0,228.3 L1089.2,229.1 L1088.8,230.9 L1087.0,231.5 L1085.8,232.6 L1085.7,235.0 L1084.2,235.8 L1082.8,236.8 L1081.6,238.2 L1079.5,237.6 L1078.0,238.4 L1077.0,240.1 L1075.3,240.5 L1073.6,240.9 L1071.9,240.9 L1070.4,239.4 L1068.7,239.1 L1067.3,239.1 L1066.6,237.6 L1065.1,236.5 L1064.1,235.1 L1064.2,233.1 L1063.4,231.5 L1062.3,230.3 L1061.3,229.0 L1059.6,228.2 L1059.0,228.3 L1057.1,228.3 L1055.5,228.8 L1053.9,229.4 L1052.2,229.9 L1051.3,231.6 L1050.5,233.2 L1048.9,233.9 L1047.7,234.9 L1046.9,236.4 L1045.9,237.8 L1045.8,239.6"/>
<path d="M1045.8,239.6 L1044.1,239.6 L1042.7,238.4 L1040.8,238.7 L1039.3,236.6 L1037.8,237.6 L1036.2,238.2 L1034.6,238.7 L1032.9,238.9 L1031.3,238.2"/>
<path d="M1031.3,238.2 L1029.3,237.8 L1028.1,239.6 L1026.5,240.4 L1024.6,240.5 L1023.3,242.1 L1021.1,241.2 L1019.1,240.8 L1017.9,242.7 L1016.4,243.7 L1015.2,245.1 L1013.5,245.7"/>
<path d="M973.0,229.2 L974.7,229.1 L976.4,228.0 L978.0,229.0 L979.7,228.8 L981.4,230.7 L983.1,229.6 L984.8,228.9 L986.4,228.6 L988.1,228.0 L989.8,230.2 L991.5,229.6 L992.8,230.5 L994.8,229.9 L996.7,229.4 L997.9,231.2 L998.7,232.6 L997.4,234.7 L999.0,236.0 L1000.3,237.4 L1000.8,239.0 L1002.0,240.3 L1000.5,242.7 L1002.3,244.1 L1004.0,244.2 L1005.6,243.0 L1007.2,241.8 L1008.8,243.8 L1010.5,244.2 L1011.6,245.7 L1013.5,245.7"/>
<path d="M961.0,212.5 L961.6,214.2 L962.3,215.8 L963.8,217.2 L962.1,220.2 L964.4,220.4 L965.6,221.7 L967.6,222.2 L968.5,223.8 L968.3,226.4 L970.6,226.6 L971.8,227.9 L973.0,229.2"/>
<path d="M1013.5,245.7 L1012.2,246.9 L1011.4,248.4 L1010.5,249.9 L1009.9,251.5 L1008.9,253.3 L1007.1,253.5 L1005.2,253.4 L1003.6,253.8 L1001.7,253.8 L1001.8,256.4 L1003.0,257.9 L1003.4,259.6 L1003.5,261.7 L1002.1,262.9 L1000.5,263.9 L999.9,265.6 L999.4,267.3 L999.6,269.1 L1000.0,271.0 L998.7,272.5 L997.6,274.0 L998.2,275.8 L998.1,277.6 L999.5,279.0 L1001.2,280.2 L1000.5,282.3 L1000.1,283.9 L999.4,285.5 L999.0,287.2"/>
<path d="M973.0,229.2 L971.9,230.5 L970.6,231.8 L971.9,234.4 L969.8,235.2 L969.0,236.7 L966.9,237.5 L967.3,239.8 L965.7,240.6 L964.9,242.2 L963.0,242.7 L961.1,243.0 L960.5,245.0 L959.6,246.5 L959.0,248.1 L955.9,247.7 L955.8,249.9 L954.3,250.8 L954.4,253.1 L952.6,253.9 L951.4,255.0 L949.5,255.7 L948.8,257.3 L949.0,259.8 L946.8,260.1 L945.6,261.3 L943.5,261.8 L944.2,264.4 L942.6,265.4 L942.6,267.4 L940.4,268.1 L939.3,269.4 L939.2,271.3 L939.5,273.1 L939.0,274.8 L936.5,275.9 L937.5,277.9 L936.6,279.4 L938.3,281.1 L937.1,282.9 L937.5,284.6 L936.5,286.4 L938.0,288.0 L939.5,289.2 L938.9,291.2 L939.1,293.0 L939.0,294.7 L941.1,295.9 L941.0,297.7"/>
<path d="M886.0,220.2 L887.8,220.1 L889.0,221.8 L890.4,223.0 L892.4,222.4 L894.2,222.4 L895.9,222.6 L896.6,224.9 L897.2,226.6 L899.8,226.4 L901.1,227.5 L901.9,229.1 L902.9,230.5 L903.4,232.4 L905.1,233.0 L906.7,234.2 L906.5,236.1 L906.7,237.9 L906.6,239.8 L908.1,241.0 L910.4,241.9 L910.0,243.8 L910.2,245.8 L911.9,246.6 L913.3,247.6 L915.2,248.2 L915.7,250.0 L915.4,252.0 L916.8,253.2 L917.8,254.7 L918.9,256.0 L919.7,257.6 L918.4,259.9 L919.5,261.3 L921.6,262.4 L921.9,264.1 L921.8,265.8 L921.2,267.8 L922.0,269.3 L924.3,270.4 L924.1,272.2 L923.8,274.1 L924.3,275.7 L924.3,277.5 L926.2,278.7 L927.1,280.2 L926.1,282.4 L926.8,283.9 L928.0,285.2 L929.9,286.0 L931.3,287.1 L930.3,289.8 L931.0,291.2 L933.2,292.0 L934.0,293.5 L935.0,294.8 L935.0,296.8 L935.5,298.4 L936.9,299.6"/>
<path d="M936.9,299.6 L938.2,298.9 L939.6,298.3 L941.0,297.7"/>
<path d="M886.0,220.2 L884.4,220.8 L884.0,223.2 L882.0,223.3 L879.8,223.2 L879.2,225.3 L877.8,226.2 L876.7,227.5 L875.6,228.8 L873.3,228.9 L872.9,230.9 L872.6,233.0 L870.9,233.7 L870.4,235.3 L870.6,237.1 L870.5,238.8 L870.6,240.5 L869.2,242.0 L868.5,243.4 L868.8,245.4 L868.4,247.0 L867.4,248.5 L865.9,249.7 L866.0,251.6 L865.5,253.2"/>
<path d="M771.5,229.2 L772.6,230.5 L774.8,230.6 L775.4,232.5 L776.2,234.0 L777.0,235.4 L778.5,236.4 L780.3,237.2 L781.1,238.7 L781.8,240.3 L782.4,242.4 L784.4,242.3 L786.1,242.8 L787.5,243.9 L789.0,244.6 L790.0,247.0 L791.8,246.3 L793.5,245.9 L795.2,246.1 L796.9,246.2 L798.4,247.9 L800.3,247.6 L801.8,246.6 L803.1,245.2 L804.9,245.2 L806.7,245.5 L808.3,245.0 L809.5,245.0 L811.8,244.0 L813.1,245.3 L814.2,246.8 L815.8,247.4 L816.6,249.0 L819.1,248.7 L820.3,249.9 L821.1,251.5 L822.5,252.8 L824.1,253.2 L826.0,252.3 L827.6,252.4 L829.3,252.5 L831.1,253.5 L832.7,252.9 L834.0,251.4 L835.6,251.0 L837.5,249.7 L838.8,251.7 L840.4,252.3 L842.3,251.6 L843.9,251.9 L845.8,251.5 L847.1,253.1 L848.6,254.1 L850.3,254.2 L852.0,253.8 L853.7,253.2 L855.4,254.1 L857.1,254.1 L858.8,254.8 L860.4,253.2 L862.1,252.5 L863.8,253.4 L865.5,253.2"/>
<path d="M865.5,253.2 L866.2,254.8 L867.0,256.3 L868.4,257.6 L866.9,259.9 L867.8,261.4 L869.8,262.3 L870.9,263.5 L872.1,264.8 L871.6,267.2 L873.1,268.3 L875.0,269.0 L874.8,271.1 L873.8,272.5 L871.9,273.6 L871.9,275.4 L872.0,277.3 L871.0,278.7"/>
<path d="M812.0,317.2 L812.0,315.5 L813.6,313.9 L812.1,312.0 L812.6,310.4 L812.8,308.7 L812.9,307.0 L813.4,305.2 L811.6,303.7 L812.0,301.9 L812.3,300.2 L811.8,298.5 L812.2,296.7 L810.6,295.1 L811.7,293.3 L813.1,292.1 L811.5,289.8 L812.9,288.4 L814.4,287.7 L815.9,287.0 L817.7,286.8 L818.7,284.6 L820.6,284.9 L822.1,284.9 L823.9,284.3 L825.6,284.8 L827.4,284.2 L828.9,285.9 L830.5,286.3 L832.8,284.6 L833.8,286.7 L835.4,287.4 L837.2,287.6 L838.6,288.7 L840.7,288.0 L842.0,289.0 L843.7,288.5 L844.5,286.5 L846.3,286.1 L847.6,284.9 L849.5,284.8 L850.7,283.5 L851.2,281.2 L853.8,281.9 L855.0,280.6 L856.5,280.2 L858.0,281.1 L859.9,280.4 L861.3,282.3 L863.0,282.5 L864.3,280.5 L866.3,280.9 L867.9,280.2 L869.5,279.6 L871.0,278.7"/>
<path d="M871.0,278.7 L872.1,280.1 L872.3,282.2 L874.5,282.5 L875.9,283.5 L877.3,284.5 L878.9,285.8 L878.0,288.2 L879.1,289.5 L879.2,291.4 L881.1,292.4 L882.3,293.7 L883.1,295.6 L881.9,297.3 L882.0,299.0 L880.6,300.7 L881.7,302.4 L882.4,304.2 L882.5,305.8 L883.4,307.5 L881.7,309.3 L882.1,311.0 L882.5,312.7"/>
<path d="M882.5,312.7 L881.5,314.0 L880.0,314.8 L878.1,315.3 L877.7,317.2 L877.2,318.9 L876.0,320.1 L875.7,321.9 L873.8,322.6 L872.3,324.7 L874.5,325.7 L875.2,326.9 L876.4,328.2 L878.1,328.6 L879.0,330.2"/>
<path d="M879.0,330.2 L877.3,330.9 L876.3,332.4 L876.1,334.7 L874.3,335.1 L872.7,336.2 L872.2,337.9 L871.8,339.6 L872.1,341.7 L870.9,342.9 L868.9,344.1 L869.5,346.1 L869.6,347.9 L869.2,349.6 L868.7,351.2 L866.9,352.4 L866.7,354.2 L867.3,356.2 L866.3,357.7 L865.2,359.0 L863.4,358.6 L861.6,358.1 L859.9,359.1 L858.2,358.6 L857.1,357.0 L855.7,356.0 L854.6,354.5 L852.6,354.6 L853.7,354.7 L852.8,356.8 L851.6,357.9 L851.1,359.6 L850.7,361.3 L851.0,363.1 L849.5,364.5 L847.7,365.8 L848.5,367.8 L848.2,369.6 L847.0,370.9 L845.8,372.1 L844.1,373.0 L843.5,374.7"/>
<path d="M882.5,312.7 L884.1,313.1 L885.8,313.2 L887.7,312.6 L889.0,314.3 L890.7,314.6 L892.1,315.9 L894.2,314.3 L895.7,315.3 L897.2,314.6 L899.2,316.4 L900.7,315.5 L902.4,315.1 L903.8,313.8 L905.5,313.5 L907.4,314.6 L909.0,314.0 L910.8,314.3 L912.1,312.1 L913.9,312.6 L915.5,312.1 L917.4,313.4 L919.0,312.3 L920.6,311.8 L922.0,310.4 L923.9,311.2 L925.6,311.1 L927.8,311.7 L928.4,309.3 L930.1,308.9 L931.0,307.1 L933.5,308.2 L934.6,306.6 L936.0,305.7"/>
<path d="M936.0,305.7 L936.6,304.2 L936.3,302.6 L936.1,301.0 L936.9,299.6"/>
<path d="M879.0,330.2 L880.4,331.1 L882.6,330.7 L883.6,332.5 L884.9,333.7 L886.3,334.5 L887.2,336.2 L889.1,336.5 L891.4,336.3 L891.7,338.7 L891.2,340.7 L892.6,342.0 L893.5,343.5 L893.9,345.2 L894.4,347.0 L893.0,348.5 L891.9,351.1 L894.1,351.6 L895.8,352.4 L896.3,354.2 L897.2,355.6 L897.9,357.3 L898.8,358.9 L901.0,359.1 L902.8,359.7 L903.0,361.9 L904.1,363.4 L905.7,364.0 L907.2,364.8 L909.2,365.0 L910.8,365.6 L911.5,367.7 L913.0,368.8 L915.0,368.4 L916.7,368.6 L918.3,369.2 L919.7,370.4 L920.2,372.5 L921.5,373.6 L923.6,373.8 L924.6,375.2"/>
<path d="M936.0,305.7 L937.6,306.3 L938.6,308.2 L940.3,308.6 L942.8,307.4 L943.6,309.6 L945.0,310.7 L946.8,310.9 L947.9,312.4 L950.4,312.8 L949.7,314.4 L947.3,315.5 L947.6,317.4 L947.7,319.2 L948.0,320.6 L947.2,322.4 L946.0,324.3 L947.9,325.8 L948.0,327.5 L948.0,329.2 L948.6,331.1 L946.2,332.3 L947.1,334.2 L948.4,336.2 L946.5,337.6 L945.8,339.2 L945.3,340.9 L946.1,342.7 L946.5,344.5 L944.6,346.0 L944.7,347.7 L944.3,349.4 L944.2,351.1 L945.6,353.2 L943.0,354.3 L941.8,355.7 L943.4,357.9 L942.8,359.5 L942.4,361.0 L941.5,362.8 L941.1,364.5 L942.6,366.2 L942.3,367.9 L942.4,369.6 L941.6,371.3 L941.2,373.0 L942.0,374.7"/>
<path d="M924.6,375.2 L926.2,375.4 L927.6,376.6 L929.1,377.2 L931.0,376.4 L932.3,376.3 L934.1,376.9 L935.8,376.8 L937.3,376.0 L938.8,375.5 L940.4,374.8 L942.0,374.7"/>
<path d="M942.0,374.7 L943.1,376.1 L944.9,376.5 L946.0,377.8 L948.3,377.7 L949.2,379.3 L950.4,380.4 L951.3,382.1 L953.0,382.7"/>
<path d="M924.6,375.2 L923.2,376.2 L921.8,377.3 L920.9,378.7 L919.7,379.9 L918.7,381.4 L917.4,382.7 L915.5,382.5 L913.6,383.1 L913.0,384.7 L911.7,385.9 L911.4,387.7 L912.2,389.7 L911.2,391.2 L909.7,392.5 L909.8,394.3 L908.9,395.8 L907.4,397.0 L908.1,399.1 L908.6,401.2 L906.7,402.2 L905.7,403.7 L905.8,405.5 L904.2,406.7 L903.3,408.2 L904.6,410.5 L904.3,412.2 L902.5,413.3 L902.1,415.0 L901.5,416.6 L901.0,418.2"/>
<path d="M953.0,382.7 L954.1,384.1 L953.4,386.2 L954.4,387.6 L955.9,388.8 L956.1,390.6 L957.1,391.9 L957.3,393.9 L959.3,394.5 L960.8,395.5 L960.7,397.7 L962.0,398.9 L962.8,400.3 L964.6,401.1 L965.3,402.7 L965.1,404.9 L967.3,405.5 L968.0,407.0 L968.7,408.6 L968.9,410.4 L969.3,412.1 L971.7,412.8 L971.6,414.7 L971.4,416.3 L971.5,418.0 L971.6,419.7 L972.5,421.5 L970.6,423.0 L970.5,424.7 L971.6,426.4 L971.5,428.1 L971.7,429.8 L970.6,431.6 L971.8,433.2 L973.0,434.8 L971.4,436.5 L971.0,438.1 L970.5,439.7 L971.3,441.7 L970.7,443.3 L968.6,444.5 L969.3,446.4 L969.2,448.2 L968.9,449.8 L967.6,451.2 L966.3,452.6 L967.5,454.7 L966.5,456.2"/>
<path d="M987.3,352.7 L985.8,353.5 L983.9,353.7 L983.1,355.7 L981.8,356.6 L980.7,358.0 L978.9,358.6 L977.4,359.5 L976.4,361.2 L976.1,362.9 L977.4,364.8 L976.2,366.4 L977.3,368.3 L975.5,369.9 L976.2,371.6 L976.2,373.3 L976.2,375.1 L976.5,377.3 L974.4,376.3 L973.3,378.4 L970.9,377.0 L969.4,377.8 L967.8,378.5 L966.2,378.9 L965.0,381.0 L963.1,380.5 L961.6,381.6 L959.6,380.8 L958.0,381.5 L956.3,381.5 L954.7,382.6 L953.0,382.7"/>
<path d="M990.5,288.6 L990.4,290.3 L989.8,291.9 L990.7,293.8 L988.3,295.1 L988.0,296.8 L988.4,298.6 L988.7,300.3 L989.0,302.1 L986.6,303.4 L987.4,305.3 L986.4,306.9 L987.9,308.6 L987.3,310.3 L987.4,312.0 L987.8,313.7 L986.9,315.5 L988.1,317.1 L987.3,318.8 L988.9,320.6 L987.4,322.2 L986.9,323.8 L986.5,325.5 L986.9,327.3 L988.5,328.9 L986.8,330.7 L987.2,332.3 L986.1,334.1 L988.0,335.7 L987.8,337.4 L987.5,339.1 L987.5,340.8 L986.5,342.5 L987.6,344.2 L986.2,345.9 L987.9,347.6 L987.3,349.3 L987.3,351.0 L987.3,352.7"/>
<path d="M941.0,297.7 L942.8,297.6 L944.3,296.9 L945.6,295.6 L946.8,294.1 L948.7,293.8 L950.4,293.7 L952.2,295.2 L953.8,294.2 L955.6,294.5 L957.1,292.7 L958.8,292.5 L960.5,292.9 L962.2,293.1 L964.0,294.0 L965.6,293.0 L967.2,292.3 L968.8,291.3 L970.4,291.1 L972.2,291.1 L974.1,291.9 L975.5,290.6 L977.3,290.6 L978.4,288.2 L980.3,288.6 L982.0,288.6 L983.8,289.5 L985.5,290.0 L987.1,289.0 L988.8,288.6 L990.5,288.6"/>
<path d="M990.5,288.6 L992.3,288.8 L994.0,288.4 L995.6,287.6 L997.2,287.1 L999.0,287.2"/>
<path d="M999.0,287.2 L1000.7,286.4 L1002.4,287.8 L1004.1,287.0 L1005.7,289.3 L1007.5,287.5 L1009.2,288.3 L1011.0,286.7 L1012.6,287.4 L1014.3,287.8 L1015.9,288.6 L1017.4,289.7 L1019.3,289.3 L1021.0,289.4 L1023.2,289.0 L1024.4,290.3 L1025.6,291.5 L1026.4,293.3 L1027.7,294.2 L1028.7,295.5 L1031.1,295.7 L1031.7,297.5 L1033.7,298.2 L1032.6,301.0 L1034.6,301.7 L1033.8,304.2 L1036.7,304.4 L1037.0,306.2 L1038.0,307.6"/>
<path d="M1038.0,307.6 L1037.7,309.3 L1037.9,311.2 L1036.2,312.4 L1034.9,313.8 L1035.4,315.9 L1034.2,317.1 L1032.8,318.2 L1032.2,319.8 L1029.9,320.4 L1029.8,322.4 L1030.3,324.7 L1028.1,325.4 L1027.5,327.1 L1028.0,328.8 L1028.6,330.5 L1029.2,332.1 L1029.0,333.9 L1028.8,335.6 L1027.8,337.1 L1028.9,339.1 L1029.6,340.9 L1027.2,342.3 L1027.3,344.0 L1027.7,345.8 L1027.5,347.5 L1029.0,349.0 L1028.4,350.9 L1027.3,352.7 L1028.8,354.3 L1029.8,355.8 L1029.8,357.6 L1029.2,359.4 L1029.7,361.1 L1030.5,362.7 L1030.8,364.4 L1032.1,365.8 L1031.2,367.8 L1030.8,369.7 L1033.5,370.7 L1033.6,372.5 L1033.3,374.3 L1034.1,375.9 L1033.5,377.7 L1034.6,379.3 L1035.3,380.9 L1035.0,382.7"/>
<path d="M1035.0,382.7 L1034.1,384.1 L1034.3,386.0 L1033.9,387.7 L1031.8,388.2 L1030.2,388.4 L1028.4,388.4 L1027.3,390.2 L1025.9,391.3 L1024.1,391.2 L1022.6,392.1 L1020.5,390.8 L1018.9,391.2 L1017.6,392.8 L1016.0,393.4 L1014.3,394.3 L1012.6,393.0 L1011.0,392.6 L1009.3,392.6 L1007.6,392.4 L1006.0,393.9 L1004.3,393.2"/>
<path d="M987.3,352.7 L988.9,352.0 L990.3,350.5 L991.2,351.9 L992.6,353.0 L992.5,355.3 L994.1,356.2 L995.7,357.1 L996.3,358.8 L996.9,360.4 L997.5,362.1 L999.2,363.0 L999.9,364.7 L998.9,366.5 L999.0,368.2 L999.7,369.9 L1000.3,371.5 L1000.5,373.2 L999.4,375.2 L1001.0,376.5 L1001.6,378.1 L1001.9,379.8 L1002.0,381.5 L1001.4,383.4 L1003.9,384.6 L1003.1,386.5 L1003.4,388.2 L1003.2,389.9 L1003.8,391.6 L1004.3,393.2"/>
<path d="M1004.3,393.2 L1005.1,394.8 L1005.3,396.4 L1004.6,398.3 L1005.8,399.8 L1006.3,401.5 L1006.9,403.1 L1006.4,404.9 L1006.0,406.6 L1007.5,408.1 L1006.9,409.9 L1006.2,411.5 L1005.3,413.0 L1004.6,414.6 L1005.6,416.6 L1004.1,417.9 L1002.5,418.8 L1001.7,420.4 L1000.5,421.6 L1000.4,423.7 L998.7,424.5 L997.3,425.7 L997.9,427.8 L996.7,429.2 L996.4,430.9 L996.0,432.4 L995.4,434.2 L997.7,435.6 L997.0,437.4 L997.1,439.2 L998.3,440.5 L998.4,442.3 L1000.8,442.9 L1000.7,444.9 L999.7,446.3 L1001.1,448.3 L1000.0,449.8 L1000.1,451.6 L999.5,453.2"/>
<path d="M1038.0,307.6 L1039.0,306.3 L1040.2,305.3 L1042.1,305.3 L1043.4,304.3 L1044.3,302.9"/>
<path d="M1044.3,302.9 L1044.9,304.5 L1045.1,306.2 L1046.1,307.7 L1046.3,309.4 L1045.3,311.5 L1046.9,312.7 L1048.7,313.9 L1048.1,315.9 L1048.3,317.7 L1049.5,319.0 L1049.8,320.7 L1051.2,322.0 L1052.5,323.3 L1051.7,325.6 L1052.4,327.1 L1054.8,327.6 L1055.3,329.3 L1055.6,331.1 L1056.5,332.5 L1056.4,334.3 L1057.2,335.9 L1059.1,337.0 L1058.6,339.0 L1057.8,341.0 L1059.8,342.1 L1060.9,343.5 L1061.1,345.3 L1062.2,346.6 L1062.2,348.5 L1062.5,350.3 L1064.8,351.0 L1065.7,352.5 L1064.9,354.7 L1066.4,356.0 L1068.1,356.5 L1069.2,357.9 L1071.0,358.4 L1072.1,359.7 L1072.9,361.5 L1074.6,362.0"/>
<path d="M1044.3,302.9 L1045.9,302.3 L1047.5,301.5 L1048.9,300.7 L1050.4,299.9 L1051.5,297.9 L1053.7,298.8 L1055.7,299.2 L1056.9,297.0 L1058.6,297.2 L1060.1,298.3 L1061.7,299.3 L1063.2,299.5 L1064.7,300.4 L1066.4,301.1 L1068.1,301.7 L1069.3,301.7 L1070.1,300.1 L1069.2,297.5 L1070.9,296.6 L1072.3,295.9 L1074.0,295.7 L1075.7,295.4 L1077.4,294.8 L1079.2,295.2 L1080.5,296.4 L1082.0,297.2"/>
<path d="M1082.0,297.2 L1082.4,295.3 L1082.3,293.2 L1083.6,291.5"/>
<path d="M1045.8,239.6 L1045.8,241.3 L1047.5,242.8 L1046.9,244.6 L1046.6,246.4 L1046.8,248.2 L1047.0,249.9 L1048.4,251.2 L1050.0,252.5 L1050.1,254.3 L1049.2,256.5 L1050.2,258.0 L1052.1,258.9 L1052.6,260.6 L1053.9,261.9 L1054.5,263.5 L1053.3,266.0 L1055.1,267.0 L1057.5,267.7 L1057.6,269.5 L1058.8,270.7 L1059.9,272.0 L1060.1,274.2 L1062.5,274.2 L1064.7,273.9 L1065.5,275.9 L1066.5,277.4 L1068.0,278.3 L1069.5,279.1 L1071.3,279.6 L1073.0,280.2 L1073.9,281.8 L1074.1,284.0 L1075.8,284.7 L1078.1,284.9 L1078.8,286.6 L1080.1,287.7 L1081.2,289.1 L1081.7,291.1 L1083.6,291.5"/>
<path d="M1083.6,291.5 L1085.2,290.7 L1086.1,289.0 L1087.1,287.4 L1089.7,287.9 L1091.1,286.9 L1091.8,284.9 L1093.3,284.0 L1094.7,283.0 L1096.6,282.1 L1096.9,280.4 L1095.8,278.3 L1097.1,276.8 L1098.2,275.3 L1098.6,273.6 L1099.0,271.9 L1099.4,270.2"/>
<path d="M1082.0,297.2 L1082.9,298.7 L1084.0,300.0 L1084.7,301.6 L1084.3,303.6 L1084.4,305.4 L1086.8,306.3 L1087.7,307.8 L1086.6,310.1 L1087.3,311.7 L1089.0,312.7 L1090.0,314.1 L1090.8,315.6 L1090.7,317.6 L1090.9,319.4 L1093.0,320.2 L1094.2,321.5 L1094.3,323.4 L1095.9,324.0 L1097.6,324.4 L1099.2,324.9 L1101.1,325.0 L1102.2,326.5 L1102.9,328.6 L1104.1,329.0 L1105.5,330.5 L1105.2,332.3 L1105.0,334.1 L1105.2,336.0 L1106.7,337.1 L1108.9,337.5 L1109.3,339.4 L1108.9,341.8 L1110.7,342.3 L1111.7,344.1 L1110.8,345.7 L1109.9,347.3 L1109.5,349.2 L1110.2,350.8 L1111.9,352.1 L1111.4,354.0 L1111.5,355.7"/>
<path d="M1159.4,306.7 L1157.7,307.2 L1155.9,307.0 L1154.8,308.7 L1154.2,310.7 L1151.9,310.6 L1150.2,311.2 L1149.1,312.6 L1147.5,313.4 L1147.0,315.3 L1146.3,317.0 L1144.4,317.6 L1142.9,318.5 L1141.4,319.5 L1140.6,321.0 L1140.9,321.9 L1142.0,323.2 L1143.2,324.5 L1144.4,325.7 L1145.0,327.7 L1146.8,328.2 L1148.9,329.1 L1148.5,330.9 L1148.6,332.7 L1149.1,334.3 L1148.3,336.3 L1149.5,337.7 L1150.9,339.5 L1150.2,341.1 L1149.6,342.8 L1149.0,344.4 L1148.3,346.1 L1149.0,347.9 L1149.3,349.7 L1149.1,351.4 L1148.6,353.0 L1147.0,354.5 L1146.8,356.2 L1147.5,358.1 L1147.0,359.7"/>
<path d="M1111.5,355.7 L1113.2,355.9 L1114.9,354.9 L1116.6,355.0 L1118.3,356.2 L1120.0,356.2 L1121.7,356.4 L1123.5,356.1 L1125.3,355.4 L1126.9,356.5 L1128.4,357.8 L1130.2,357.3 L1131.9,357.3 L1133.6,357.5 L1135.3,356.1 L1137.1,356.6 L1138.4,358.7 L1140.2,358.5 L1142.2,357.9 L1143.7,358.7 L1145.4,359.0 L1147.0,359.7"/>
<path d="M1147.0,359.7 L1148.7,359.2 L1150.5,359.7 L1152.1,358.9 L1153.6,357.2 L1155.5,358.8 L1157.3,359.0 L1158.8,356.6 L1160.6,357.3 L1162.4,358.5 L1164.0,357.0 L1165.8,357.1 L1167.5,357.5 L1169.2,357.2 L1170.9,358.5 L1172.6,358.2 L1174.5,356.9 L1176.1,358.4 L1178.0,358.7 L1179.2,356.3 L1180.7,356.0 L1182.8,356.1 L1183.9,354.6 L1185.4,353.8 L1187.0,354.5 L1188.7,354.8 L1189.8,356.6 L1191.5,357.0 L1192.9,356.0 L1195.0,356.8 L1196.9,357.2 L1198.2,355.4 L1199.9,355.2"/>
<path d="M1197.6,301.7 L1198.8,300.6 L1200.4,300.0 L1201.7,299.1 L1203.4,298.8 L1204.1,297.0 L1205.5,296.2"/>
<path d="M1197.6,301.7 L1197.1,303.3 L1196.7,305.0 L1196.4,306.6 L1196.8,308.4 L1197.7,309.4 L1197.0,311.6 L1197.2,313.4 L1198.9,314.4 L1199.3,316.1 L1200.6,317.3 L1201.9,318.7 L1201.3,320.6 L1201.2,322.3 L1201.5,324.0 L1202.9,325.4 L1204.0,326.8 L1202.9,328.7 L1203.2,330.4 L1203.0,332.1 L1202.1,333.7 L1203.8,335.4 L1204.2,337.2 L1202.9,338.8 L1202.4,340.4 L1201.8,342.0 L1202.5,343.8 L1202.5,345.5 L1202.0,347.1 L1202.2,348.9 L1200.3,350.1 L1199.6,351.7 L1200.7,353.7 L1199.9,355.2"/>
<path d="M1199.9,355.2 L1201.7,355.0 L1203.4,355.2 L1205.1,356.0 L1206.0,357.7 L1207.2,359.0 L1208.6,360.0 L1210.4,360.4 L1212.5,360.2 L1213.7,361.6 L1214.9,362.7 L1216.3,363.7 L1216.8,366.2 L1218.5,366.6 L1220.7,366.5 L1221.7,367.9 L1222.8,367.2 L1224.5,366.8 L1226.7,368.1 L1228.2,367.3 L1229.7,366.7 L1231.4,366.3 L1232.9,364.9 L1234.6,364.5 L1236.3,364.9 L1238.1,365.6 L1239.8,366.1 L1241.5,365.5 L1243.2,365.5 L1244.9,364.4 L1246.6,363.6 L1248.3,364.8 L1249.9,364.3 L1251.4,363.6 L1252.9,362.7"/>
<path d="M1199.9,355.2 L1199.1,356.8 L1199.6,358.6 L1200.2,360.3 L1198.8,361.8 L1198.6,363.5 L1198.6,365.2 L1197.1,366.7 L1197.4,368.4 L1198.8,370.3 L1198.4,371.5 L1198.6,373.3 L1199.9,374.5 L1199.8,376.5 L1200.0,378.0 L1202.1,379.1 L1202.9,380.7 L1202.6,382.5 L1203.4,384.0 L1202.4,385.5 L1200.9,386.6 L1200.9,388.6 L1200.9,390.4 L1199.8,391.7 L1199.0,393.2"/>
<path d="M1199.0,393.2 L1197.3,393.8 L1196.6,395.7 L1196.0,397.5 L1193.9,397.8 L1192.7,399.0 L1191.0,399.5 L1189.5,400.3 L1189.1,402.8 L1187.5,403.4 L1185.3,403.1 L1184.1,404.4 L1182.4,404.9 L1181.2,406.2 L1180.2,408.1 L1178.0,407.4 L1176.1,407.5 L1175.1,409.3 L1173.4,409.7 L1172.1,411.1 L1170.6,411.9 L1168.3,410.7 L1166.9,411.8 L1165.8,413.5 L1164.0,413.8 L1162.6,414.8 L1160.7,414.7 L1158.7,414.2 L1157.6,416.2 L1156.0,416.7"/>
<path d="M1101.0,378.7 L1102.7,378.9 L1104.4,378.8 L1106.1,377.4 L1107.7,378.5 L1109.4,378.9 L1110.8,379.8 L1111.1,382.3 L1113.1,382.4 L1113.9,381.2 L1115.3,380.0 L1114.7,377.8 L1116.4,376.8 L1117.6,377.8 L1119.5,377.6 L1120.7,379.0 L1122.5,379.2 L1124.3,378.8 L1125.7,380.1 L1127.4,380.4 L1129.0,381.1 L1130.6,382.1 L1132.4,381.3 L1134.1,381.3 L1135.8,381.2 L1137.5,381.2 L1139.0,382.6 L1140.7,382.5 L1142.4,382.9 L1144.1,383.2 L1145.9,382.0 L1147.5,383.0 L1149.2,383.1 L1150.8,382.5 L1152.6,383.9 L1154.2,382.8 L1155.8,381.6 L1157.6,382.5 L1159.3,381.3 L1160.9,382.0 L1162.6,383.4 L1164.3,382.1 L1166.2,382.4 L1167.3,381.1 L1167.5,378.9 L1169.6,378.7 L1170.1,379.4 L1171.2,380.7 L1171.2,382.6 L1173.1,383.5 L1174.6,384.4 L1175.5,385.9 L1176.8,386.9 L1177.5,388.8 L1179.0,389.6 L1180.7,390.0 L1182.2,390.8 L1184.1,390.7 L1185.4,392.0 L1186.3,393.7 L1188.0,394.2 L1188.8,396.0 L1190.9,395.7 L1192.2,394.0 L1194.2,394.7 L1195.6,393.7 L1197.3,393.5 L1199.0,393.2"/>
<path d="M1111.5,355.7 L1109.8,356.2 L1108.3,357.2 L1106.5,356.9 L1104.8,357.3 L1102.7,357.0 L1101.5,358.4 L1100.2,359.9 L1098.6,360.5 L1096.8,360.7"/>
<path d="M1074.6,362.0 L1076.3,362.4 L1078.0,361.9 L1079.8,360.9 L1081.5,361.7 L1083.4,363.1 L1085.0,362.3 L1086.6,361.6 L1088.0,359.9 L1089.9,360.8 L1091.6,360.4 L1093.4,361.8 L1095.1,360.7 L1096.8,360.7"/>
<path d="M1096.8,360.7 L1097.0,362.4 L1096.6,364.1 L1097.4,365.7 L1097.7,367.4 L1098.3,369.0 L1098.3,370.8 L1097.8,372.6 L1099.1,374.0 L1100.2,375.3 L1100.1,377.3 L1101.0,378.7"/>
<path d="M1101.0,378.7 L1100.6,380.3 L1099.6,381.9 L1101.1,383.7 L1101.6,385.5 L1101.1,386.4 L1102.6,387.0 L1104.3,387.3 L1103.8,387.3 L1102.4,388.2 L1101.6,390.3 L1100.4,391.1 L1098.7,391.7 L1097.6,393.0 L1096.0,393.7 L1094.4,395.1 L1094.7,396.9 L1095.1,398.6 L1094.4,400.2"/>
<path d="M1094.4,400.2 L1093.0,401.2 L1091.7,402.4 L1091.0,403.9 L1089.7,405.0 L1089.1,406.9 L1088.1,408.3 L1086.0,407.9 L1084.7,406.8 L1083.4,405.8 L1082.2,404.5 L1080.3,404.3 L1078.4,404.1 L1077.2,402.8 L1075.9,401.6 L1075.0,400.2 L1074.2,398.4 L1072.8,397.6 L1071.1,396.9 L1069.7,395.9 L1068.4,394.3 L1068.6,392.5 L1069.3,390.7 L1069.7,389.5 L1070.3,387.9 L1070.7,386.2 L1070.6,384.2 L1071.8,383.0 L1073.0,381.7"/>
<path d="M1073.0,381.7 L1073.7,380.1 L1074.0,378.4 L1074.1,376.6 L1076.1,375.5 L1075.3,373.6 L1077.1,372.1 L1076.7,370.3 L1077.3,368.6 L1075.1,367.3 L1075.2,365.4 L1075.2,363.6 L1074.6,362.0"/>
<path d="M1073.0,381.7 L1071.4,381.1 L1069.8,381.0 L1068.0,381.5 L1066.3,381.9 L1064.8,380.6 L1063.2,380.1 L1061.4,379.9 L1059.9,381.1 L1058.3,381.7 L1056.6,381.2 L1054.9,380.9 L1053.2,380.8 L1051.8,382.3 L1050.2,382.9 L1049.0,383.2 L1047.3,383.8 L1046.3,385.2"/>
<path d="M1046.3,385.2 L1044.7,384.9 L1043.0,384.6 L1041.8,383.0 L1040.1,382.3 L1038.2,384.2 L1036.6,383.1 L1035.0,382.7"/>
<path d="M1046.3,385.2 L1046.9,386.8 L1047.4,388.5 L1045.7,390.3 L1046.8,391.9 L1047.0,393.6 L1046.8,395.5 L1049.1,396.5 L1049.3,398.2 L1049.3,400.0 L1051.1,400.2 L1052.1,401.9 L1053.5,402.9 L1055.2,403.2 L1056.0,404.7 L1057.1,406.0 L1058.1,407.5 L1058.0,409.3 L1057.9,411.1 L1058.4,412.7 L1059.6,414.1 L1059.4,415.8 L1059.3,417.5 L1059.6,419.3 L1058.0,420.7 L1057.4,422.3 L1057.9,424.1 L1056.6,425.6 L1057.1,427.4 L1057.9,429.3 L1055.9,430.6 L1055.9,432.3 L1055.6,434.0 L1053.6,435.2 L1055.2,437.2 L1056.0,438.9 L1055.3,440.6 L1056.6,442.2 L1056.1,443.9 L1055.0,445.7 L1055.9,447.3 L1056.1,449.0 L1056.4,450.7 L1057.4,452.3 L1057.2,454.0 L1057.0,455.7"/>
<path d="M1094.4,400.2 L1094.7,402.0 L1096.7,402.9 L1097.3,404.5 L1098.7,405.8 L1097.2,408.5 L1099.2,409.4 L1099.4,411.3 L1101.8,412.1 L1101.6,414.1 L1101.8,415.9 L1101.0,417.9 L1102.3,419.3 L1101.2,420.7 L1100.9,422.5 L1099.5,423.7"/>
<path d="M1075.5,386.7 L1079.7,381.9 L1084.5,380.7 L1088.0,387.2 L1093.0,391.7 L1089.0,395.2 L1085.5,397.7 L1080.0,394.2 L1074.8,390.7Z"/>
</g>
<text class="lb w" x="899" y="104.7">Satu Mare</text>
<text class="lb w" x="971.5" y="103.7">Maramureș</text>
<text class="lb w" x="905.5" y="149.7">Sălaj</text>
<text class="lb w" x="858" y="169.7">Bihor</text>
<text class="lb w" x="990.5" y="148.2">Bistrița Năsăud</text>
<text class="lb w" x="940" y="184.2">Cluj</text>
<text class="lb w" x="1064" y="118.7">Suceava</text>
<text class="lb w" x="1115.5" y="88.7">Botoșani</text>
<text class="lb w" x="1139" y="146.2">Iași</text>
<text class="lb w" x="1094" y="168.7">Neamț</text>
<text class="lb w" x="992.5" y="202.7">Mureș</text>
<text class="lb w" x="1048" y="212.7">Harghita</text>
<text class="lb w" x="834.5" y="227.7">Arad</text>
<text class="lb w" x="936" y="239.7">Alba</text>
<text class="lb w" x="973" y="268.2">Sibiu</text>
<text class="lb w" x="823" y="273.2">Timiș</text>
<text class="lb w" x="898" y="276.2">Hunedoara</text>
<text class="lb w" x="1027" y="277.2">Brașov</text>
<text class="lb w" x="1075.5" y="265.7">Covasna</text>
<text class="lb w" x="1179.5" y="206.7">Vaslui</text>
<text class="lb w" x="1124" y="219.2">Bacău</text>
<text class="lb w" x="1126.5" y="273.7">Vrancea</text>
<text class="lb d" x="1177" y="273.7">Galați</text>
<text class="lb w" x="843.8" y="328.0">Caras-Severin</text>
<text class="lb w" x="919.5" y="342.2">Gorj</text>
<text class="lb w" x="968" y="340.2">Vâlcea</text>
<text class="lb w" x="1007" y="341.2">Argeș</text>
<text class="lb w" x="1078" y="333.7">Prahova</text>
<text class="lb w" x="1122.7" y="328.2">Buzău</text>
<text class="lb d" x="1176.5" y="333.7">Brăila</text>
<text class="lb w" x="1248.5" y="333.7">Tulcea</text>
<text class="lb w" x="1046" y="356.7">Dâmbovița</text>
<text class="lb d" x="1088.5" y="377.2">Ilfov</text>
<text class="lb d" x="1144" y="374.7">Ialomița</text>
<text class="lb w" x="903.7" y="379.2">Mehedinți</text>
<text class="lb d" x="1082.5" y="393.2">București</text>
<text class="lb d" x="1139.7" y="402.7">Călărași</text>
<text class="lb w" x="937" y="419.7">Dolj</text>
<text class="lb d" x="988" y="409.2">Olt</text>
<text class="lb d" x="1030" y="425.7">Teleorman</text>
<text class="lb d" x="1081.5" y="420.2">Giurgiu</text>
<text class="lb d" x="1207" y="421.2">Constanța</text>
<text class="lt" style="font-size:11.9px" x="1237.6" y="76.9">Forests area</text><text class="lt" style="font-size:11.9px" x="1237.2" y="91.9">(% of county area)</text>
<rect x="1237" y="103.5" width="28" height="14.6" fill="#226d3b"/>
<line x1="1237" y1="118.1" x2="1265" y2="118.1" stroke="#4b6b58" stroke-width="0.9"/>
<text class="lg" x="1270.6" y="115.7">40.01 - 49.88</text>
<rect x="1237" y="124.0" width="28" height="14.6" fill="#3f8a57"/>
<line x1="1237" y1="138.6" x2="1265" y2="138.6" stroke="#4b6b58" stroke-width="0.9"/>
<text class="lg" x="1270.6" y="136.2">30.01 - 40</text>
<rect x="1237" y="144.4" width="28" height="14.6" fill="#62a379"/>
<line x1="1237" y1="159.0" x2="1265" y2="159.0" stroke="#4b6b58" stroke-width="0.9"/>
<text class="lg" x="1270.6" y="156.6">20.01 - 30</text>
<rect x="1237" y="164.8" width="28" height="14.6" fill="#8cbd9d"/>
<line x1="1237" y1="179.4" x2="1265" y2="179.4" stroke="#4b6b58" stroke-width="0.9"/>
<text class="lg" x="1270.6" y="177.0">10.01 - 20</text>
<rect x="1237" y="185.3" width="28" height="14.6" fill="#b3d7bf"/>
<line x1="1237" y1="199.9" x2="1265" y2="199.9" stroke="#4b6b58" stroke-width="0.9"/>
<text class="lg" x="1270.6" y="197.5">5.01 - 10</text>
<rect x="1237" y="205.8" width="28" height="14.6" fill="#d9f2e3"/>
<line x1="1237" y1="220.3" x2="1265" y2="220.3" stroke="#4b6b58" stroke-width="0.9"/>
<text class="lg" x="1270.6" y="217.9">2.52 - 5</text>
<rect x="510.1" y="476.6" width="150" height="7.6" fill="#000"/><rect x="548.6" y="477.8" width="36" height="5.2" fill="#fff"/><text x="510.6" y="471.1" text-anchor="middle" style="font-size:10.8px;fill:#111">0</text><text x="585.9" y="471.1" text-anchor="middle" style="font-size:10.8px;fill:#111">100</text><text x="659.9000000000001" y="471.1" text-anchor="middle" style="font-size:10.8px;fill:#111">200</text><text x="663.4000000000001" y="483.5" style="font-size:11.6px;fill:#111">Km</text>
<rect x="1190.2" y="475.70000000000005" width="150" height="7.6" fill="#000"/><rect x="1228.7" y="476.90000000000003" width="36" height="5.2" fill="#fff"/><text x="1190.7" y="470.20000000000005" text-anchor="middle" style="font-size:10.8px;fill:#111">0</text><text x="1266.0" y="470.20000000000005" text-anchor="middle" style="font-size:10.8px;fill:#111">100</text><text x="1340.0" y="470.20000000000005" text-anchor="middle" style="font-size:10.8px;fill:#111">200</text><text x="1343.5" y="482.6" style="font-size:11.6px;fill:#111">Km</text>
<text x="44" y="516.9" style="font-size:13.3px;fill:#222">Data source: NIS (2020)</text>
</svg></body></html>
